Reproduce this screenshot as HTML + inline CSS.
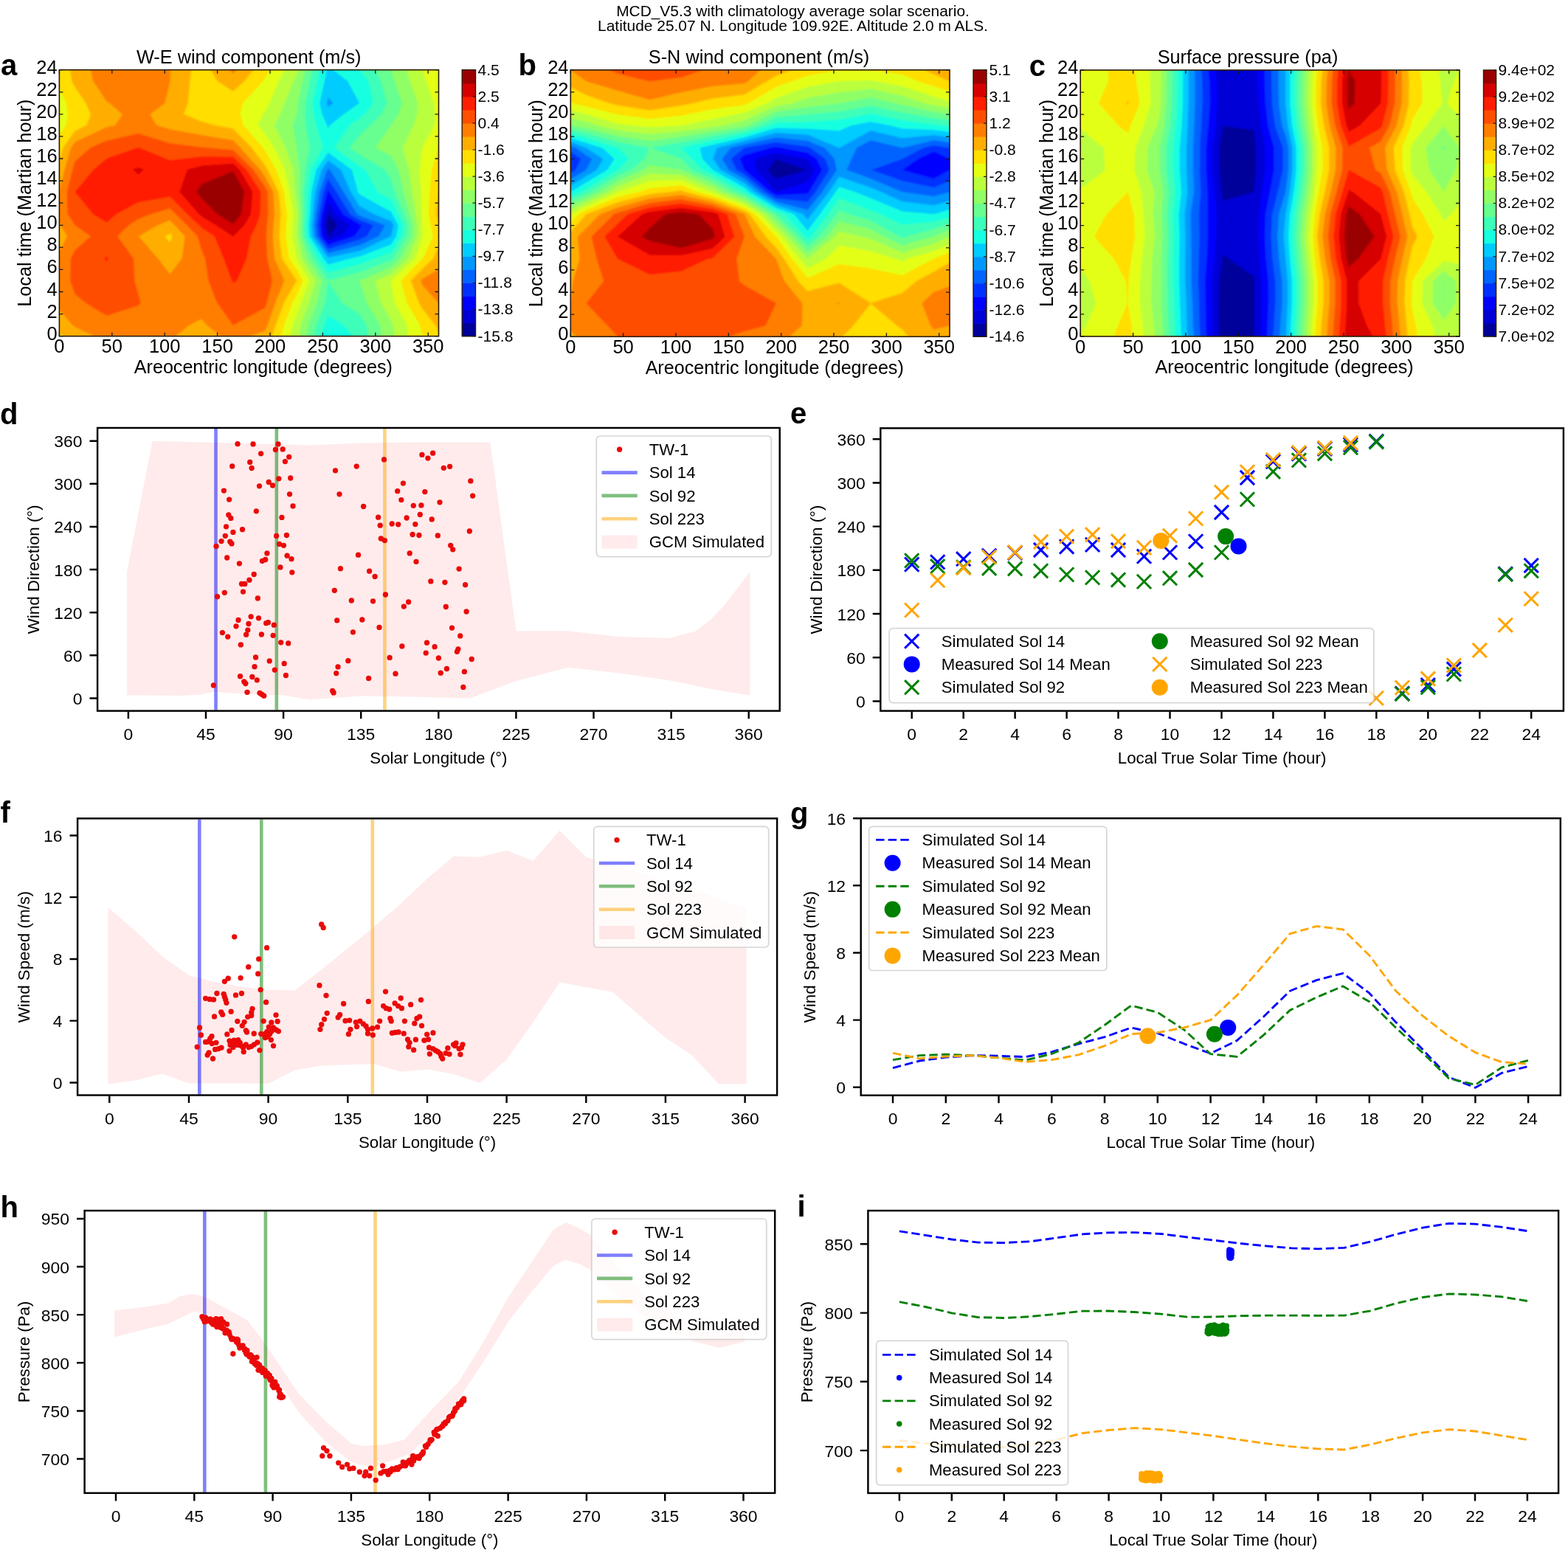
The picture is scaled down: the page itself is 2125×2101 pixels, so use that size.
<!DOCTYPE html>
<html lang="en"><head><meta charset="utf-8"><title>Figure</title>
<style>
html,body{margin:0;padding:0;background:#fff;}
body{width:2125px;height:2101px;overflow:hidden;}
svg{display:block;font-family:'Liberation Sans', sans-serif;}
</style></head><body>
<svg width="2125" height="2101" viewBox="0 0 2125 2101">
<rect x="0" y="0" width="2125" height="2101" fill="#fff"/>
<defs><filter id="hb" x="-5%" y="-5%" width="110%" height="110%"><feGaussianBlur stdDeviation="1.1"/></filter></defs>
<text x="1074.5" y="21.5" font-size="20.92" text-anchor="middle" fill="#000">MCD_V5.3 with climatology average solar scenario.</text>
<text x="1074.5" y="42.4" font-size="20.92" text-anchor="middle" fill="#000">Latitude 25.07 N. Longitude 109.92E. Altitude 2.0 m ALS.</text>
<clipPath id="clip_a"><rect x="80.4" y="94.7" width="514.1" height="361"/></clipPath>
<g clip-path="url(#clip_a)"><g filter="url(#hb)">
<rect x="72.4" y="86.7" width="530.1" height="377" fill="#00009b"/>
<path fill="#0000d6" stroke="#0000d6" stroke-width="0.6" fill-rule="evenodd" d="M72.4 463.7L80.4 463.7L101.8 463.7L144.7 463.7L187.5 463.7L230.3 463.7L273.2 463.7L316 463.7L358.9 463.7L401.7 463.7L444.6 463.7L487.4 463.7L530.2 463.7L573.1 463.7L594.5 463.7L602.5 463.7L602.5 455.7L602.5 440.7L602.5 410.6L602.5 380.5L602.5 350.4L602.5 320.3L602.5 305.3L602.5 290.2L602.5 260.2L602.5 230.1L602.5 200L602.5 169.9L602.5 154.9L602.5 139.8L602.5 109.7L602.5 94.7L602.5 86.7L594.5 86.7L573.1 86.7L530.2 86.7L487.4 86.7L444.6 86.7L401.7 86.7L358.9 86.7L316 86.7L273.2 86.7L230.3 86.7L187.5 86.7L144.7 86.7L101.8 86.7L80.4 86.7L72.4 86.7L72.4 94.7L72.4 109.7L72.4 139.8L72.4 154.9L72.4 169.9L72.4 200L72.4 230.1L72.4 260.2L72.4 290.2L72.4 305.3L72.4 320.3L72.4 350.4L72.4 380.5L72.4 410.6L72.4 440.7L72.4 455.7ZM444.6 320.9L444.1 320.3L441.5 305.3L444.1 290.2L444.6 288.7L445.5 290.2L457.7 305.3L446.3 320.3Z"/>
<path fill="#0000ff" stroke="#0000ff" stroke-width="0.6" fill-rule="evenodd" d="M72.4 463.7L80.4 463.7L101.8 463.7L144.7 463.7L187.5 463.7L230.3 463.7L273.2 463.7L316 463.7L358.9 463.7L401.7 463.7L444.6 463.7L487.4 463.7L530.2 463.7L573.1 463.7L594.5 463.7L602.5 463.7L602.5 455.7L602.5 440.7L602.5 410.6L602.5 380.5L602.5 350.4L602.5 320.3L602.5 305.3L602.5 290.2L602.5 260.2L602.5 230.1L602.5 200L602.5 169.9L602.5 154.9L602.5 139.8L602.5 109.7L602.5 94.7L602.5 86.7L594.5 86.7L573.1 86.7L530.2 86.7L487.4 86.7L444.6 86.7L401.7 86.7L358.9 86.7L316 86.7L273.2 86.7L230.3 86.7L187.5 86.7L144.7 86.7L101.8 86.7L80.4 86.7L72.4 86.7L72.4 94.7L72.4 109.7L72.4 139.8L72.4 154.9L72.4 169.9L72.4 200L72.4 230.1L72.4 260.2L72.4 290.2L72.4 305.3L72.4 320.3L72.4 350.4L72.4 380.5L72.4 410.6L72.4 440.7L72.4 455.7ZM444.6 326.6L440 320.3L437.7 305.3L440.1 290.2L444.6 272.8L455.3 290.2L474.2 305.3L463.4 320.3Z"/>
<path fill="#0030ff" stroke="#0030ff" stroke-width="0.6" fill-rule="evenodd" d="M72.4 463.7L80.4 463.7L101.8 463.7L144.7 463.7L187.5 463.7L230.3 463.7L273.2 463.7L316 463.7L358.9 463.7L401.7 463.7L444.6 463.7L487.4 463.7L530.2 463.7L573.1 463.7L594.5 463.7L602.5 463.7L602.5 455.7L602.5 440.7L602.5 410.6L602.5 380.5L602.5 350.4L602.5 320.3L602.5 305.3L602.5 290.2L602.5 260.2L602.5 230.1L602.5 200L602.5 169.9L602.5 154.9L602.5 139.8L602.5 109.7L602.5 94.7L602.5 86.7L594.5 86.7L573.1 86.7L530.2 86.7L487.4 86.7L444.6 86.7L401.7 86.7L358.9 86.7L316 86.7L273.2 86.7L230.3 86.7L187.5 86.7L144.7 86.7L101.8 86.7L80.4 86.7L72.4 86.7L72.4 94.7L72.4 109.7L72.4 139.8L72.4 154.9L72.4 169.9L72.4 200L72.4 230.1L72.4 260.2L72.4 290.2L72.4 305.3L72.4 320.3L72.4 350.4L72.4 380.5L72.4 410.6L72.4 440.7L72.4 455.7ZM444.6 332.2L435.9 320.3L433.8 305.3L436.1 290.2L443.5 260.2L444.6 257.1L446.5 260.2L465 290.2L487.4 304.1L490.6 305.3L487.4 310.3L480.5 320.3Z"/>
<path fill="#0064ff" stroke="#0064ff" stroke-width="0.6" fill-rule="evenodd" d="M72.4 463.7L80.4 463.7L101.8 463.7L144.7 463.7L187.5 463.7L230.3 463.7L273.2 463.7L316 463.7L358.9 463.7L401.7 463.7L444.6 463.7L487.4 463.7L530.2 463.7L573.1 463.7L594.5 463.7L602.5 463.7L602.5 455.7L602.5 440.7L602.5 410.6L602.5 380.5L602.5 350.4L602.5 320.3L602.5 305.3L602.5 290.2L602.5 260.2L602.5 230.1L602.5 200L602.5 169.9L602.5 154.9L602.5 139.8L602.5 109.7L602.5 94.7L602.5 86.7L594.5 86.7L573.1 86.7L530.2 86.7L487.4 86.7L444.6 86.7L401.7 86.7L358.9 86.7L316 86.7L273.2 86.7L230.3 86.7L187.5 86.7L144.7 86.7L101.8 86.7L80.4 86.7L72.4 86.7L72.4 94.7L72.4 109.7L72.4 139.8L72.4 154.9L72.4 169.9L72.4 200L72.4 230.1L72.4 260.2L72.4 290.2L72.4 305.3L72.4 320.3L72.4 350.4L72.4 380.5L72.4 410.6L72.4 440.7L72.4 455.7ZM444.6 337.9L431.8 320.3L430 305.3L432 290.2L438 260.2L444.6 242.1L456.2 260.2L474.7 290.2L487.4 298.1L506.4 305.3L497.3 320.3L487.4 325Z"/>
<path fill="#0098ff" stroke="#0098ff" stroke-width="0.6" fill-rule="evenodd" d="M72.4 463.7L80.4 463.7L101.8 463.7L144.7 463.7L187.5 463.7L230.3 463.7L273.2 463.7L316 463.7L358.9 463.7L401.7 463.7L444.6 463.7L487.4 463.7L530.2 463.7L573.1 463.7L594.5 463.7L602.5 463.7L602.5 455.7L602.5 440.7L602.5 410.6L602.5 380.5L602.5 350.4L602.5 320.3L602.5 305.3L602.5 290.2L602.5 260.2L602.5 230.1L602.5 200L602.5 169.9L602.5 154.9L602.5 139.8L602.5 109.7L602.5 94.7L602.5 86.7L594.5 86.7L573.1 86.7L530.2 86.7L487.4 86.7L444.6 86.7L401.7 86.7L358.9 86.7L316 86.7L273.2 86.7L230.3 86.7L187.5 86.7L144.7 86.7L101.8 86.7L80.4 86.7L72.4 86.7L72.4 94.7L72.4 109.7L72.4 139.8L72.4 154.9L72.4 169.9L72.4 200L72.4 230.1L72.4 260.2L72.4 290.2L72.4 305.3L72.4 320.3L72.4 350.4L72.4 380.5L72.4 410.6L72.4 440.7L72.4 455.7ZM444.6 343.6L427.7 320.3L426.2 305.3L428 290.2L432.6 260.2L443.1 230.1L444.6 227.9L447.5 230.1L466 260.2L484.5 290.2L487.4 292L522.3 305.3L513.8 320.3L487.4 332.7Z"/>
<path fill="#00ccff" stroke="#00ccff" stroke-width="0.6" fill-rule="evenodd" d="M72.4 463.7L80.4 463.7L101.8 463.7L144.7 463.7L187.5 463.7L230.3 463.7L273.2 463.7L316 463.7L358.9 463.7L401.7 463.7L444.6 463.7L487.4 463.7L530.2 463.7L573.1 463.7L594.5 463.7L602.5 463.7L602.5 455.7L602.5 440.7L602.5 410.6L602.5 380.5L602.5 350.4L602.5 320.3L602.5 305.3L602.5 290.2L602.5 260.2L602.5 230.1L602.5 200L602.5 169.9L602.5 154.9L602.5 139.8L602.5 109.7L602.5 94.7L602.5 86.7L594.5 86.7L573.1 86.7L530.2 86.7L487.4 86.7L444.6 86.7L401.7 86.7L358.9 86.7L316 86.7L273.2 86.7L230.3 86.7L187.5 86.7L144.7 86.7L101.8 86.7L80.4 86.7L72.4 86.7L72.4 94.7L72.4 109.7L72.4 139.8L72.4 154.9L72.4 169.9L72.4 200L72.4 230.1L72.4 260.2L72.4 290.2L72.4 305.3L72.4 320.3L72.4 350.4L72.4 380.5L72.4 410.6L72.4 440.7L72.4 455.7ZM444.6 349.3L423.5 320.3L422.4 305.3L423.9 290.2L427.2 260.2L435.7 230.1L444.6 217.2L462.3 230.1L475.7 260.2L487.4 279.2L507.4 290.2L530.2 299.5L533.5 305.3L530.2 320.3L530.2 320.3L487.4 340.4ZM444.6 145.8L442.6 139.8L444.6 131.2L451.7 139.8Z"/>
<path fill="#16ffe1" stroke="#16ffe1" stroke-width="0.6" fill-rule="evenodd" d="M72.4 463.7L80.4 463.7L101.8 463.7L144.7 463.7L187.5 463.7L230.3 463.7L273.2 463.7L316 463.7L358.9 463.7L401.7 463.7L444.6 463.7L444.6 455.7L444.6 455.7L444.6 455.7L444.6 463.7L487.4 463.7L530.2 463.7L573.1 463.7L594.5 463.7L602.5 463.7L602.5 455.7L602.5 440.7L602.5 410.6L602.5 380.5L602.5 350.4L602.5 320.3L602.5 305.3L602.5 290.2L602.5 260.2L602.5 230.1L602.5 200L602.5 169.9L602.5 154.9L602.5 139.8L602.5 109.7L602.5 94.7L602.5 86.7L594.5 86.7L573.1 86.7L530.2 86.7L487.4 86.7L451.7 86.7L451.7 94.7L471.3 109.7L487.4 139.8L487.4 139.8L487.4 139.8L466 154.9L447.2 169.9L444.6 174.2L443.1 169.9L436.4 154.9L432.9 139.8L439.6 109.7L442.6 94.7L442.6 86.7L401.7 86.7L358.9 86.7L316 86.7L273.2 86.7L230.3 86.7L187.5 86.7L144.7 86.7L101.8 86.7L80.4 86.7L72.4 86.7L72.4 94.7L72.4 109.7L72.4 139.8L72.4 154.9L72.4 169.9L72.4 200L72.4 230.1L72.4 260.2L72.4 290.2L72.4 305.3L72.4 320.3L72.4 350.4L72.4 380.5L72.4 410.6L72.4 440.7L72.4 455.7ZM444.6 359L438.6 350.4L419.4 320.3L418.5 305.3L419.9 290.2L421.8 260.2L428.3 230.1L444.6 206.4L477.1 230.1L485.4 260.2L487.4 263.3L530.2 286.9L531.8 290.2L540 305.3L537.4 320.3L530.2 331.5L487.4 348.1L475.7 350.4Z"/>
<path fill="#3cffba" stroke="#3cffba" stroke-width="0.6" fill-rule="evenodd" d="M72.4 463.7L80.4 463.7L101.8 463.7L144.7 463.7L187.5 463.7L230.3 463.7L273.2 463.7L316 463.7L358.9 463.7L401.7 463.7L434.6 463.7L434.6 455.7L439.2 440.7L444.6 427L466 440.7L477.5 455.7L477.5 463.7L487.4 463.7L530.2 463.7L573.1 463.7L594.5 463.7L602.5 463.7L602.5 455.7L602.5 440.7L602.5 410.6L602.5 380.5L602.5 350.4L602.5 320.3L602.5 305.3L602.5 290.2L602.5 260.2L602.5 230.1L602.5 200L602.5 169.9L602.5 154.9L602.5 139.8L602.5 109.7L602.5 94.7L602.5 86.7L594.5 86.7L573.1 86.7L530.2 86.7L487.4 86.7L487.4 94.7L499.4 109.7L506 139.8L494.2 154.9L487.4 160.5L474 169.9L453.1 200L487.4 225.3L495.4 230.1L511.9 260.2L530.2 270.2L539.8 290.2L546.5 305.3L544.5 320.3L530.2 342.6L508.8 350.4L487.4 358.2L444.6 369.7L431.3 350.4L415.3 320.3L414.7 305.3L415.9 290.2L416.4 260.2L420.9 230.1L437.4 200L428.3 169.9L424.9 154.9L423.1 139.8L429.6 109.7L432.9 94.7L432.9 86.7L401.7 86.7L358.9 86.7L316 86.7L273.2 86.7L230.3 86.7L187.5 86.7L144.7 86.7L101.8 86.7L80.4 86.7L72.4 86.7L72.4 94.7L72.4 109.7L72.4 139.8L72.4 154.9L72.4 169.9L72.4 200L72.4 230.1L72.4 260.2L72.4 290.2L72.4 305.3L72.4 320.3L72.4 350.4L72.4 380.5L72.4 410.6L72.4 440.7L72.4 455.7Z"/>
<path fill="#66ff90" stroke="#66ff90" stroke-width="0.6" fill-rule="evenodd" d="M72.4 463.7L80.4 463.7L101.8 463.7L144.7 463.7L187.5 463.7L230.3 463.7L273.2 463.7L316 463.7L358.9 463.7L401.7 463.7L424.6 463.7L424.6 455.7L428.5 440.7L440.2 410.6L444.6 380.5L423.9 350.4L411.2 320.3L410.9 305.3L411.8 290.2L410.9 260.2L413.5 230.1L419.6 200L413.5 169.9L413.3 154.9L413.4 139.8L419.6 109.7L423.1 94.7L423.1 86.7L401.7 86.7L358.9 86.7L316 86.7L273.2 86.7L230.3 86.7L187.5 86.7L144.7 86.7L101.8 86.7L80.4 86.7L72.4 86.7L72.4 94.7L72.4 109.7L72.4 139.8L72.4 154.9L72.4 169.9L72.4 200L72.4 230.1L72.4 260.2L72.4 290.2L72.4 305.3L72.4 320.3L72.4 350.4L72.4 380.5L72.4 410.6L72.4 440.7L72.4 455.7ZM499.4 463.7L530.2 463.7L573.1 463.7L594.5 463.7L602.5 463.7L602.5 455.7L602.5 440.7L602.5 410.6L602.5 380.5L602.5 350.4L602.5 320.3L602.5 305.3L602.5 290.2L602.5 260.2L602.5 230.1L602.5 200L602.5 169.9L602.5 154.9L602.5 139.8L602.5 109.7L602.5 94.7L602.5 86.7L594.5 86.7L573.1 86.7L530.2 86.7L508.8 86.7L508.8 94.7L516.5 109.7L524.6 139.8L516.7 154.9L501.7 169.9L487.4 183.6L474.5 200L487.4 209.5L522.2 230.1L530.2 243L535 260.2L547.7 290.2L553 305.3L551.7 320.3L533.2 350.4L530.2 353.1L487.4 369.3L444.6 380.5L463.6 410.6L487.4 425.6L496.7 440.7L499.4 455.7Z"/>
<path fill="#90ff66" stroke="#90ff66" stroke-width="0.6" fill-rule="evenodd" d="M72.4 463.7L80.4 463.7L101.8 463.7L144.7 463.7L187.5 463.7L230.3 463.7L273.2 463.7L316 463.7L358.9 463.7L401.7 463.7L414.7 463.7L414.7 455.7L417.8 440.7L429.2 410.6L436 380.5L416.5 350.4L407.1 320.3L407.1 305.3L407.8 290.2L405.5 260.2L406.1 230.1L401.7 200L401.7 200L396.7 169.9L401.7 154.9L401.7 154.9L403.7 139.8L409.7 109.7L413.4 94.7L413.4 86.7L401.7 86.7L358.9 86.7L316 86.7L273.2 86.7L230.3 86.7L187.5 86.7L144.7 86.7L101.8 86.7L80.4 86.7L72.4 86.7L72.4 94.7L72.4 109.7L72.4 139.8L72.4 154.9L72.4 169.9L72.4 200L72.4 230.1L72.4 260.2L72.4 290.2L72.4 305.3L72.4 320.3L72.4 350.4L72.4 380.5L72.4 410.6L72.4 440.7L72.4 455.7ZM516.5 463.7L530.2 463.7L573.1 463.7L594.5 463.7L602.5 463.7L602.5 455.7L602.5 440.7L602.5 410.6L602.5 380.5L602.5 350.4L602.5 320.3L602.5 305.3L602.5 290.2L602.5 260.2L602.5 230.1L602.5 200L602.5 169.9L602.5 154.9L602.5 139.8L602.5 109.7L602.5 94.7L602.5 86.7L594.5 86.7L573.1 86.7L530.2 86.7L530.2 94.7L534.5 109.7L545.2 139.8L540.3 154.9L530.2 169.9L530.2 169.9L508.8 200L530.2 210.9L540.2 230.1L546.9 260.2L555.6 290.2L559.4 305.3L558.8 320.3L543.2 350.4L530.2 362.3L487.4 380.5L497.1 410.6L515.3 440.7L516.5 455.7Z"/>
<path fill="#baff3c" stroke="#baff3c" stroke-width="0.6" fill-rule="evenodd" d="M72.4 463.7L80.4 463.7L101.8 463.7L144.7 463.7L187.5 463.7L230.3 463.7L273.2 463.7L316 463.7L358.9 463.7L401.7 463.7L404.7 463.7L404.7 455.7L407.1 440.7L418.2 410.6L427.4 380.5L409.1 350.4L402.9 320.3L403.2 305.3L403.7 290.2L401.7 271.4L399.5 260.2L397.1 230.1L386.4 200L371.5 169.9L379.2 154.9L385.4 139.8L397.6 109.7L401.7 102.2L403.7 94.7L403.7 86.7L401.7 86.7L358.9 86.7L316 86.7L273.2 86.7L230.3 86.7L187.5 86.7L144.7 86.7L101.8 86.7L80.4 86.7L72.4 86.7L72.4 94.7L72.4 109.7L72.4 139.8L72.4 154.9L72.4 169.9L72.4 200L72.4 230.1L72.4 260.2L72.4 290.2L72.4 305.3L72.4 320.3L72.4 350.4L72.4 380.5L72.4 410.6L72.4 440.7L72.4 455.7ZM534.1 463.7L573.1 463.7L594.5 463.7L602.5 463.7L602.5 455.7L602.5 440.7L602.5 410.6L602.5 380.5L602.5 350.4L602.5 320.3L602.5 305.3L602.5 290.2L602.5 260.2L602.5 230.1L602.5 200L602.5 169.9L602.5 154.9L602.5 139.8L602.5 109.7L602.5 94.7L602.5 86.7L594.5 86.7L573.1 86.7L551.7 86.7L551.7 94.7L555.9 109.7L566.7 139.8L565.5 154.9L560.8 169.9L546.3 200L554.5 230.1L558.8 260.2L563.6 290.2L565.9 305.3L565.9 320.3L553.2 350.4L530.2 371.4L508.8 380.5L516.6 410.6L530.2 434L533.8 440.7L534.1 455.7Z"/>
<path fill="#e4ff13" stroke="#e4ff13" stroke-width="0.6" fill-rule="evenodd" d="M72.4 463.7L80.4 463.7L101.8 463.7L144.7 463.7L187.5 463.7L230.3 463.7L273.2 463.7L316 463.7L358.9 463.7L392.9 463.7L392.9 455.7L396.1 440.7L401.7 425.6L407.2 410.6L418.8 380.5L401.7 350.4L401.7 350.4L395.6 320.3L396.5 305.3L397.4 290.2L392.1 260.2L385.5 230.1L371.1 200L358.9 181.5L349.1 169.9L355.8 154.9L358.9 151.1L365 139.8L377.2 109.7L385.4 94.7L385.4 86.7L358.9 86.7L316 86.7L273.2 86.7L230.3 86.7L187.5 86.7L144.7 86.7L101.8 86.7L80.4 86.7L72.4 86.7L72.4 94.7L72.4 109.7L72.4 139.8L72.4 154.9L72.4 169.9L72.4 200L72.4 230.1L72.4 260.2L72.4 290.2L72.4 305.3L72.4 320.3L72.4 350.4L72.4 380.5L72.4 410.6L72.4 440.7L72.4 455.7ZM553.6 463.7L573.1 463.7L594.5 463.7L602.5 463.7L602.5 455.7L602.5 440.7L602.5 410.6L602.5 380.5L602.5 350.4L602.5 320.3L602.5 305.3L602.5 290.2L602.5 260.2L602.5 230.1L602.5 200L602.5 169.9L602.5 154.9L602.5 139.8L602.5 109.7L602.5 94.7L602.5 86.7L594.5 86.7L573.1 86.7L573.1 94.7L577.8 109.7L588.1 139.8L589.7 154.9L589.1 169.9L573.1 200L573.1 200L568.8 230.1L570.7 260.2L571.5 290.2L572.4 305.3L573.1 320.3L573.1 320.3L573.1 320.3L563.1 350.4L530.2 380.5L535.2 410.6L551.7 440.7L553.6 455.7Z"/>
<path fill="#ffde00" stroke="#ffde00" stroke-width="0.6" fill-rule="evenodd" d="M72.4 463.7L80.4 463.7L101.8 463.7L144.7 463.7L187.5 463.7L230.3 463.7L273.2 463.7L316 463.7L358.9 463.7L380.3 463.7L380.3 455.7L384.8 440.7L395.9 410.6L401.7 400.5L410.3 380.5L401.7 365.4L391.7 350.4L386.8 320.3L387.7 305.3L388.9 290.2L384.7 260.2L373.9 230.1L358.9 204L355.8 200L329.7 169.9L325.2 154.9L328.9 139.8L356.4 109.7L358.9 106L365 94.7L365 86.7L358.9 86.7L316 86.7L273.2 86.7L230.3 86.7L187.5 86.7L144.7 86.7L101.8 86.7L80.4 86.7L72.4 86.7L72.4 94.7L72.4 109.7L72.4 119.8L80.4 119.8L89.9 139.8L92.3 154.9L89.9 169.9L80.4 183.3L72.4 183.3L72.4 200L72.4 230.1L72.4 260.2L72.4 290.2L72.4 305.3L72.4 320.3L72.4 350.4L72.4 380.5L72.4 410.6L72.4 440.7L72.4 455.7ZM573.1 463.7L594.5 463.7L602.5 463.7L602.5 455.7L602.5 440.7L602.5 410.6L602.5 380.5L602.5 350.4L602.5 320.3L602.5 305.3L602.5 290.2L602.5 260.2L602.5 230.1L602.5 200L594.5 200L585.6 230.1L582.6 260.2L581.2 290.2L583.8 305.3L587.4 320.3L573.1 350.4L573.1 350.4L543.6 380.5L551.7 410.6L569.5 440.7L573.1 455.7L573.1 455.7Z"/>
<path fill="#ffae00" stroke="#ffae00" stroke-width="0.6" fill-rule="evenodd" d="M86.5 463.7L101.8 463.7L144.7 463.7L187.5 463.7L230.3 463.7L273.2 463.7L316 463.7L358.9 463.7L367.7 463.7L367.7 455.7L373.5 440.7L384.3 410.6L401.7 380.5L381.8 350.4L378.1 320.3L379 305.3L380.3 290.2L377.3 260.2L362.3 230.1L358.9 224.1L340.5 200L316 174.7L290.3 169.9L273.2 164.9L248.7 154.9L254.4 139.8L257.1 109.7L258.9 94.7L258.9 86.7L230.3 86.7L187.5 86.7L144.7 86.7L101.8 86.7L95.4 86.7L95.4 94.7L97.5 109.7L101.8 118.3L116.6 139.8L123.2 154.9L117.7 169.9L101.8 177.4L85.8 200L80.4 218.8L72.4 218.8L72.4 230.1L72.4 260.2L72.4 290.2L72.4 305.3L72.4 320.3L72.4 350.4L72.4 380.5L72.4 410.6L72.4 440.7L72.4 451.4L80.4 451.4L86.5 455.7ZM230.3 328.9L223.2 320.3L230.3 316.6L233.8 320.3ZM590.2 440.7L594.5 448.2L602.5 448.2L602.5 440.7L602.5 410.6L602.5 380.5L602.5 350.4L602.5 335.4L594.5 335.4L587.4 350.4L573.1 364.1L557 380.5L568.1 410.6L573.1 418.8ZM591.4 290.2L594.5 301.5L602.5 301.5L602.5 290.2L602.5 260.2L594.5 260.2ZM294.6 109.7L316 123.6L331.1 109.7L343.1 94.7L343.1 86.7L316 86.7L285.8 86.7L285.8 94.7Z"/>
<path fill="#ff7e00" stroke="#ff7e00" stroke-width="0.6" fill-rule="evenodd" d="M128.6 463.7L144.7 463.7L187.5 463.7L230.3 463.7L237.5 463.7L237.5 455.7L256.1 440.7L273.2 432.1L280.3 440.7L300 455.7L300 463.7L316 463.7L337.4 463.7L337.4 455.7L358.9 448.2L362.3 440.7L372.8 410.6L385.2 380.5L371.8 350.4L369.4 320.3L370.2 305.3L371.7 290.2L370 260.2L358.9 239.6L352.4 230.1L325.2 200L316 190.5L273.2 183.3L230.3 175.5L212 169.9L203.1 154.9L223.2 139.8L230.3 109.7L230.3 94.7L230.3 86.7L187.5 86.7L144.7 86.7L123.2 86.7L123.2 94.7L126.3 109.7L144.7 137.5L148.6 139.8L166.1 154.9L156.3 169.9L144.7 172.6L101.8 192.5L96.5 200L87.9 230.1L80.4 260.2L80.4 260.2L72.4 260.2L72.4 290.2L72.4 301.5L80.4 301.5L82.3 305.3L91.1 320.3L80.4 341.8L72.4 341.8L72.4 350.4L72.4 380.5L72.4 410.6L72.4 419.2L80.4 419.2L98.3 440.7L101.8 443.2L128.6 455.7ZM230.3 371.9L213.9 350.4L187.5 320.3L187.5 320.3L187.5 320.3L213.2 305.3L230.3 298.6L236.9 305.3L250.9 320.3L246.8 350.4ZM570.4 380.5L573.1 387.2L594.5 410.6L602.5 410.6L602.5 380.5L602.5 365.4L594.5 365.4L573.1 377.8ZM311 94.7L316 99.7L320.5 94.7L320.5 86.7L316 86.7L311 86.7Z"/>
<path fill="#ff4e00" stroke="#ff4e00" stroke-width="0.6" fill-rule="evenodd" d="M116.1 410.6L144.7 427.8L187.5 413.9L190.4 410.6L187.5 400.5L182.1 380.5L180.6 350.4L158.9 320.3L174.3 305.3L187.5 296.7L203.6 290.2L230.3 282.3L238.3 290.2L253.4 305.3L268 320.3L273.2 338.4L278.2 350.4L282.7 380.5L294.6 410.6L316 440.7L358.9 417.3L361.2 410.6L368.8 380.5L361.9 350.4L360.6 320.3L361.5 305.3L363.2 290.2L362.6 260.2L358.9 253.3L343 230.1L316 203.6L273.2 200L273.2 200L230.3 194.4L187.5 181.2L144.7 190.9L123.2 200L101.8 218.8L98.6 230.1L91.1 260.2L91.9 290.2L101.8 305.3L101.8 305.3L123.2 320.3L101.8 339.1L96 350.4L95.4 380.5L101.8 398.5Z"/>
<path fill="#ff1e00" stroke="#ff1e00" stroke-width="0.6" fill-rule="evenodd" d="M314.4 380.5L316 383.2L320.8 380.5L333.9 350.4L339.8 320.3L347.3 305.3L352.4 290.2L353.2 260.2L333.7 230.1L316 212.8L273.2 212.5L230.3 217.5L187.5 200L144.7 215L126.8 230.1L101.8 260.2L126.3 290.2L144.7 301.5L157.5 290.2L187.5 274L230.3 266.5L254.1 290.2L269.9 305.3L273.2 308.6L290.8 320.3L303.4 350.4ZM141.8 350.4L144.7 354.7L146.4 350.4L144.7 347.7Z"/>
<path fill="#d60000" stroke="#d60000" stroke-width="0.6" fill-rule="evenodd" d="M293.3 305.3L316 320.3L330.9 305.3L339.4 290.2L342 260.2L324.4 230.1L316 221.9L273.2 225.1L254.1 230.1L243.9 260.2L270 290.2L273.2 293.2ZM180.4 230.1L187.5 236.1L194.6 230.1L187.5 227.3Z"/>
<path fill="#9b0000" stroke="#9b0000" stroke-width="0.6" fill-rule="evenodd" d="M294.6 290.2L316 303.6L326.4 290.2L330.7 260.2L316 232.2L273.2 250.1L266.4 260.2L273.2 268.4Z"/>
</g></g>
<rect x="80.4" y="94.7" width="514.1" height="361" fill="none" stroke="#2a1a00" stroke-width="1.6"/>
<path d="M80.4 455.7v-5M80.4 94.7v5M151.8 455.7v-5M151.8 94.7v5M223.2 455.7v-5M223.2 94.7v5M294.6 455.7v-5M294.6 94.7v5M366 455.7v-5M366 94.7v5M437.4 455.7v-5M437.4 94.7v5M508.8 455.7v-5M508.8 94.7v5M580.2 455.7v-5M580.2 94.7v5M80.4 455.7h5M594.5 455.7h-5M80.4 425.6h5M594.5 425.6h-5M80.4 395.5h5M594.5 395.5h-5M80.4 365.4h5M594.5 365.4h-5M80.4 335.4h5M594.5 335.4h-5M80.4 305.3h5M594.5 305.3h-5M80.4 275.2h5M594.5 275.2h-5M80.4 245.1h5M594.5 245.1h-5M80.4 215h5M594.5 215h-5M80.4 184.9h5M594.5 184.9h-5M80.4 154.9h5M594.5 154.9h-5M80.4 124.8h5M594.5 124.8h-5M80.4 94.7h5M594.5 94.7h-5" stroke="#1a1a1a" stroke-width="1.3" fill="none"/>
<text x="80.4" y="478.2" font-size="25.5" text-anchor="middle" fill="#000">0</text>
<text x="151.8" y="478.2" font-size="25.5" text-anchor="middle" fill="#000">50</text>
<text x="223.2" y="478.2" font-size="25.5" text-anchor="middle" fill="#000">100</text>
<text x="294.6" y="478.2" font-size="25.5" text-anchor="middle" fill="#000">150</text>
<text x="366" y="478.2" font-size="25.5" text-anchor="middle" fill="#000">200</text>
<text x="437.4" y="478.2" font-size="25.5" text-anchor="middle" fill="#000">250</text>
<text x="508.8" y="478.2" font-size="25.5" text-anchor="middle" fill="#000">300</text>
<text x="580.2" y="478.2" font-size="25.5" text-anchor="middle" fill="#000">350</text>
<text x="77.6" y="460.7" font-size="25.5" text-anchor="end" fill="#000">0</text>
<text x="77.6" y="430.6" font-size="25.5" text-anchor="end" fill="#000">2</text>
<text x="77.6" y="400.5" font-size="25.5" text-anchor="end" fill="#000">4</text>
<text x="77.6" y="370.4" font-size="25.5" text-anchor="end" fill="#000">6</text>
<text x="77.6" y="340.4" font-size="25.5" text-anchor="end" fill="#000">8</text>
<text x="77.6" y="310.3" font-size="25.5" text-anchor="end" fill="#000">10</text>
<text x="77.6" y="280.2" font-size="25.5" text-anchor="end" fill="#000">12</text>
<text x="77.6" y="250.1" font-size="25.5" text-anchor="end" fill="#000">14</text>
<text x="77.6" y="220" font-size="25.5" text-anchor="end" fill="#000">16</text>
<text x="77.6" y="189.9" font-size="25.5" text-anchor="end" fill="#000">18</text>
<text x="77.6" y="159.9" font-size="25.5" text-anchor="end" fill="#000">20</text>
<text x="77.6" y="129.8" font-size="25.5" text-anchor="end" fill="#000">22</text>
<text x="77.6" y="99.7" font-size="25.5" text-anchor="end" fill="#000">24</text>
<text x="356.9" y="505.9" font-size="25.1" text-anchor="middle" fill="#000">Areocentric longitude (degrees)</text>
<text x="42" y="275.2" font-size="25.3" text-anchor="middle" transform="rotate(-90 42 275.2)" fill="#000">Local time (Martian hour)</text>
<text x="337.2" y="85.7" font-size="25.3" text-anchor="middle" fill="#000">W-E wind component (m/s)</text>
<text x="1" y="102.2" font-size="40" text-anchor="start" font-weight="bold" fill="#000">a</text>
<rect x="626.2" y="437.6" width="18.3" height="18.6" fill="#00009b"/>
<rect x="626.2" y="419.6" width="18.3" height="18.6" fill="#0000d6"/>
<rect x="626.2" y="401.6" width="18.3" height="18.6" fill="#0000ff"/>
<rect x="626.2" y="383.5" width="18.3" height="18.6" fill="#0030ff"/>
<rect x="626.2" y="365.4" width="18.3" height="18.6" fill="#0064ff"/>
<rect x="626.2" y="347.4" width="18.3" height="18.6" fill="#0098ff"/>
<rect x="626.2" y="329.4" width="18.3" height="18.6" fill="#00ccff"/>
<rect x="626.2" y="311.3" width="18.3" height="18.6" fill="#16ffe1"/>
<rect x="626.2" y="293.2" width="18.3" height="18.6" fill="#3cffba"/>
<rect x="626.2" y="275.2" width="18.3" height="18.6" fill="#66ff90"/>
<rect x="626.2" y="257.1" width="18.3" height="18.6" fill="#90ff66"/>
<rect x="626.2" y="239.1" width="18.3" height="18.6" fill="#baff3c"/>
<rect x="626.2" y="221" width="18.3" height="18.6" fill="#e4ff13"/>
<rect x="626.2" y="203" width="18.3" height="18.6" fill="#ffde00"/>
<rect x="626.2" y="184.9" width="18.3" height="18.6" fill="#ffae00"/>
<rect x="626.2" y="166.9" width="18.3" height="18.6" fill="#ff7e00"/>
<rect x="626.2" y="148.9" width="18.3" height="18.6" fill="#ff4e00"/>
<rect x="626.2" y="130.8" width="18.3" height="18.6" fill="#ff1e00"/>
<rect x="626.2" y="112.8" width="18.3" height="18.6" fill="#d60000"/>
<rect x="626.2" y="94.7" width="18.3" height="18.6" fill="#9b0000"/>
<rect x="626.2" y="94.7" width="18.3" height="361" fill="none" stroke="#2a1a00" stroke-width="1.4"/>
<text x="647.5" y="101.5" font-size="21.0" text-anchor="start" fill="#000">4.5</text>
<text x="647.5" y="137.6" font-size="21.0" text-anchor="start" fill="#000">2.5</text>
<text x="647.5" y="173.7" font-size="21.0" text-anchor="start" fill="#000">0.4</text>
<text x="647.5" y="209.8" font-size="21.0" text-anchor="start" fill="#000">-1.6</text>
<text x="647.5" y="245.9" font-size="21.0" text-anchor="start" fill="#000">-3.6</text>
<text x="647.5" y="282" font-size="21.0" text-anchor="start" fill="#000">-5.7</text>
<text x="647.5" y="318.1" font-size="21.0" text-anchor="start" fill="#000">-7.7</text>
<text x="647.5" y="354.2" font-size="21.0" text-anchor="start" fill="#000">-9.7</text>
<text x="647.5" y="390.3" font-size="21.0" text-anchor="start" fill="#000">-11.8</text>
<text x="647.5" y="426.4" font-size="21.0" text-anchor="start" fill="#000">-13.8</text>
<text x="647.5" y="462.5" font-size="21.0" text-anchor="start" fill="#000">-15.8</text>
<path d="M644.5 94.7h-4M644.5 130.8h-4M644.5 166.9h-4M644.5 203h-4M644.5 239.1h-4M644.5 275.2h-4M644.5 311.3h-4M644.5 347.4h-4M644.5 383.5h-4M644.5 419.6h-4M644.5 455.7h-4" stroke="#1a1a1a" stroke-width="1.2" fill="none"/>
<clipPath id="clip_b"><rect x="773.3" y="94.8" width="513.7" height="361.5"/></clipPath>
<g clip-path="url(#clip_b)"><g filter="url(#hb)">
<rect x="765.3" y="86.8" width="529.7" height="377.5" fill="#00009b"/>
<path fill="#0000d6" stroke="#0000d6" stroke-width="0.6" fill-rule="evenodd" d="M765.3 464.3L773.3 464.3L794.7 464.3L837.5 464.3L880.3 464.3L923.1 464.3L965.9 464.3L1008.7 464.3L1051.6 464.3L1094.4 464.3L1137.2 464.3L1180 464.3L1222.8 464.3L1265.6 464.3L1287 464.3L1295 464.3L1295 456.3L1295 441.2L1295 411.1L1295 381L1295 350.9L1295 320.7L1295 290.6L1295 260.5L1295 230.4L1295 215.3L1295 200.2L1295 170.1L1295 140L1295 109.9L1295 94.8L1295 86.8L1287 86.8L1265.6 86.8L1222.8 86.8L1180 86.8L1137.2 86.8L1094.4 86.8L1051.6 86.8L1008.7 86.8L965.9 86.8L923.1 86.8L880.3 86.8L837.5 86.8L794.7 86.8L773.3 86.8L765.3 86.8L765.3 94.8L765.3 109.9L765.3 140L765.3 170.1L765.3 200.2L765.3 215.3L765.3 230.4L765.3 260.5L765.3 290.6L765.3 320.7L765.3 350.9L765.3 381L765.3 411.1L765.3 441.2L765.3 456.3ZM1051.6 242.8L1040.5 230.4L1051.6 215.3L1051.6 215.3L1051.6 215.3L1094.4 230.4L1094.4 230.4L1094.4 230.4Z"/>
<path fill="#0000ff" stroke="#0000ff" stroke-width="0.6" fill-rule="evenodd" d="M765.3 464.3L773.3 464.3L794.7 464.3L837.5 464.3L880.3 464.3L923.1 464.3L965.9 464.3L1008.7 464.3L1051.6 464.3L1094.4 464.3L1137.2 464.3L1180 464.3L1222.8 464.3L1265.6 464.3L1287 464.3L1295 464.3L1295 456.3L1295 441.2L1295 411.1L1295 381L1295 350.9L1295 320.7L1295 290.6L1295 260.5L1295 230.4L1295 215.3L1295 200.2L1295 170.1L1295 140L1295 109.9L1295 94.8L1295 86.8L1287 86.8L1265.6 86.8L1222.8 86.8L1180 86.8L1137.2 86.8L1094.4 86.8L1051.6 86.8L1008.7 86.8L965.9 86.8L923.1 86.8L880.3 86.8L837.5 86.8L794.7 86.8L773.3 86.8L765.3 86.8L765.3 94.8L765.3 109.9L765.3 140L765.3 170.1L765.3 200.2L765.3 215.3L765.3 230.4L765.3 260.5L765.3 290.6L765.3 320.7L765.3 350.9L765.3 381L765.3 411.1L765.3 441.2L765.3 456.3ZM1051.6 260.5L1051.6 260.5L1024.6 230.4L1023 215.3L1051.6 206.9L1094.4 215.3L1094.4 215.3L1104.3 230.4L1094.4 247.1L1051.6 260.5ZM1265.6 230.4L1265.6 230.4L1265.6 215.3L1265.6 215.3L1265.6 215.3L1265.6 230.4Z"/>
<path fill="#0030ff" stroke="#0030ff" stroke-width="0.6" fill-rule="evenodd" d="M765.3 464.3L773.3 464.3L794.7 464.3L837.5 464.3L880.3 464.3L923.1 464.3L965.9 464.3L1008.7 464.3L1051.6 464.3L1094.4 464.3L1137.2 464.3L1180 464.3L1222.8 464.3L1265.6 464.3L1287 464.3L1295 464.3L1295 456.3L1295 441.2L1295 411.1L1295 381L1295 350.9L1295 320.7L1295 290.6L1295 260.5L1295 230.4L1287 230.4L1265.6 242.4L1222.8 230.4L1222.8 230.4L1222.8 230.4L1244.2 215.3L1265.6 205.3L1287 215.3L1295 215.3L1295 200.2L1295 170.1L1295 140L1295 109.9L1295 94.8L1295 86.8L1287 86.8L1265.6 86.8L1222.8 86.8L1180 86.8L1137.2 86.8L1094.4 86.8L1051.6 86.8L1008.7 86.8L965.9 86.8L923.1 86.8L880.3 86.8L837.5 86.8L794.7 86.8L773.3 86.8L765.3 86.8L765.3 94.8L765.3 109.9L765.3 140L765.3 170.1L765.3 200.2L765.3 215.3L773.3 215.3L773.3 215.3L773.3 215.3L765.3 215.3L765.3 230.4L765.3 260.5L765.3 290.6L765.3 320.7L765.3 350.9L765.3 381L765.3 411.1L765.3 441.2L765.3 456.3ZM1051.6 264.8L1044.4 260.5L1008.7 230.4L1008.7 230.4L1002.6 215.3L1008.7 210.3L1044.4 200.2L1051.6 199L1060.1 200.2L1094.4 206.9L1106.6 215.3L1114.3 230.4L1096.2 260.5L1094.4 262.7Z"/>
<path fill="#0064ff" stroke="#0064ff" stroke-width="0.6" fill-rule="evenodd" d="M765.3 464.3L773.3 464.3L794.7 464.3L837.5 464.3L880.3 464.3L923.1 464.3L965.9 464.3L1008.7 464.3L1051.6 464.3L1094.4 464.3L1137.2 464.3L1180 464.3L1222.8 464.3L1265.6 464.3L1287 464.3L1295 464.3L1295 456.3L1295 441.2L1295 411.1L1295 381L1295 350.9L1295 320.7L1295 290.6L1295 260.5L1295 245.4L1287 245.4L1265.6 254.5L1222.8 245.4L1180 230.4L1180 230.4L1180 230.4L1222.8 215.3L1222.8 215.3L1251.3 200.2L1265.6 196.7L1287 200.2L1295 200.2L1295 170.1L1295 140L1295 109.9L1295 94.8L1295 86.8L1287 86.8L1265.6 86.8L1222.8 86.8L1180 86.8L1137.2 86.8L1094.4 86.8L1051.6 86.8L1008.7 86.8L965.9 86.8L923.1 86.8L880.3 86.8L837.5 86.8L794.7 86.8L773.3 86.8L765.3 86.8L765.3 94.8L765.3 109.9L765.3 140L765.3 170.1L765.3 200.2L765.3 205.3L773.3 205.3L787.6 215.3L780.4 230.4L773.3 234.7L765.3 234.7L765.3 260.5L765.3 290.6L765.3 320.7L765.3 350.9L765.3 381L765.3 411.1L765.3 441.2L765.3 456.3ZM1051.6 269.1L1037.3 260.5L1008.7 236.4L998 230.4L990.4 215.3L1008.7 200.2L1008.7 200.2L1051.6 192.5L1094.4 198.6L1098.3 200.2L1118.8 215.3L1124.2 230.4L1105.3 260.5L1094.4 273.9Z"/>
<path fill="#0098ff" stroke="#0098ff" stroke-width="0.6" fill-rule="evenodd" d="M765.3 464.3L773.3 464.3L794.7 464.3L837.5 464.3L880.3 464.3L923.1 464.3L965.9 464.3L1008.7 464.3L1051.6 464.3L1094.4 464.3L1137.2 464.3L1180 464.3L1222.8 464.3L1265.6 464.3L1287 464.3L1295 464.3L1295 456.3L1295 441.2L1295 411.1L1295 381L1295 350.9L1295 320.7L1295 290.6L1295 260.5L1287 260.5L1265.6 266.5L1222.8 260.5L1222.8 260.5L1180 242.4L1147 230.4L1153.6 215.3L1161 200.2L1180 189.8L1222.8 200.2L1265.6 189.7L1287 193.1L1295 193.1L1295 170.1L1295 140L1295 109.9L1295 94.8L1295 86.8L1287 86.8L1265.6 86.8L1222.8 86.8L1180 86.8L1137.2 86.8L1094.4 86.8L1051.6 86.8L1008.7 86.8L965.9 86.8L923.1 86.8L880.3 86.8L837.5 86.8L794.7 86.8L773.3 86.8L765.3 86.8L765.3 94.8L765.3 109.9L765.3 140L765.3 170.1L765.3 197.5L773.3 197.5L780.4 200.2L794.7 210.3L802.3 215.3L794.7 230.4L794.7 230.4L773.3 243.3L765.3 243.3L765.3 260.5L765.3 290.6L765.3 320.7L765.3 350.9L765.3 381L765.3 411.1L765.3 441.2L765.3 456.3ZM1051.6 273.4L1030.1 260.5L1008.7 242.4L987.3 230.4L978.2 215.3L990.1 200.2L1008.7 195.5L1051.6 186.1L1094.4 190.5L1117.7 200.2L1131.1 215.3L1134.2 230.4L1114.4 260.5L1094.4 285Z"/>
<path fill="#00ccff" stroke="#00ccff" stroke-width="0.6" fill-rule="evenodd" d="M765.3 464.3L773.3 464.3L794.7 464.3L837.5 464.3L880.3 464.3L923.1 464.3L965.9 464.3L1008.7 464.3L1051.6 464.3L1094.4 464.3L1137.2 464.3L1180 464.3L1222.8 464.3L1265.6 464.3L1287 464.3L1295 464.3L1295 456.3L1295 441.2L1295 411.1L1295 381L1295 350.9L1295 320.7L1295 290.6L1295 272.5L1287 272.5L1265.6 278.6L1222.8 273.6L1194.2 260.5L1180 254.5L1137.2 239.9L1123.5 260.5L1100 290.6L1094.4 298.1L1088.2 290.6L1051.6 277.7L1023 260.5L1008.7 248.4L976.6 230.4L965.9 215.3L965.9 215.3L965.9 215.3L971.5 200.2L1008.7 190.7L1051.6 179.7L1094.4 182.3L1137.2 200.2L1180 176.7L1222.8 187.1L1265.6 182.7L1287 185.9L1295 185.9L1295 170.1L1295 140L1295 109.9L1295 94.8L1295 86.8L1287 86.8L1265.6 86.8L1222.8 86.8L1180 86.8L1137.2 86.8L1094.4 86.8L1051.6 86.8L1008.7 86.8L965.9 86.8L923.1 86.8L880.3 86.8L837.5 86.8L794.7 86.8L773.3 86.8L765.3 86.8L765.3 94.8L765.3 109.9L765.3 140L765.3 170.1L765.3 192L773.3 192L794.7 200.2L794.7 200.2L817.6 215.3L809 230.4L794.7 239L773.3 251.9L765.3 251.9L765.3 260.5L765.3 290.6L765.3 320.7L765.3 350.9L765.3 381L765.3 411.1L765.3 441.2L765.3 456.3Z"/>
<path fill="#16ffe1" stroke="#16ffe1" stroke-width="0.6" fill-rule="evenodd" d="M765.3 464.3L773.3 464.3L794.7 464.3L837.5 464.3L880.3 464.3L923.1 464.3L965.9 464.3L1008.7 464.3L1051.6 464.3L1094.4 464.3L1137.2 464.3L1180 464.3L1222.8 464.3L1265.6 464.3L1287 464.3L1295 464.3L1295 456.3L1295 441.2L1295 411.1L1295 381L1295 350.9L1295 320.7L1295 290.6L1295 284.6L1287 284.6L1265.6 290.6L1265.6 290.6L1265.6 290.6L1222.8 286.7L1180 268.9L1158.6 260.5L1137.2 253.6L1132.6 260.5L1111.3 290.6L1094.4 313.2L1076 290.6L1051.6 282L1015.9 260.5L1008.7 254.5L965.9 230.4L965.9 230.4L951.7 215.3L948.3 200.2L965.9 196L1008.7 185.9L1051.6 173.3L1094.4 174.2L1137.2 177.1L1153.2 170.1L1180 164.7L1206.7 170.1L1222.8 174L1265.6 175.7L1287 178.7L1295 178.7L1295 170.1L1295 140L1295 109.9L1295 94.8L1295 86.8L1287 86.8L1265.6 86.8L1222.8 86.8L1180 86.8L1137.2 86.8L1094.4 86.8L1051.6 86.8L1008.7 86.8L965.9 86.8L923.1 86.8L880.3 86.8L837.5 86.8L794.7 86.8L773.3 86.8L765.3 86.8L765.3 94.8L765.3 109.9L765.3 140L765.3 170.1L765.3 186.5L773.3 186.5L794.7 193.5L816.1 200.2L832.9 215.3L823.2 230.4L794.7 247.6L773.3 260.5L773.3 260.5L765.3 260.5L765.3 290.6L765.3 320.7L765.3 350.9L765.3 381L765.3 411.1L765.3 441.2L765.3 456.3Z"/>
<path fill="#3cffba" stroke="#3cffba" stroke-width="0.6" fill-rule="evenodd" d="M765.3 464.3L773.3 464.3L794.7 464.3L837.5 464.3L880.3 464.3L923.1 464.3L965.9 464.3L1008.7 464.3L1051.6 464.3L1094.4 464.3L1137.2 464.3L1180 464.3L1222.8 464.3L1265.6 464.3L1287 464.3L1295 464.3L1295 456.3L1295 441.2L1295 411.1L1295 381L1295 350.9L1295 320.7L1295 294.9L1287 294.9L1265.6 300.7L1222.8 304.7L1192.8 290.6L1180 285.6L1137.2 268.9L1122.5 290.6L1099.7 320.7L1094.4 325L1090.5 320.7L1063.8 290.6L1051.6 286.3L1008.7 260.5L1008.7 260.5L965.9 236.6L951.7 230.4L937.4 215.3L923.1 200.2L923.1 200.2L923.1 200.2L965.9 190L1008.7 181.1L1043.9 170.1L1051.6 166.3L1094.4 165.1L1137.2 162.3L1180 154L1222.8 162.8L1265.6 168.4L1276.3 170.1L1287 171.5L1295 171.5L1295 170.1L1295 140L1295 109.9L1295 94.8L1295 86.8L1287 86.8L1265.6 86.8L1222.8 86.8L1180 86.8L1137.2 86.8L1094.4 86.8L1051.6 86.8L1008.7 86.8L965.9 86.8L923.1 86.8L880.3 86.8L837.5 86.8L794.7 86.8L773.3 86.8L765.3 86.8L765.3 94.8L765.3 109.9L765.3 140L765.3 170.1L765.3 181.1L773.3 181.1L794.7 186.8L837.5 200.2L837.5 200.2L852.5 215.3L837.5 230.4L837.5 230.4L794.7 256.2L787.6 260.5L773.3 266.5L765.3 266.5L765.3 290.6L765.3 320.7L765.3 350.9L765.3 381L765.3 411.1L765.3 441.2L765.3 456.3Z"/>
<path fill="#66ff90" stroke="#66ff90" stroke-width="0.6" fill-rule="evenodd" d="M765.3 464.3L773.3 464.3L794.7 464.3L837.5 464.3L880.3 464.3L923.1 464.3L965.9 464.3L1008.7 464.3L1051.6 464.3L1094.4 464.3L1137.2 464.3L1180 464.3L1222.8 464.3L1265.6 464.3L1287 464.3L1295 464.3L1295 456.3L1295 441.2L1295 411.1L1295 381L1295 350.9L1295 320.7L1295 303.5L1287 303.5L1265.6 310.7L1229.9 320.7L1222.8 322.7L1218.5 320.7L1180 299L1150 290.6L1137.2 285.6L1133.8 290.6L1110.4 320.7L1094.4 333.6L1082.7 320.7L1051.6 290.6L1051.6 290.6L1008.7 264.8L997.5 260.5L965.9 242.9L937.4 230.4L923.1 215.3L923.1 215.3L880.3 200.2L873.9 215.3L854.6 230.4L837.5 237.9L800.8 260.5L794.7 263.2L773.3 272.5L765.3 272.5L765.3 290.6L765.3 320.7L765.3 350.9L765.3 381L765.3 411.1L765.3 441.2L765.3 456.3ZM765.3 170.1L765.3 175.6L773.3 175.6L794.7 180.2L837.5 192.3L880.3 200.2L923.1 192.7L965.9 184L1008.7 176.3L1028.6 170.1L1051.6 158.8L1094.4 155.1L1137.2 151.1L1180 143.2L1222.8 152.5L1265.6 159.8L1287 163.4L1295 163.4L1295 140L1295 109.9L1295 94.8L1295 86.8L1287 86.8L1265.6 86.8L1222.8 86.8L1180 86.8L1137.2 86.8L1094.4 86.8L1051.6 86.8L1008.7 86.8L965.9 86.8L923.1 86.8L880.3 86.8L837.5 86.8L794.7 86.8L773.3 86.8L765.3 86.8L765.3 94.8L765.3 109.9L765.3 140Z"/>
<path fill="#90ff66" stroke="#90ff66" stroke-width="0.6" fill-rule="evenodd" d="M765.3 464.3L773.3 464.3L794.7 464.3L837.5 464.3L880.3 464.3L923.1 464.3L965.9 464.3L1008.7 464.3L1051.6 464.3L1094.4 464.3L1137.2 464.3L1180 464.3L1222.8 464.3L1265.6 464.3L1287 464.3L1295 464.3L1295 456.3L1295 441.2L1295 411.1L1295 381L1295 350.9L1295 320.7L1295 312.1L1287 312.1L1265.6 320.7L1265.6 320.7L1222.8 332.8L1197.1 320.7L1180 311.1L1137.2 300.2L1121.1 320.7L1094.4 342.3L1074.9 320.7L1051.6 298.1L1044.4 290.6L1008.7 269.1L986.2 260.5L965.9 249.2L923.1 230.4L923.1 230.4L880.3 224.1L871.8 230.4L837.5 245.4L813.1 260.5L794.7 268.7L773.3 278.6L765.3 278.6L765.3 290.6L765.3 320.7L765.3 350.9L765.3 381L765.3 411.1L765.3 441.2L765.3 456.3ZM773.3 170.1L794.7 173.5L837.5 184.4L880.3 190.8L923.1 185.2L965.9 177.9L1008.7 171.5L1013.3 170.1L1051.6 151.3L1094.4 145L1137.2 140L1137.2 140L1180 131.9L1213.3 140L1222.8 142.1L1265.6 151.2L1287 155.1L1295 155.1L1295 140L1295 109.9L1295 94.8L1295 86.8L1287 86.8L1265.6 86.8L1222.8 86.8L1180 86.8L1137.2 86.8L1094.4 86.8L1051.6 86.8L1008.7 86.8L965.9 86.8L923.1 86.8L880.3 86.8L837.5 86.8L794.7 86.8L773.3 86.8L765.3 86.8L765.3 94.8L765.3 109.9L765.3 140L765.3 170.1L773.3 170.1Z"/>
<path fill="#baff3c" stroke="#baff3c" stroke-width="0.6" fill-rule="evenodd" d="M765.3 464.3L773.3 464.3L794.7 464.3L837.5 464.3L880.3 464.3L923.1 464.3L965.9 464.3L1008.7 464.3L1051.6 464.3L1094.4 464.3L1137.2 464.3L1180 464.3L1222.8 464.3L1265.6 464.3L1287 464.3L1295 464.3L1295 456.3L1295 441.2L1295 411.1L1295 381L1295 350.9L1295 320.7L1287 320.7L1265.6 330.8L1222.8 342.8L1180 324.1L1167.7 320.7L1137.2 313.9L1131.8 320.7L1094.4 350.9L1094.4 350.9L1094.4 350.9L1067.1 320.7L1051.6 305.7L1037.3 290.6L1008.7 273.4L974.9 260.5L965.9 255.5L923.1 237.4L880.3 235.4L837.5 253L825.3 260.5L794.7 274.2L773.3 284.6L765.3 284.6L765.3 290.6L765.3 320.7L765.3 350.9L765.3 381L765.3 411.1L765.3 441.2L765.3 456.3ZM811.2 170.1L837.5 176.5L880.3 181.4L923.1 177.6L965.9 171.9L978.8 170.1L1008.7 162.8L1051.6 143.8L1073 140L1094.4 132.5L1137.2 124.9L1180 120.3L1222.8 129.5L1253.9 140L1265.6 142.6L1287 146.7L1295 146.7L1295 140L1295 109.9L1295 94.8L1295 86.8L1287 86.8L1265.6 86.8L1222.8 86.8L1180 86.8L1137.2 86.8L1094.4 86.8L1051.6 86.8L1008.7 86.8L965.9 86.8L923.1 86.8L880.3 86.8L837.5 86.8L794.7 86.8L773.3 86.8L765.3 86.8L765.3 94.8L765.3 109.9L765.3 140L765.3 159.7L773.3 159.7L794.7 164.9Z"/>
<path fill="#e4ff13" stroke="#e4ff13" stroke-width="0.6" fill-rule="evenodd" d="M765.3 464.3L773.3 464.3L794.7 464.3L837.5 464.3L880.3 464.3L923.1 464.3L965.9 464.3L1008.7 464.3L1051.6 464.3L1094.4 464.3L1137.2 464.3L1180 464.3L1222.8 464.3L1265.6 464.3L1287 464.3L1295 464.3L1295 456.3L1295 441.2L1295 411.1L1295 381L1295 350.9L1295 331.5L1287 331.5L1265.6 340.8L1229.9 350.9L1222.8 354.6L1212.1 350.9L1180 340.8L1137.2 333.3L1119.5 350.9L1094.4 364L1083.7 350.9L1059.3 320.7L1051.6 313.2L1030.1 290.6L1008.7 277.7L965.9 261.4L962.5 260.5L923.1 244.4L880.3 245.4L837.5 260.5L837.5 260.5L794.7 279.7L773.3 290.6L773.3 290.6L765.3 290.6L765.3 320.7L765.3 350.9L765.3 381L765.3 411.1L765.3 441.2L765.3 456.3ZM858.9 170.1L880.3 172L923.1 170.1L923.1 170.1L965.9 160.9L1008.7 152.5L1039 140L1051.6 132.5L1094.4 117.4L1137.2 109.9L1137.2 109.9L1180 108.5L1187.1 109.9L1222.8 116.4L1265.6 130.4L1287 137.2L1295 137.2L1295 109.9L1295 94.8L1295 86.8L1287 86.8L1265.6 86.8L1222.8 86.8L1180 86.8L1137.2 86.8L1094.4 86.8L1051.6 86.8L1008.7 86.8L965.9 86.8L923.1 86.8L880.3 86.8L837.5 86.8L794.7 86.8L773.3 86.8L765.3 86.8L765.3 94.8L765.3 109.9L765.3 140L765.3 149.3L773.3 149.3L794.7 154.5L837.5 167.6Z"/>
<path fill="#ffde00" stroke="#ffde00" stroke-width="0.6" fill-rule="evenodd" d="M765.3 464.3L773.3 464.3L794.7 464.3L837.5 464.3L880.3 464.3L923.1 464.3L965.9 464.3L1008.7 464.3L1051.6 464.3L1094.4 464.3L1137.2 464.3L1180 464.3L1222.8 464.3L1265.6 464.3L1287 464.3L1295 464.3L1295 456.3L1295 441.2L1295 411.1L1295 381L1295 350.9L1295 342.3L1287 342.3L1265.6 350.9L1265.6 350.9L1222.8 373.5L1180 364.3L1137.2 358.4L1094.4 377.1L1073 350.9L1051.6 320.7L1051.6 320.7L1023 290.6L1008.7 282L965.9 265.8L945.4 260.5L923.1 251.4L880.3 255.5L866.1 260.5L837.5 267.5L794.7 285.1L784 290.6L773.3 302.7L765.3 302.7L765.3 320.7L765.3 350.9L765.3 381L765.3 411.1L765.3 441.2L765.3 456.3ZM777.6 140L794.7 144.1L837.5 155.1L880.3 160.8L923.1 156.4L965.9 147.8L1008.7 142.1L1013.8 140L1051.6 117.4L1073 109.9L1094.4 102.3L1137.2 94.8L1137.2 86.8L1094.4 86.8L1051.6 86.8L1008.7 86.8L965.9 86.8L923.1 86.8L880.3 86.8L837.5 86.8L794.7 86.8L773.3 86.8L765.3 86.8L765.3 94.8L765.3 109.9L765.3 138L773.3 138ZM1244.2 109.9L1265.6 116.7L1287 123.6L1295 123.6L1295 109.9L1295 94.8L1295 86.8L1287 86.8L1265.6 86.8L1222.8 86.8L1180 86.8L1180 94.8L1222.8 100.4Z"/>
<path fill="#ffae00" stroke="#ffae00" stroke-width="0.6" fill-rule="evenodd" d="M765.3 464.3L773.3 464.3L794.7 464.3L837.5 464.3L880.3 464.3L923.1 464.3L965.9 464.3L1008.7 464.3L1051.6 464.3L1094.4 464.3L1137.2 464.3L1141.5 464.3L1141.5 456.3L1156.2 441.2L1180 411.1L1137.2 383.7L1094.4 395L1081.3 381L1062.3 350.9L1051.6 335.8L1037.3 320.7L1015.9 290.6L1008.7 286.3L965.9 270.2L928.3 260.5L923.1 258.4L907.1 260.5L880.3 263.5L837.5 274.5L794.7 290.6L794.7 290.6L773.3 314.7L765.3 314.7L765.3 320.7L765.3 350.9L765.3 381L765.3 411.1L765.3 441.2L765.3 456.3ZM1231.3 464.3L1265.6 464.3L1287 464.3L1295 464.3L1295 456.3L1295 441.2L1295 411.1L1295 381L1295 356.3L1287 356.3L1265.6 368.6L1242.5 381L1222.8 397.4L1180 411.1L1215.7 441.2L1222.8 446.3L1231.3 456.3ZM826.8 140L837.5 142.5L880.3 149.3L923.1 142.7L937.4 140L965.9 133.3L1008.7 127.9L1039 109.9L1051.6 102.3L1073 94.8L1073 86.8L1051.6 86.8L1008.7 86.8L965.9 86.8L923.1 86.8L880.3 86.8L837.5 86.8L794.7 86.8L773.3 86.8L765.3 86.8L765.3 94.8L765.3 109.9L765.3 117.9L773.3 117.9L794.7 128.7ZM1252.8 94.8L1265.6 100.4L1287 109.9L1295 109.9L1295 94.8L1295 86.8L1287 86.8L1265.6 86.8L1252.8 86.8Z"/>
<path fill="#ff7e00" stroke="#ff7e00" stroke-width="0.6" fill-rule="evenodd" d="M781.9 464.3L794.7 464.3L837.5 464.3L880.3 464.3L923.1 464.3L965.9 464.3L1008.7 464.3L1051.6 464.3L1069.9 464.3L1069.9 456.3L1086.6 441.2L1087.2 411.1L1062.7 381L1051.6 350.9L1051.6 350.9L1023 320.7L1008.7 290.6L1008.7 290.6L965.9 274.7L923.1 264.5L880.3 269.5L837.5 281.5L813.3 290.6L794.7 309.4L783 320.7L785.8 350.9L776.9 381L773.3 411.1L773.3 411.1L765.3 411.1L765.3 441.2L765.3 448.8L773.3 448.8L781.9 456.3ZM1261.3 441.2L1265.6 446.3L1287 441.2L1287 441.2L1295 441.2L1295 411.1L1295 388.5L1287 388.5L1265.6 396.1L1249.5 411.1ZM1133.3 411.1L1137.2 412.1L1138 411.1L1137.2 410.6ZM794.7 109.9L837.5 122.8L880.3 135L923.1 124.9L965.9 116.6L1008.7 112.9L1013.8 109.9L1030.1 94.8L1030.1 86.8L1008.7 86.8L965.9 86.8L923.1 86.8L880.3 86.8L837.5 86.8L794.7 86.8L773.3 86.8L773.3 94.8L794.7 109.9Z"/>
<path fill="#ff4e00" stroke="#ff4e00" stroke-width="0.6" fill-rule="evenodd" d="M837.5 464.3L880.3 464.3L923.1 464.3L965.9 464.3L987.3 464.3L987.3 456.3L1008.7 448.8L1037.3 441.2L1051.6 411.1L1008.7 387L1001.6 381L998 350.9L1008.7 320.7L996.9 290.6L965.9 279.1L923.1 270.3L880.3 275.6L837.5 288.5L831.9 290.6L801.8 320.7L809 350.9L818.5 381L794.7 411.1L823.2 441.2L837.5 456.3L837.5 456.3ZM826.8 94.8L837.5 99.8L880.3 109.9L923.1 104.8L951.7 94.8L951.7 86.8L923.1 86.8L880.3 86.8L837.5 86.8L826.8 86.8Z"/>
<path fill="#ff1e00" stroke="#ff1e00" stroke-width="0.6" fill-rule="evenodd" d="M837.5 350.9L880.3 371.9L923.1 367.6L958.8 350.9L965.9 349.6L995.4 320.7L985 290.6L965.9 283.5L923.1 276.1L880.3 281.6L851.1 290.6L837.5 303L819.7 320.7L837.5 350.9Z"/>
<path fill="#d60000" stroke="#d60000" stroke-width="0.6" fill-rule="evenodd" d="M837.5 320.7L880.3 345.2L923.1 345.8L965.9 336.5L982 320.7L973.1 290.6L965.9 288L923.1 281.9L880.3 287.6L870.6 290.6Z"/>
<path fill="#9b0000" stroke="#9b0000" stroke-width="0.6" fill-rule="evenodd" d="M870.4 320.7L880.3 326.4L923.1 335.8L965.9 323.4L968.6 320.7L965.9 310.7L946.9 290.6L923.1 287.7L901.7 290.6L880.3 309.4Z"/>
</g></g>
<rect x="773.3" y="94.8" width="513.7" height="361.5" fill="none" stroke="#2a1a00" stroke-width="1.6"/>
<path d="M773.3 456.3v-5M773.3 94.8v5M844.6 456.3v-5M844.6 94.8v5M916 456.3v-5M916 94.8v5M987.3 456.3v-5M987.3 94.8v5M1058.7 456.3v-5M1058.7 94.8v5M1130 456.3v-5M1130 94.8v5M1201.4 456.3v-5M1201.4 94.8v5M1272.7 456.3v-5M1272.7 94.8v5M773.3 456.3h5M1287 456.3h-5M773.3 426.2h5M1287 426.2h-5M773.3 396.1h5M1287 396.1h-5M773.3 365.9h5M1287 365.9h-5M773.3 335.8h5M1287 335.8h-5M773.3 305.7h5M1287 305.7h-5M773.3 275.6h5M1287 275.6h-5M773.3 245.4h5M1287 245.4h-5M773.3 215.3h5M1287 215.3h-5M773.3 185.2h5M1287 185.2h-5M773.3 155.1h5M1287 155.1h-5M773.3 124.9h5M1287 124.9h-5M773.3 94.8h5M1287 94.8h-5" stroke="#1a1a1a" stroke-width="1.3" fill="none"/>
<text x="773.3" y="478.8" font-size="25.5" text-anchor="middle" fill="#000">0</text>
<text x="844.6" y="478.8" font-size="25.5" text-anchor="middle" fill="#000">50</text>
<text x="916" y="478.8" font-size="25.5" text-anchor="middle" fill="#000">100</text>
<text x="987.3" y="478.8" font-size="25.5" text-anchor="middle" fill="#000">150</text>
<text x="1058.7" y="478.8" font-size="25.5" text-anchor="middle" fill="#000">200</text>
<text x="1130" y="478.8" font-size="25.5" text-anchor="middle" fill="#000">250</text>
<text x="1201.4" y="478.8" font-size="25.5" text-anchor="middle" fill="#000">300</text>
<text x="1272.7" y="478.8" font-size="25.5" text-anchor="middle" fill="#000">350</text>
<text x="770.5" y="461.3" font-size="25.5" text-anchor="end" fill="#000">0</text>
<text x="770.5" y="431.2" font-size="25.5" text-anchor="end" fill="#000">2</text>
<text x="770.5" y="401.1" font-size="25.5" text-anchor="end" fill="#000">4</text>
<text x="770.5" y="370.9" font-size="25.5" text-anchor="end" fill="#000">6</text>
<text x="770.5" y="340.8" font-size="25.5" text-anchor="end" fill="#000">8</text>
<text x="770.5" y="310.7" font-size="25.5" text-anchor="end" fill="#000">10</text>
<text x="770.5" y="280.6" font-size="25.5" text-anchor="end" fill="#000">12</text>
<text x="770.5" y="250.4" font-size="25.5" text-anchor="end" fill="#000">14</text>
<text x="770.5" y="220.3" font-size="25.5" text-anchor="end" fill="#000">16</text>
<text x="770.5" y="190.2" font-size="25.5" text-anchor="end" fill="#000">18</text>
<text x="770.5" y="160.1" font-size="25.5" text-anchor="end" fill="#000">20</text>
<text x="770.5" y="129.9" font-size="25.5" text-anchor="end" fill="#000">22</text>
<text x="770.5" y="99.8" font-size="25.5" text-anchor="end" fill="#000">24</text>
<text x="1049.7" y="506.5" font-size="25.1" text-anchor="middle" fill="#000">Areocentric longitude (degrees)</text>
<text x="735.5" y="275.6" font-size="25.3" text-anchor="middle" transform="rotate(-90 735.5 275.6)" fill="#000">Local time (Martian hour)</text>
<text x="1028.5" y="85.8" font-size="25.3" text-anchor="middle" fill="#000">S-N wind component (m/s)</text>
<text x="702.5" y="102.3" font-size="40" text-anchor="start" font-weight="bold" fill="#000">b</text>
<rect x="1319" y="438.2" width="18" height="18.6" fill="#00009b"/>
<rect x="1319" y="420.2" width="18" height="18.6" fill="#0000d6"/>
<rect x="1319" y="402.1" width="18" height="18.6" fill="#0000ff"/>
<rect x="1319" y="384" width="18" height="18.6" fill="#0030ff"/>
<rect x="1319" y="365.9" width="18" height="18.6" fill="#0064ff"/>
<rect x="1319" y="347.9" width="18" height="18.6" fill="#0098ff"/>
<rect x="1319" y="329.8" width="18" height="18.6" fill="#00ccff"/>
<rect x="1319" y="311.7" width="18" height="18.6" fill="#16ffe1"/>
<rect x="1319" y="293.6" width="18" height="18.6" fill="#3cffba"/>
<rect x="1319" y="275.6" width="18" height="18.6" fill="#66ff90"/>
<rect x="1319" y="257.5" width="18" height="18.6" fill="#90ff66"/>
<rect x="1319" y="239.4" width="18" height="18.6" fill="#baff3c"/>
<rect x="1319" y="221.3" width="18" height="18.6" fill="#e4ff13"/>
<rect x="1319" y="203.3" width="18" height="18.6" fill="#ffde00"/>
<rect x="1319" y="185.2" width="18" height="18.6" fill="#ffae00"/>
<rect x="1319" y="167.1" width="18" height="18.6" fill="#ff7e00"/>
<rect x="1319" y="149" width="18" height="18.6" fill="#ff4e00"/>
<rect x="1319" y="130.9" width="18" height="18.6" fill="#ff1e00"/>
<rect x="1319" y="112.9" width="18" height="18.6" fill="#d60000"/>
<rect x="1319" y="94.8" width="18" height="18.6" fill="#9b0000"/>
<rect x="1319" y="94.8" width="18" height="361.5" fill="none" stroke="#2a1a00" stroke-width="1.4"/>
<text x="1340.5" y="101.6" font-size="21.0" text-anchor="start" fill="#000">5.1</text>
<text x="1340.5" y="137.8" font-size="21.0" text-anchor="start" fill="#000">3.1</text>
<text x="1340.5" y="173.9" font-size="21.0" text-anchor="start" fill="#000">1.2</text>
<text x="1340.5" y="210.1" font-size="21.0" text-anchor="start" fill="#000">-0.8</text>
<text x="1340.5" y="246.2" font-size="21.0" text-anchor="start" fill="#000">-2.8</text>
<text x="1340.5" y="282.4" font-size="21.0" text-anchor="start" fill="#000">-4.7</text>
<text x="1340.5" y="318.5" font-size="21.0" text-anchor="start" fill="#000">-6.7</text>
<text x="1340.5" y="354.6" font-size="21.0" text-anchor="start" fill="#000">-8.7</text>
<text x="1340.5" y="390.8" font-size="21.0" text-anchor="start" fill="#000">-10.6</text>
<text x="1340.5" y="427" font-size="21.0" text-anchor="start" fill="#000">-12.6</text>
<text x="1340.5" y="463.1" font-size="21.0" text-anchor="start" fill="#000">-14.6</text>
<path d="M1337 94.8h-4M1337 130.9h-4M1337 167.1h-4M1337 203.2h-4M1337 239.4h-4M1337 275.6h-4M1337 311.7h-4M1337 347.8h-4M1337 384h-4M1337 420.2h-4M1337 456.3h-4" stroke="#1a1a1a" stroke-width="1.2" fill="none"/>
<clipPath id="clip_c"><rect x="1464.2" y="95" width="513.8" height="361"/></clipPath>
<g clip-path="url(#clip_c)"><g filter="url(#hb)">
<rect x="1456.2" y="87" width="529.8" height="377" fill="#00009b"/>
<path fill="#0000d6" stroke="#0000d6" stroke-width="0.6" fill-rule="evenodd" d="M1456.2 464L1464.2 464L1485.6 464L1528.4 464L1571.2 464L1614.1 464L1652.5 464L1652.5 456L1651.6 441L1651.5 410.9L1652.1 380.8L1656.3 350.7L1656.9 344.7L1665.4 350.7L1699.7 374.8L1700.2 380.8L1700.6 410.9L1700.1 441L1699.7 456L1699.7 464L1742.5 464L1785.3 464L1828.1 464L1871 464L1913.8 464L1956.6 464L1978 464L1986 464L1986 456L1986 441L1986 410.9L1986 380.8L1986 350.7L1986 320.6L1986 290.5L1986 260.5L1986 230.4L1986 200.3L1986 170.2L1986 140.1L1986 110L1986 95L1986 87L1978 87L1956.6 87L1913.8 87L1871 87L1828.1 87L1785.3 87L1742.5 87L1699.7 87L1664 87L1664 95L1656.9 100L1655.9 95L1655.9 87L1614.1 87L1571.2 87L1528.4 87L1485.6 87L1464.2 87L1456.2 87L1456.2 95L1456.2 110L1456.2 140.1L1456.2 170.2L1456.2 200.3L1456.2 230.4L1456.2 260.5L1456.2 290.5L1456.2 320.6L1456.2 350.7L1456.2 380.8L1456.2 410.9L1456.2 441L1456.2 456ZM1656.9 272.5L1655 260.5L1652.4 230.4L1652.4 200.3L1656.9 170.2L1656.9 170.2L1656.9 170.2L1699.7 176.2L1702.1 200.3L1702.1 230.4L1699.7 260.5L1699.7 260.5Z"/>
<path fill="#0000ff" stroke="#0000ff" stroke-width="0.6" fill-rule="evenodd" d="M1456.2 464L1464.2 464L1485.6 464L1528.4 464L1571.2 464L1614.1 464L1643.8 464L1643.8 456L1642.9 441L1642.6 410.9L1642.6 380.8L1645.8 350.7L1647.9 320.6L1648.5 290.5L1645.7 260.5L1643.5 230.4L1643.5 200.3L1647.1 170.2L1649.7 140.1L1648.9 110L1646.6 95L1646.6 87L1614.1 87L1571.2 87L1528.4 87L1485.6 87L1464.2 87L1456.2 87L1456.2 95L1456.2 110L1456.2 140.1L1456.2 170.2L1456.2 200.3L1456.2 230.4L1456.2 260.5L1456.2 290.5L1456.2 320.6L1456.2 350.7L1456.2 380.8L1456.2 410.9L1456.2 441L1456.2 456ZM1708.4 464L1742.5 464L1785.3 464L1828.1 464L1871 464L1913.8 464L1956.6 464L1978 464L1986 464L1986 456L1986 441L1986 410.9L1986 380.8L1986 350.7L1986 320.6L1986 290.5L1986 260.5L1986 230.4L1986 200.3L1986 170.2L1986 140.1L1986 110L1986 95L1986 87L1978 87L1956.6 87L1913.8 87L1871 87L1828.1 87L1785.3 87L1742.5 87L1704.4 87L1704.4 95L1704.4 110L1706.1 140.1L1708.8 170.2L1714.4 200.3L1714.4 230.4L1710.4 260.5L1706.1 290.5L1705.7 320.6L1706.8 350.7L1709.6 380.8L1709.9 410.9L1709 441L1708.4 456Z"/>
<path fill="#0030ff" stroke="#0030ff" stroke-width="0.6" fill-rule="evenodd" d="M1456.2 464L1464.2 464L1485.6 464L1528.4 464L1571.2 464L1614.1 464L1635 464L1635 456L1634.2 441L1633.7 410.9L1633.1 380.8L1635.2 350.7L1636.6 320.6L1636.7 290.5L1636.4 260.5L1634.6 230.4L1634.6 200.3L1637.4 170.2L1639.5 140.1L1639 110L1637.3 95L1637.3 87L1614.1 87L1571.2 87L1528.4 87L1485.6 87L1464.2 87L1456.2 87L1456.2 95L1456.2 110L1456.2 140.1L1456.2 170.2L1456.2 200.3L1456.2 230.4L1456.2 260.5L1456.2 290.5L1456.2 320.6L1456.2 350.7L1456.2 380.8L1456.2 410.9L1456.2 441L1456.2 456ZM1717.2 464L1742.5 464L1785.3 464L1828.1 464L1871 464L1913.8 464L1956.6 464L1978 464L1986 464L1986 456L1986 441L1986 410.9L1986 380.8L1986 350.7L1986 320.6L1986 290.5L1986 260.5L1986 230.4L1986 200.3L1986 170.2L1986 140.1L1986 110L1986 95L1986 87L1978 87L1956.6 87L1913.8 87L1871 87L1828.1 87L1785.3 87L1742.5 87L1714 87L1714 95L1714 110L1715.2 140.1L1718.5 170.2L1726.6 200.3L1726.6 230.4L1721.1 260.5L1715.2 290.5L1714.2 320.6L1715.7 350.7L1719 380.8L1719.2 410.9L1717.8 441L1717.2 456Z"/>
<path fill="#0064ff" stroke="#0064ff" stroke-width="0.6" fill-rule="evenodd" d="M1456.2 464L1464.2 464L1485.6 464L1528.4 464L1571.2 464L1614.1 464L1626.3 464L1626.3 456L1625.4 441L1624.8 410.9L1623.6 380.8L1624.6 350.7L1625.3 320.6L1624.8 290.5L1627.1 260.5L1625.7 230.4L1625.7 200.3L1627.7 170.2L1629.3 140.1L1629 110L1628 95L1628 87L1614.1 87L1571.2 87L1528.4 87L1485.6 87L1464.2 87L1456.2 87L1456.2 95L1456.2 110L1456.2 140.1L1456.2 170.2L1456.2 200.3L1456.2 230.4L1456.2 260.5L1456.2 290.5L1456.2 320.6L1456.2 350.7L1456.2 380.8L1456.2 410.9L1456.2 441L1456.2 456ZM1725.9 464L1742.5 464L1785.3 464L1828.1 464L1871 464L1913.8 464L1956.6 464L1978 464L1986 464L1986 456L1986 441L1986 410.9L1986 380.8L1986 350.7L1986 320.6L1986 290.5L1986 260.5L1986 230.4L1986 200.3L1986 170.2L1986 140.1L1986 110L1986 95L1986 87L1978 87L1956.6 87L1913.8 87L1871 87L1828.1 87L1785.3 87L1742.5 87L1723.5 87L1723.5 95L1723.5 110L1724.3 140.1L1728.1 170.2L1738.8 200.3L1738.8 230.4L1731.8 260.5L1724.3 290.5L1722.8 320.6L1724.7 350.7L1728.4 380.8L1728.5 410.9L1726.6 441L1725.9 456Z"/>
<path fill="#0098ff" stroke="#0098ff" stroke-width="0.6" fill-rule="evenodd" d="M1456.2 464L1464.2 464L1485.6 464L1528.4 464L1571.2 464L1614.1 464L1617.6 464L1617.6 456L1616.7 441L1615.8 410.9L1614.1 380.8L1614.1 380.8L1614.1 350.7L1614.1 320.6L1613.3 290.5L1614.1 284.5L1617.8 260.5L1616.7 230.4L1616.7 200.3L1618 170.2L1619.2 140.1L1619 110L1618.7 95L1618.7 87L1614.1 87L1571.2 87L1528.4 87L1485.6 87L1464.2 87L1456.2 87L1456.2 95L1456.2 110L1456.2 140.1L1456.2 170.2L1456.2 200.3L1456.2 230.4L1456.2 260.5L1456.2 290.5L1456.2 320.6L1456.2 350.7L1456.2 380.8L1456.2 410.9L1456.2 441L1456.2 456ZM1734.6 464L1742.5 464L1785.3 464L1828.1 464L1871 464L1913.8 464L1956.6 464L1978 464L1986 464L1986 456L1986 441L1986 410.9L1986 380.8L1986 350.7L1986 320.6L1986 290.5L1986 260.5L1986 230.4L1986 200.3L1986 170.2L1986 140.1L1986 110L1986 95L1986 87L1978 87L1956.6 87L1913.8 87L1871 87L1828.1 87L1785.3 87L1742.5 87L1733 87L1733 95L1733 110L1733.4 140.1L1737.7 170.2L1742.5 182.7L1746.3 200.3L1746.3 230.4L1742.5 260.5L1742.5 260.5L1733.4 290.5L1731.4 320.6L1733.6 350.7L1737.8 380.8L1737.9 410.9L1735.4 441L1734.6 456Z"/>
<path fill="#00ccff" stroke="#00ccff" stroke-width="0.6" fill-rule="evenodd" d="M1456.2 464L1464.2 464L1485.6 464L1528.4 464L1571.2 464L1609.1 464L1609.1 456L1608.3 441L1607.3 410.9L1606 380.8L1606 350.7L1606.3 320.6L1605.3 290.5L1609.1 260.5L1607.7 230.4L1607.7 200.3L1609.3 170.2L1610.3 140.1L1610.4 110L1610.4 95L1610.4 87L1571.2 87L1528.4 87L1485.6 87L1464.2 87L1456.2 87L1456.2 95L1456.2 110L1456.2 140.1L1456.2 170.2L1456.2 200.3L1456.2 230.4L1456.2 260.5L1456.2 290.5L1456.2 320.6L1456.2 350.7L1456.2 380.8L1456.2 410.9L1456.2 441L1456.2 456ZM1743.1 464L1785.3 464L1828.1 464L1871 464L1913.8 464L1956.6 464L1978 464L1986 464L1986 456L1986 441L1986 410.9L1986 380.8L1986 350.7L1986 320.6L1986 290.5L1986 260.5L1986 230.4L1986 200.3L1986 170.2L1986 140.1L1986 110L1986 95L1986 87L1978 87L1956.6 87L1913.8 87L1871 87L1828.1 87L1785.3 87L1742.5 87L1742.5 95L1742.5 110L1742.5 140.1L1745.4 170.2L1751.7 200.3L1751.7 230.4L1748.1 260.5L1742.5 290.5L1742.5 290.5L1739.9 320.6L1742.5 350.7L1742.5 350.7L1745.4 380.8L1745.4 410.9L1743.7 441L1743.1 456Z"/>
<path fill="#16ffe1" stroke="#16ffe1" stroke-width="0.6" fill-rule="evenodd" d="M1456.2 464L1464.2 464L1485.6 464L1528.4 464L1571.2 464L1600.9 464L1600.9 456L1600.1 441L1598.9 410.9L1597.9 380.8L1597.9 350.7L1598.5 320.6L1597.4 290.5L1600.9 260.5L1598.6 230.4L1598.6 200.3L1601.4 170.2L1602.8 140.1L1603 110L1603 95L1603 87L1571.2 87L1528.4 87L1485.6 87L1464.2 87L1456.2 87L1456.2 95L1456.2 110L1456.2 140.1L1456.2 170.2L1456.2 200.3L1456.2 230.4L1456.2 260.5L1456.2 290.5L1456.2 320.6L1456.2 350.7L1456.2 380.8L1456.2 410.9L1456.2 441L1456.2 456ZM1748.8 464L1785.3 464L1828.1 464L1871 464L1913.8 464L1956.6 464L1978 464L1986 464L1986 456L1986 441L1986 410.9L1986 380.8L1986 350.7L1986 320.6L1986 290.5L1986 260.5L1986 230.4L1986 200.3L1986 170.2L1986 140.1L1986 110L1986 95L1986 87L1978 87L1956.6 87L1913.8 87L1871 87L1828.1 87L1785.3 87L1748.6 87L1748.6 95L1748.5 110L1748.4 140.1L1751.3 170.2L1757.1 200.3L1757.1 230.4L1753.6 260.5L1748.2 290.5L1746.4 320.6L1748.2 350.7L1751.2 380.8L1751.2 410.9L1749.4 441L1748.8 456Z"/>
<path fill="#3cffba" stroke="#3cffba" stroke-width="0.6" fill-rule="evenodd" d="M1456.2 464L1464.2 464L1485.6 464L1528.4 464L1571.2 464L1592.7 464L1592.7 456L1591.8 441L1590.6 410.9L1589.8 380.8L1589.8 350.7L1590.7 320.6L1589.5 290.5L1592.7 260.5L1589.5 230.4L1589.5 200.3L1593.4 170.2L1595.3 140.1L1595.6 110L1595.6 95L1595.6 87L1571.2 87L1528.4 87L1485.6 87L1464.2 87L1456.2 87L1456.2 95L1456.2 110L1456.2 140.1L1456.2 170.2L1456.2 200.3L1456.2 230.4L1456.2 260.5L1456.2 290.5L1456.2 320.6L1456.2 350.7L1456.2 380.8L1456.2 410.9L1456.2 441L1456.2 456ZM1754.5 464L1785.3 464L1828.1 464L1871 464L1913.8 464L1956.6 464L1978 464L1986 464L1986 456L1986 441L1986 410.9L1986 380.8L1986 350.7L1986 320.6L1986 290.5L1986 260.5L1986 230.4L1986 200.3L1986 170.2L1986 140.1L1986 110L1986 95L1986 87L1978 87L1956.6 87L1913.8 87L1871 87L1828.1 87L1785.3 87L1754.7 87L1754.7 95L1754.4 110L1754.2 140.1L1757.2 170.2L1762.6 200.3L1762.6 230.4L1759.2 260.5L1753.9 290.5L1752 320.6L1753.9 350.7L1757 380.8L1757 410.9L1755.1 441L1754.5 456Z"/>
<path fill="#66ff90" stroke="#66ff90" stroke-width="0.6" fill-rule="evenodd" d="M1456.2 464L1464.2 464L1485.6 464L1528.4 464L1571.2 464L1584.4 464L1584.4 456L1583.6 441L1582.2 410.9L1581.7 380.8L1581.7 350.7L1582.9 320.6L1581.5 290.5L1584.4 260.5L1580.4 230.4L1580.4 200.3L1585.5 170.2L1587.8 140.1L1588.2 110L1588.2 95L1588.2 87L1571.2 87L1528.4 87L1485.6 87L1464.2 87L1456.2 87L1456.2 95L1456.2 110L1456.2 140.1L1456.2 170.2L1456.2 200.3L1456.2 230.4L1456.2 260.5L1456.2 290.5L1456.2 320.6L1456.2 350.7L1456.2 380.8L1456.2 410.9L1456.2 441L1456.2 456ZM1760.2 464L1785.3 464L1828.1 464L1871 464L1913.8 464L1956.6 464L1978 464L1986 464L1986 456L1986 441L1986 410.9L1986 380.8L1986 350.7L1986 320.6L1986 290.5L1986 260.5L1986 230.4L1986 200.3L1986 170.2L1986 140.1L1986 110L1986 95L1986 87L1978 87L1956.6 87L1913.8 87L1871 87L1828.1 87L1785.3 87L1760.9 87L1760.9 95L1760.3 110L1760.1 140.1L1763 170.2L1768 200.3L1768 230.4L1764.8 260.5L1759.6 290.5L1757.5 320.6L1759.6 350.7L1762.8 380.8L1762.8 410.9L1760.8 441L1760.2 456Z"/>
<path fill="#90ff66" stroke="#90ff66" stroke-width="0.6" fill-rule="evenodd" d="M1456.2 464L1464.2 464L1485.6 464L1528.4 464L1571.2 464L1576.2 464L1576.2 456L1575.4 441L1573.8 410.9L1573.7 380.8L1573.7 350.7L1575.1 320.6L1573.6 290.5L1576.2 260.5L1571.2 230.4L1571.2 230.4L1571.2 200.3L1571.2 200.3L1577.6 170.2L1580.3 140.1L1580.8 110L1580.8 95L1580.8 87L1571.2 87L1528.4 87L1485.6 87L1464.2 87L1456.2 87L1456.2 95L1456.2 110L1456.2 140.1L1456.2 170.2L1456.2 200.3L1456.2 230.4L1456.2 260.5L1456.2 290.5L1456.2 320.6L1456.2 350.7L1456.2 380.8L1456.2 410.9L1456.2 441L1456.2 456ZM1765.9 464L1785.3 464L1828.1 464L1871 464L1913.8 464L1956.6 464L1978 464L1986 464L1986 456L1986 441L1986 410.9L1986 380.8L1986 350.7L1986 320.6L1986 290.5L1986 260.5L1986 230.4L1986 200.3L1986 170.2L1986 140.1L1986 110L1986 95L1986 87L1978 87L1956.6 87L1913.8 87L1871 87L1828.1 87L1785.3 87L1767 87L1767 95L1766.3 110L1766 140.1L1768.9 170.2L1773.4 200.3L1773.4 230.4L1770.3 260.5L1765.3 290.5L1763.1 320.6L1765.3 350.7L1768.5 380.8L1768.5 410.9L1766.5 441L1765.9 456ZM1956.6 412L1955.9 410.9L1955.9 380.8L1956.6 380.1L1957.4 380.8L1957.4 410.9ZM1956.6 207.8L1954.3 200.3L1956.6 197.6L1958.5 200.3Z"/>
<path fill="#baff3c" stroke="#baff3c" stroke-width="0.6" fill-rule="evenodd" d="M1456.2 464L1464.2 464L1485.6 464L1528.4 464L1565.1 464L1565.1 456L1563.6 441L1560.1 410.9L1560.3 380.8L1561.3 350.7L1564.6 320.6L1562.2 290.5L1564.1 260.5L1554.1 230.4L1554.8 200.3L1567.7 170.2L1571.2 155.2L1572.7 140.1L1573.5 110L1573.5 95L1573.5 87L1571.2 87L1528.4 87L1485.6 87L1464.2 87L1456.2 87L1456.2 95L1456.2 110L1456.2 140.1L1456.2 170.2L1456.2 200.3L1456.2 230.4L1456.2 260.5L1456.2 290.5L1456.2 320.6L1456.2 350.7L1456.2 380.8L1456.2 410.9L1456.2 441L1456.2 456ZM1771.6 464L1785.3 464L1828.1 464L1871 464L1913.8 464L1956.6 464L1978 464L1986 464L1986 456L1986 441L1986 410.9L1986 380.8L1986 350.7L1986 320.6L1986 290.5L1986 260.5L1986 230.4L1986 200.3L1978 200.3L1973.2 230.4L1956.6 260.5L1956.6 260.5L1956.6 260.5L1936.6 230.4L1931.8 200.3L1956.6 170.2L1956.6 170.2L1956.6 170.2L1978 200.3L1986 200.3L1986 170.2L1986 140.1L1986 110L1986 95L1986 87L1978 87L1956.6 87L1913.8 87L1871 87L1828.1 87L1785.3 87L1773.1 87L1773.1 95L1772.2 110L1771.8 140.1L1774.8 170.2L1778.8 200.3L1778.8 230.4L1775.9 260.5L1771.1 290.5L1768.6 320.6L1771.1 350.7L1774.3 380.8L1774.3 410.9L1772.2 441L1771.6 456ZM1956.6 434.3L1941.4 410.9L1941.9 380.8L1956.6 366.8L1973.2 380.8L1973.2 410.9Z"/>
<path fill="#e4ff13" stroke="#e4ff13" stroke-width="0.6" fill-rule="evenodd" d="M1464.2 464L1485.6 464L1528.4 464L1549.8 464L1549.8 456L1548.3 441L1544.3 410.9L1544.8 380.8L1547 350.7L1551.2 320.6L1549.2 290.5L1546.3 260.5L1537 230.4L1538.3 200.3L1549.8 170.2L1559.2 140.1L1558.2 110L1557.6 95L1557.6 87L1528.4 87L1485.6 87L1464.2 87L1456.2 87L1456.2 95L1456.2 110L1456.2 140.1L1456.2 170.2L1456.2 174L1464.2 174L1485.6 191.7L1496.3 200.3L1497.8 230.4L1485.6 240.4L1464.2 256.7L1456.2 256.7L1456.2 260.5L1456.2 290.5L1456.2 320.6L1456.2 350.7L1456.2 362.7L1464.2 362.7L1477 380.8L1485.6 410.9L1485.6 410.9L1485.6 410.9L1472.8 441L1464.2 456ZM1777.3 464L1785.3 464L1828.1 464L1871 464L1913.8 464L1944.7 464L1944.7 456L1940.8 441L1926.8 410.9L1927.8 380.8L1956.6 353.4L1978 357.4L1986 357.4L1986 350.7L1986 320.6L1986 290.5L1986 275.5L1978 275.5L1967.3 290.5L1956.6 300.6L1951.8 290.5L1932.8 260.5L1913.8 236.4L1911.6 230.4L1911.5 200.3L1913.8 194.3L1932.8 170.2L1953.9 140.1L1951.6 110L1949 95L1949 87L1913.8 87L1871 87L1828.1 87L1785.3 87L1779.2 87L1779.2 95L1778.2 110L1777.7 140.1L1780.6 170.2L1784.2 200.3L1784.2 230.4L1781.4 260.5L1776.8 290.5L1774.2 320.6L1776.8 350.7L1780.1 380.8L1780.1 410.9L1777.9 441L1777.3 456ZM1961.9 140.1L1978 158.2L1986 158.2L1986 140.1L1986 110L1986 95L1978 95L1970.9 110Z"/>
<path fill="#ffde00" stroke="#ffde00" stroke-width="0.6" fill-rule="evenodd" d="M1509.4 464L1528.4 464L1534.5 464L1534.5 456L1533 441L1528.4 410.9L1515.6 441L1509.4 456ZM1783 464L1785.3 464L1828.1 464L1871 464L1913.8 464L1920.9 464L1920.9 456L1918.3 441L1913.8 420.9L1912.8 410.9L1913.8 380.8L1913.8 380.8L1932.1 350.7L1943.1 320.6L1928 290.5L1913.8 268L1911.9 260.5L1900.9 230.4L1899.9 200.3L1911.8 170.2L1913.8 161.6L1927.2 140.1L1926.4 110L1923.8 95L1923.8 87L1913.8 87L1871 87L1828.1 87L1785.3 87L1785.3 95L1785.3 95L1784.1 110L1783.6 140.1L1785.3 158.2L1786.9 170.2L1792.6 200.3L1792.5 230.4L1787.7 260.5L1785.3 271.7L1782.5 290.5L1779.8 320.6L1782.5 350.7L1785.3 375.8L1786.1 380.8L1786.1 410.9L1785.3 418.4L1783.6 441L1783 456ZM1525.9 380.8L1528.4 410.9L1529.2 380.8L1532.7 350.7L1537.8 320.6L1536.2 290.5L1528.4 260.5L1499.9 290.5L1485.6 316.3L1484 320.6L1485.6 324L1510.1 350.7ZM1516.2 170.2L1528.4 180.2L1532 170.2L1544.2 140.1L1539.6 110L1538.2 95L1538.2 87L1528.4 87L1501.7 87L1501.7 95L1502.7 110L1489.3 140.1Z"/>
<path fill="#ffae00" stroke="#ffae00" stroke-width="0.6" fill-rule="evenodd" d="M1790.3 464L1828.1 464L1871 464L1907.1 464L1907.1 456L1906 441L1903.1 410.9L1903.8 380.8L1909.9 350.7L1913.8 333.5L1920.5 320.6L1913.8 307.7L1909.9 290.5L1902.4 260.5L1890.2 230.4L1888.3 200.3L1902.1 170.2L1909 140.1L1909.1 110L1908.3 95L1908.3 87L1871 87L1828.1 87L1792.5 87L1792.5 95L1791 110L1790.4 140.1L1794.5 170.2L1801.7 200.3L1801.4 230.4L1795.6 260.5L1788.9 290.5L1785.3 320.6L1789 350.7L1794 380.8L1794 410.9L1791.1 441L1790.3 456ZM1526.6 140.1L1528.4 141.9L1529.2 140.1L1528.4 136.8Z"/>
<path fill="#ff7e00" stroke="#ff7e00" stroke-width="0.6" fill-rule="evenodd" d="M1798.5 464L1828.1 464L1871 464L1897.6 464L1897.6 456L1896.3 441L1893.3 410.9L1893.9 380.8L1900.2 350.7L1907.1 320.6L1900.2 290.5L1892.8 260.5L1879.5 230.4L1876.7 200.3L1892.4 170.2L1899.5 140.1L1899.8 110L1899.2 95L1899.2 87L1871 87L1828.1 87L1799.6 87L1799.6 95L1798.2 110L1797.7 140.1L1802.1 170.2L1810.8 200.3L1810.3 230.4L1803.6 260.5L1796 290.5L1792.7 320.6L1796.2 350.7L1802 380.8L1802 410.9L1799.3 441L1798.5 456Z"/>
<path fill="#ff4e00" stroke="#ff4e00" stroke-width="0.6" fill-rule="evenodd" d="M1806.7 464L1828.1 464L1871 464L1888.1 464L1888.1 456L1886.5 441L1883.6 410.9L1883.9 380.8L1890.4 350.7L1897.6 320.6L1890.4 290.5L1883.3 260.5L1871 234.4L1863.8 230.4L1855.7 200.3L1871 191.4L1882.6 170.2L1890 140.1L1890.5 110L1890.1 95L1890.1 87L1871 87L1828.1 87L1806.7 87L1806.7 95L1805.3 110L1804.9 140.1L1809.8 170.2L1819.9 200.3L1819.2 230.4L1811.5 260.5L1803.2 290.5L1800.1 320.6L1803.5 350.7L1809.9 380.8L1809.9 410.9L1807.6 441L1806.7 456Z"/>
<path fill="#ff1e00" stroke="#ff1e00" stroke-width="0.6" fill-rule="evenodd" d="M1815 464L1828.1 464L1871 464L1878.6 464L1878.6 456L1876.8 441L1873.9 410.9L1873.9 380.8L1880.7 350.7L1888.1 320.6L1880.7 290.5L1873.8 260.5L1871 254.4L1828.1 230.4L1819.4 260.5L1810.3 290.5L1807.5 320.6L1810.7 350.7L1817.8 380.8L1817.8 410.9L1815.8 441L1815 456ZM1817.4 170.2L1828.1 198.3L1871 173.7L1872.9 170.2L1880.5 140.1L1881.2 110L1881 95L1881 87L1871 87L1828.1 87L1813.9 87L1813.9 95L1812.4 110L1812.2 140.1Z"/>
<path fill="#d60000" stroke="#d60000" stroke-width="0.6" fill-rule="evenodd" d="M1823.2 464L1828.1 464L1860.3 464L1860.3 456L1851.9 441L1841 410.9L1841 380.8L1871 350.7L1871 350.7L1878.6 320.6L1871 290.5L1871 290.5L1833.5 260.5L1828.1 257.7L1827.3 260.5L1817.4 290.5L1814.9 320.6L1818 350.7L1825.8 380.8L1825.8 410.9L1824 441L1823.2 456ZM1825.1 170.2L1828.1 178.2L1842.4 170.2L1871 140.1L1871 140.1L1871.9 110L1871.9 95L1871.9 87L1871 87L1828.1 87L1821 87L1821 95L1819.6 110L1819.4 140.1Z"/>
<path fill="#9b0000" stroke="#9b0000" stroke-width="0.6" fill-rule="evenodd" d="M1825.2 350.7L1828.1 361.6L1840.4 350.7L1862.4 320.6L1842.4 290.5L1828.1 279.8L1824.6 290.5L1822.2 320.6ZM1826.7 140.1L1828.1 147.6L1835.3 140.1L1835.9 110L1828.1 95L1826.7 110Z"/>
</g></g>
<rect x="1464.2" y="95" width="513.8" height="361" fill="none" stroke="#2a1a00" stroke-width="1.6"/>
<path d="M1464.2 456v-5M1464.2 95v5M1535.6 456v-5M1535.6 95v5M1606.9 456v-5M1606.9 95v5M1678.3 456v-5M1678.3 95v5M1749.6 456v-5M1749.6 95v5M1821 456v-5M1821 95v5M1892.4 456v-5M1892.4 95v5M1963.7 456v-5M1963.7 95v5M1464.2 456h5M1978 456h-5M1464.2 425.9h5M1978 425.9h-5M1464.2 395.8h5M1978 395.8h-5M1464.2 365.8h5M1978 365.8h-5M1464.2 335.7h5M1978 335.7h-5M1464.2 305.6h5M1978 305.6h-5M1464.2 275.5h5M1978 275.5h-5M1464.2 245.4h5M1978 245.4h-5M1464.2 215.3h5M1978 215.3h-5M1464.2 185.2h5M1978 185.2h-5M1464.2 155.2h5M1978 155.2h-5M1464.2 125.1h5M1978 125.1h-5M1464.2 95h5M1978 95h-5" stroke="#1a1a1a" stroke-width="1.3" fill="none"/>
<text x="1464.2" y="478.5" font-size="25.5" text-anchor="middle" fill="#000">0</text>
<text x="1535.6" y="478.5" font-size="25.5" text-anchor="middle" fill="#000">50</text>
<text x="1606.9" y="478.5" font-size="25.5" text-anchor="middle" fill="#000">100</text>
<text x="1678.3" y="478.5" font-size="25.5" text-anchor="middle" fill="#000">150</text>
<text x="1749.6" y="478.5" font-size="25.5" text-anchor="middle" fill="#000">200</text>
<text x="1821" y="478.5" font-size="25.5" text-anchor="middle" fill="#000">250</text>
<text x="1892.4" y="478.5" font-size="25.5" text-anchor="middle" fill="#000">300</text>
<text x="1963.7" y="478.5" font-size="25.5" text-anchor="middle" fill="#000">350</text>
<text x="1461.4" y="461" font-size="25.5" text-anchor="end" fill="#000">0</text>
<text x="1461.4" y="430.9" font-size="25.5" text-anchor="end" fill="#000">2</text>
<text x="1461.4" y="400.8" font-size="25.5" text-anchor="end" fill="#000">4</text>
<text x="1461.4" y="370.8" font-size="25.5" text-anchor="end" fill="#000">6</text>
<text x="1461.4" y="340.7" font-size="25.5" text-anchor="end" fill="#000">8</text>
<text x="1461.4" y="310.6" font-size="25.5" text-anchor="end" fill="#000">10</text>
<text x="1461.4" y="280.5" font-size="25.5" text-anchor="end" fill="#000">12</text>
<text x="1461.4" y="250.4" font-size="25.5" text-anchor="end" fill="#000">14</text>
<text x="1461.4" y="220.3" font-size="25.5" text-anchor="end" fill="#000">16</text>
<text x="1461.4" y="190.2" font-size="25.5" text-anchor="end" fill="#000">18</text>
<text x="1461.4" y="160.2" font-size="25.5" text-anchor="end" fill="#000">20</text>
<text x="1461.4" y="130.1" font-size="25.5" text-anchor="end" fill="#000">22</text>
<text x="1461.4" y="100" font-size="25.5" text-anchor="end" fill="#000">24</text>
<text x="1740.6" y="506.2" font-size="25.1" text-anchor="middle" fill="#000">Areocentric longitude (degrees)</text>
<text x="1426.5" y="275.5" font-size="25.3" text-anchor="middle" transform="rotate(-90 1426.5 275.5)" fill="#000">Local time (Martian hour)</text>
<text x="1691" y="86" font-size="25.3" text-anchor="middle" fill="#000">Surface pressure (pa)</text>
<text x="1394.8" y="102.5" font-size="40" text-anchor="start" font-weight="bold" fill="#000">c</text>
<rect x="2010.5" y="437.9" width="17.1" height="18.6" fill="#00009b"/>
<rect x="2010.5" y="419.9" width="17.1" height="18.6" fill="#0000d6"/>
<rect x="2010.5" y="401.9" width="17.1" height="18.6" fill="#0000ff"/>
<rect x="2010.5" y="383.8" width="17.1" height="18.6" fill="#0030ff"/>
<rect x="2010.5" y="365.8" width="17.1" height="18.6" fill="#0064ff"/>
<rect x="2010.5" y="347.7" width="17.1" height="18.6" fill="#0098ff"/>
<rect x="2010.5" y="329.6" width="17.1" height="18.6" fill="#00ccff"/>
<rect x="2010.5" y="311.6" width="17.1" height="18.6" fill="#16ffe1"/>
<rect x="2010.5" y="293.5" width="17.1" height="18.6" fill="#3cffba"/>
<rect x="2010.5" y="275.5" width="17.1" height="18.6" fill="#66ff90"/>
<rect x="2010.5" y="257.4" width="17.1" height="18.6" fill="#90ff66"/>
<rect x="2010.5" y="239.4" width="17.1" height="18.6" fill="#baff3c"/>
<rect x="2010.5" y="221.3" width="17.1" height="18.6" fill="#e4ff13"/>
<rect x="2010.5" y="203.3" width="17.1" height="18.6" fill="#ffde00"/>
<rect x="2010.5" y="185.2" width="17.1" height="18.6" fill="#ffae00"/>
<rect x="2010.5" y="167.2" width="17.1" height="18.6" fill="#ff7e00"/>
<rect x="2010.5" y="149.2" width="17.1" height="18.6" fill="#ff4e00"/>
<rect x="2010.5" y="131.1" width="17.1" height="18.6" fill="#ff1e00"/>
<rect x="2010.5" y="113.1" width="17.1" height="18.6" fill="#d60000"/>
<rect x="2010.5" y="95" width="17.1" height="18.6" fill="#9b0000"/>
<rect x="2010.5" y="95" width="17.1" height="361" fill="none" stroke="#2a1a00" stroke-width="1.4"/>
<text x="2030.5" y="101.8" font-size="21.0" text-anchor="start" fill="#000">9.4e+02</text>
<text x="2030.5" y="137.9" font-size="21.0" text-anchor="start" fill="#000">9.2e+02</text>
<text x="2030.5" y="174" font-size="21.0" text-anchor="start" fill="#000">8.9e+02</text>
<text x="2030.5" y="210.1" font-size="21.0" text-anchor="start" fill="#000">8.7e+02</text>
<text x="2030.5" y="246.2" font-size="21.0" text-anchor="start" fill="#000">8.5e+02</text>
<text x="2030.5" y="282.3" font-size="21.0" text-anchor="start" fill="#000">8.2e+02</text>
<text x="2030.5" y="318.4" font-size="21.0" text-anchor="start" fill="#000">8.0e+02</text>
<text x="2030.5" y="354.5" font-size="21.0" text-anchor="start" fill="#000">7.7e+02</text>
<text x="2030.5" y="390.6" font-size="21.0" text-anchor="start" fill="#000">7.5e+02</text>
<text x="2030.5" y="426.7" font-size="21.0" text-anchor="start" fill="#000">7.2e+02</text>
<text x="2030.5" y="462.8" font-size="21.0" text-anchor="start" fill="#000">7.0e+02</text>
<path d="M2027.6 95h-4M2027.6 131.1h-4M2027.6 167.2h-4M2027.6 203.3h-4M2027.6 239.4h-4M2027.6 275.5h-4M2027.6 311.6h-4M2027.6 347.7h-4M2027.6 383.8h-4M2027.6 419.9h-4M2027.6 456h-4" stroke="#1a1a1a" stroke-width="1.2" fill="none"/>
<clipPath id="cd"><rect x="132.1" y="580" width="924.6" height="383.6"/></clipPath>
<path d="M172 774.9L206.6 597.7L279 599.6L349.1 601.5L419.1 603.5L489.2 600.6L559.3 599.6L629.3 599.6L664.4 599.6L699.4 855.3L769.5 855.3L839.5 863.1L907.2 865L942.3 855.7L963.3 839.8L982 820L1016.5 774.9L1016.5 942.5L968 934.8L907.2 922.2L839.5 912.5L769.5 904.7L699.4 923.2L636.3 946.4L559.3 944.5L489.2 943.5L419.1 948.3L384.1 942.5L349.1 941.6L314 939.6L290.7 937.7L272 941.6L244 943L172 942.5Z" fill="#ff0000" fill-opacity="0.08" clip-path="url(#cd)"/>
<path d="M292.5 581V962.6" stroke="#0000ff" stroke-opacity="0.5" stroke-width="4.6" fill="none"/>
<path d="M374.8 581V962.6" stroke="#008000" stroke-opacity="0.5" stroke-width="4.6" fill="none"/>
<path d="M521.4 581V962.6" stroke="#ffa500" stroke-opacity="0.5" stroke-width="4.6" fill="none"/>
<g fill="#ea0a0a"><circle cx="322" cy="601.7" r="3.65"/><circle cx="343" cy="601.9" r="3.65"/><circle cx="377" cy="601.9" r="3.65"/><circle cx="373.4" cy="609.5" r="3.65"/><circle cx="383.2" cy="608.9" r="3.65"/><circle cx="353.6" cy="614.8" r="3.65"/><circle cx="391.7" cy="619.3" r="3.65"/><circle cx="386.4" cy="625.6" r="3.65"/><circle cx="338.7" cy="626.4" r="3.65"/><circle cx="314.7" cy="631.9" r="3.65"/><circle cx="341.1" cy="634.5" r="3.65"/><circle cx="454.5" cy="637.8" r="3.65"/><circle cx="377.8" cy="648.8" r="3.65"/><circle cx="393.7" cy="648" r="3.65"/><circle cx="364.2" cy="653.5" r="3.65"/><circle cx="369.5" cy="658" r="3.65"/><circle cx="351.5" cy="658.8" r="3.65"/><circle cx="303.4" cy="665.1" r="3.65"/><circle cx="392.5" cy="669.8" r="3.65"/><circle cx="460" cy="669.8" r="3.65"/><circle cx="310.6" cy="677.1" r="3.65"/><circle cx="397" cy="685.9" r="3.65"/><circle cx="347.3" cy="692.8" r="3.65"/><circle cx="309.8" cy="697.9" r="3.65"/><circle cx="312.8" cy="702.4" r="3.65"/><circle cx="381.9" cy="701.4" r="3.65"/><circle cx="306.5" cy="713.8" r="3.65"/><circle cx="328.5" cy="717.7" r="3.65"/><circle cx="315.9" cy="721.4" r="3.65"/><circle cx="388.4" cy="725.5" r="3.65"/><circle cx="305.3" cy="726.3" r="3.65"/><circle cx="374.6" cy="726.5" r="3.65"/><circle cx="300" cy="733.6" r="3.65"/><circle cx="311.8" cy="734.2" r="3.65"/><circle cx="314" cy="736.9" r="3.65"/><circle cx="378.5" cy="737.5" r="3.65"/><circle cx="384.4" cy="739.3" r="3.65"/><circle cx="293" cy="740.4" r="3.65"/><circle cx="361.9" cy="749.9" r="3.65"/><circle cx="389.1" cy="753.2" r="3.65"/><circle cx="307.7" cy="756" r="3.65"/><circle cx="395" cy="757.7" r="3.65"/><circle cx="359.7" cy="758.5" r="3.65"/><circle cx="355.4" cy="760.5" r="3.65"/><circle cx="324.4" cy="763.8" r="3.65"/><circle cx="379.9" cy="768.9" r="3.65"/><circle cx="461.4" cy="770.7" r="3.65"/><circle cx="395.8" cy="775.8" r="3.65"/><circle cx="344.2" cy="778.5" r="3.65"/><circle cx="337.9" cy="786.2" r="3.65"/><circle cx="327.5" cy="791.5" r="3.65"/><circle cx="331.8" cy="791.5" r="3.65"/><circle cx="453.3" cy="800.3" r="3.65"/><circle cx="304.3" cy="803.3" r="3.65"/><circle cx="329.5" cy="802.1" r="3.65"/><circle cx="294.5" cy="808.7" r="3.65"/><circle cx="349.3" cy="810.9" r="3.65"/><circle cx="340.1" cy="835.8" r="3.65"/><circle cx="350.5" cy="837.8" r="3.65"/><circle cx="323" cy="840.5" r="3.65"/><circle cx="456.7" cy="840.9" r="3.65"/><circle cx="360.7" cy="844.7" r="3.65"/><circle cx="363.4" cy="843.7" r="3.65"/><circle cx="336.9" cy="845.5" r="3.65"/><circle cx="371.3" cy="847.2" r="3.65"/><circle cx="320" cy="848.8" r="3.65"/><circle cx="335.8" cy="854.1" r="3.65"/><circle cx="301.4" cy="857.6" r="3.65"/><circle cx="333.6" cy="860.2" r="3.65"/><circle cx="354.4" cy="860" r="3.65"/><circle cx="370.1" cy="861.3" r="3.65"/><circle cx="308.7" cy="863.1" r="3.65"/><circle cx="380.7" cy="870.8" r="3.65"/><circle cx="390.7" cy="871.9" r="3.65"/><circle cx="326.3" cy="873.9" r="3.65"/><circle cx="346.5" cy="891" r="3.65"/><circle cx="365.2" cy="895.9" r="3.65"/><circle cx="385.2" cy="899.4" r="3.65"/><circle cx="345" cy="903.7" r="3.65"/><circle cx="458" cy="903.9" r="3.65"/><circle cx="372.3" cy="908.1" r="3.65"/><circle cx="455.7" cy="912.6" r="3.65"/><circle cx="387.4" cy="915.5" r="3.65"/><circle cx="325.5" cy="916.7" r="3.65"/><circle cx="341.8" cy="917.5" r="3.65"/><circle cx="348.3" cy="921.8" r="3.65"/><circle cx="330.8" cy="924" r="3.65"/><circle cx="332.8" cy="926.5" r="3.65"/><circle cx="289.4" cy="928.9" r="3.65"/><circle cx="450.6" cy="936.3" r="3.65"/><circle cx="452.1" cy="938.9" r="3.65"/><circle cx="335" cy="938.3" r="3.65"/><circle cx="352" cy="939.3" r="3.65"/><circle cx="354.8" cy="941.2" r="3.65"/><circle cx="357.7" cy="943.2" r="3.65"/><circle cx="483.2" cy="632.1" r="3.65"/><circle cx="520.5" cy="622.9" r="3.65"/><circle cx="571.9" cy="616.4" r="3.65"/><circle cx="586.6" cy="614.2" r="3.65"/><circle cx="579.9" cy="621.1" r="3.65"/><circle cx="601.3" cy="634.3" r="3.65"/><circle cx="609.6" cy="632.3" r="3.65"/><circle cx="637.8" cy="651.9" r="3.65"/><circle cx="546.4" cy="655.1" r="3.65"/><circle cx="538.7" cy="665.7" r="3.65"/><circle cx="575.8" cy="666.6" r="3.65"/><circle cx="640.6" cy="672.1" r="3.65"/><circle cx="543.8" cy="677.6" r="3.65"/><circle cx="596" cy="680.8" r="3.65"/><circle cx="560.3" cy="685.3" r="3.65"/><circle cx="570.9" cy="684.9" r="3.65"/><circle cx="492.6" cy="686.5" r="3.65"/><circle cx="569.3" cy="697.5" r="3.65"/><circle cx="512.6" cy="701.2" r="3.65"/><circle cx="551.1" cy="702" r="3.65"/><circle cx="585.2" cy="703.9" r="3.65"/><circle cx="531.2" cy="710" r="3.65"/><circle cx="539.7" cy="710.8" r="3.65"/><circle cx="562.8" cy="710.6" r="3.65"/><circle cx="515.2" cy="712.2" r="3.65"/><circle cx="636.3" cy="720" r="3.65"/><circle cx="559.1" cy="724.5" r="3.65"/><circle cx="567.9" cy="725.5" r="3.65"/><circle cx="593.3" cy="725.9" r="3.65"/><circle cx="516.3" cy="730" r="3.65"/><circle cx="521.4" cy="732.6" r="3.65"/><circle cx="610.7" cy="739.3" r="3.65"/><circle cx="613.7" cy="744.8" r="3.65"/><circle cx="555.2" cy="749.9" r="3.65"/><circle cx="485.5" cy="752.2" r="3.65"/><circle cx="564" cy="761.4" r="3.65"/><circle cx="622.1" cy="771.1" r="3.65"/><circle cx="500.6" cy="774.2" r="3.65"/><circle cx="508.1" cy="781.5" r="3.65"/><circle cx="583.8" cy="787.9" r="3.65"/><circle cx="602.9" cy="789.3" r="3.65"/><circle cx="630.6" cy="792.7" r="3.65"/><circle cx="522.4" cy="806" r="3.65"/><circle cx="476.3" cy="814" r="3.65"/><circle cx="505.5" cy="814.8" r="3.65"/><circle cx="553.6" cy="816" r="3.65"/><circle cx="547.3" cy="822.1" r="3.65"/><circle cx="604.3" cy="822.5" r="3.65"/><circle cx="632.1" cy="829" r="3.65"/><circle cx="490.8" cy="840" r="3.65"/><circle cx="514" cy="850.4" r="3.65"/><circle cx="612.5" cy="851.1" r="3.65"/><circle cx="478.4" cy="856.8" r="3.65"/><circle cx="623.7" cy="861.9" r="3.65"/><circle cx="578.5" cy="871.2" r="3.65"/><circle cx="544.8" cy="875.9" r="3.65"/><circle cx="589.1" cy="876.7" r="3.65"/><circle cx="620.9" cy="879.8" r="3.65"/><circle cx="619.4" cy="883.3" r="3.65"/><circle cx="577.2" cy="885.1" r="3.65"/><circle cx="528.1" cy="891.4" r="3.65"/><circle cx="594.4" cy="892" r="3.65"/><circle cx="639.2" cy="893.5" r="3.65"/><circle cx="471.8" cy="895.7" r="3.65"/><circle cx="605.4" cy="906.5" r="3.65"/><circle cx="629.4" cy="910.4" r="3.65"/><circle cx="597.2" cy="912.2" r="3.65"/><circle cx="536" cy="913.2" r="3.65"/><circle cx="499.6" cy="919.4" r="3.65"/><circle cx="627.8" cy="931.4" r="3.65"/></g>
<rect x="132.1" y="580" width="924.6" height="383.6" fill="none" stroke="#000" stroke-width="2.45"/>
<text x="173.9" y="1002.6" font-size="22.9" text-anchor="middle" fill="#000">0</text>
<text x="279" y="1002.6" font-size="22.9" text-anchor="middle" fill="#000">45</text>
<text x="384.1" y="1002.6" font-size="22.9" text-anchor="middle" fill="#000">90</text>
<text x="489.2" y="1002.6" font-size="22.9" text-anchor="middle" fill="#000">135</text>
<text x="594.3" y="1002.6" font-size="22.9" text-anchor="middle" fill="#000">180</text>
<text x="699.4" y="1002.6" font-size="22.9" text-anchor="middle" fill="#000">225</text>
<text x="804.5" y="1002.6" font-size="22.9" text-anchor="middle" fill="#000">270</text>
<text x="909.6" y="1002.6" font-size="22.9" text-anchor="middle" fill="#000">315</text>
<text x="1014.7" y="1002.6" font-size="22.9" text-anchor="middle" fill="#000">360</text>
<text x="111.5" y="954.9" font-size="22.9" text-anchor="end" fill="#000">0</text>
<text x="111.5" y="896.8" font-size="22.9" text-anchor="end" fill="#000">60</text>
<text x="111.5" y="838.7" font-size="22.9" text-anchor="end" fill="#000">120</text>
<text x="111.5" y="780.5" font-size="22.9" text-anchor="end" fill="#000">180</text>
<text x="111.5" y="722.4" font-size="22.9" text-anchor="end" fill="#000">240</text>
<text x="111.5" y="664.3" font-size="22.9" text-anchor="end" fill="#000">300</text>
<text x="111.5" y="606.2" font-size="22.9" text-anchor="end" fill="#000">360</text>
<path d="M173.9 964.6v9.6M279 964.6v9.6M384.1 964.6v9.6M489.2 964.6v9.6M594.3 964.6v9.6M699.4 964.6v9.6M804.5 964.6v9.6M909.6 964.6v9.6M1014.7 964.6v9.6M131.1 946.4h-9.6M131.1 888.3h-9.6M131.1 830.2h-9.6M131.1 772h-9.6M131.1 713.9h-9.6M131.1 655.8h-9.6M131.1 597.7h-9.6" stroke="#000" stroke-width="2.45" fill="none"/>
<text x="594.4" y="1034.9" font-size="22.3" text-anchor="middle" fill="#000">Solar Longitude (°)</text>
<text x="53.5" y="771.8" font-size="22.3" text-anchor="middle" transform="rotate(-90 53.5 771.8)" fill="#000">Wind Direction (°)</text>
<text x="0" y="574.6" font-size="40" text-anchor="start" font-weight="bold" fill="#000">d</text>
<rect x="808.3" y="591" width="237" height="163.6" rx="5" ry="5" fill="#fff" fill-opacity="0.8" stroke="#ccc" stroke-opacity="0.8" stroke-width="1.7"/>
<circle cx="839.6" cy="609.2" r="3.65" fill="#ea0a0a"/>
<path d="M815.5 640.6H863.7" stroke="#0000ff" stroke-opacity="0.5" stroke-width="4.6"/>
<path d="M815.5 671.9H863.7" stroke="#008000" stroke-opacity="0.5" stroke-width="4.6"/>
<path d="M815.5 703.2H863.7" stroke="#ffa500" stroke-opacity="0.5" stroke-width="4.6"/>
<rect x="815.5" y="725.6" width="48.2" height="18" fill="#ff0000" fill-opacity="0.08"/>
<text x="879.7" y="616.8" font-size="22.15" text-anchor="start" fill="#000">TW-1</text>
<text x="879.7" y="648.2" font-size="22.15" text-anchor="start" fill="#000">Sol 14</text>
<text x="879.7" y="679.5" font-size="22.15" text-anchor="start" fill="#000">Sol 92</text>
<text x="879.7" y="710.9" font-size="22.15" text-anchor="start" fill="#000">Sol 223</text>
<text x="879.7" y="742.2" font-size="22.15" text-anchor="start" fill="#000">GCM Simulated</text>
<path d="M1226.1 755.5l19.2 19.2M1226.1 774.7l19.2 -19.2" stroke="#0000ff" stroke-width="3.0" fill="none"/><path d="M1261.1 752.3l19.2 19.2M1261.1 771.5l19.2 -19.2" stroke="#0000ff" stroke-width="3.0" fill="none"/><path d="M1296.1 748.1l19.2 19.2M1296.1 767.3l19.2 -19.2" stroke="#0000ff" stroke-width="3.0" fill="none"/><path d="M1331 743.7l19.2 19.2M1331 762.9l19.2 -19.2" stroke="#0000ff" stroke-width="3.0" fill="none"/><path d="M1366 739.8l19.2 19.2M1366 759l19.2 -19.2" stroke="#0000ff" stroke-width="3.0" fill="none"/><path d="M1401 735.9l19.2 19.2M1401 755.1l19.2 -19.2" stroke="#0000ff" stroke-width="3.0" fill="none"/><path d="M1436 731.4l19.2 19.2M1436 750.6l19.2 -19.2" stroke="#0000ff" stroke-width="3.0" fill="none"/><path d="M1471 728.8l19.2 19.2M1471 748l19.2 -19.2" stroke="#0000ff" stroke-width="3.0" fill="none"/><path d="M1505.9 735.9l19.2 19.2M1505.9 755.1l19.2 -19.2" stroke="#0000ff" stroke-width="3.0" fill="none"/><path d="M1540.9 744.6l19.2 19.2M1540.9 763.8l19.2 -19.2" stroke="#0000ff" stroke-width="3.0" fill="none"/><path d="M1575.9 739.3l19.2 19.2M1575.9 758.5l19.2 -19.2" stroke="#0000ff" stroke-width="3.0" fill="none"/><path d="M1610.9 724.2l19.2 19.2M1610.9 743.4l19.2 -19.2" stroke="#0000ff" stroke-width="3.0" fill="none"/><path d="M1645.9 684.9l19.2 19.2M1645.9 704.1l19.2 -19.2" stroke="#0000ff" stroke-width="3.0" fill="none"/><path d="M1680.8 637.9l19.2 19.2M1680.8 657.1l19.2 -19.2" stroke="#0000ff" stroke-width="3.0" fill="none"/><path d="M1715.8 616.1l19.2 19.2M1715.8 635.3l19.2 -19.2" stroke="#0000ff" stroke-width="3.0" fill="none"/><path d="M1750.8 605.5l19.2 19.2M1750.8 624.7l19.2 -19.2" stroke="#0000ff" stroke-width="3.0" fill="none"/><path d="M1785.8 598.8l19.2 19.2M1785.8 618l19.2 -19.2" stroke="#0000ff" stroke-width="3.0" fill="none"/><path d="M1820.8 593.1l19.2 19.2M1820.8 612.3l19.2 -19.2" stroke="#0000ff" stroke-width="3.0" fill="none"/><path d="M1855.7 588.5l19.2 19.2M1855.7 607.7l19.2 -19.2" stroke="#0000ff" stroke-width="3.0" fill="none"/><path d="M1890.7 930.4l19.2 19.2M1890.7 949.6l19.2 -19.2" stroke="#0000ff" stroke-width="3.0" fill="none"/><path d="M1925.7 919.1l19.2 19.2M1925.7 938.3l19.2 -19.2" stroke="#0000ff" stroke-width="3.0" fill="none"/><path d="M1960.7 897.4l19.2 19.2M1960.7 916.6l19.2 -19.2" stroke="#0000ff" stroke-width="3.0" fill="none"/><path d="M2030.6 768.3l19.2 19.2M2030.6 787.5l19.2 -19.2" stroke="#0000ff" stroke-width="3.0" fill="none"/><path d="M2065.6 756.9l19.2 19.2M2065.6 776.1l19.2 -19.2" stroke="#0000ff" stroke-width="3.0" fill="none"/><path d="M1226.1 750.3l19.2 19.2M1226.1 769.5l19.2 -19.2" stroke="#008000" stroke-width="3.0" fill="none"/><path d="M1261.1 758.1l19.2 19.2M1261.1 777.3l19.2 -19.2" stroke="#008000" stroke-width="3.0" fill="none"/><path d="M1296.1 759.2l19.2 19.2M1296.1 778.4l19.2 -19.2" stroke="#008000" stroke-width="3.0" fill="none"/><path d="M1331 760.7l19.2 19.2M1331 779.9l19.2 -19.2" stroke="#008000" stroke-width="3.0" fill="none"/><path d="M1366 761.2l19.2 19.2M1366 780.4l19.2 -19.2" stroke="#008000" stroke-width="3.0" fill="none"/><path d="M1401 764.2l19.2 19.2M1401 783.4l19.2 -19.2" stroke="#008000" stroke-width="3.0" fill="none"/><path d="M1436 769.3l19.2 19.2M1436 788.5l19.2 -19.2" stroke="#008000" stroke-width="3.0" fill="none"/><path d="M1471 773.3l19.2 19.2M1471 792.5l19.2 -19.2" stroke="#008000" stroke-width="3.0" fill="none"/><path d="M1505.9 776.4l19.2 19.2M1505.9 795.6l19.2 -19.2" stroke="#008000" stroke-width="3.0" fill="none"/><path d="M1540.9 778.8l19.2 19.2M1540.9 798l19.2 -19.2" stroke="#008000" stroke-width="3.0" fill="none"/><path d="M1575.9 774.1l19.2 19.2M1575.9 793.3l19.2 -19.2" stroke="#008000" stroke-width="3.0" fill="none"/><path d="M1610.9 762.9l19.2 19.2M1610.9 782.1l19.2 -19.2" stroke="#008000" stroke-width="3.0" fill="none"/><path d="M1645.9 739.3l19.2 19.2M1645.9 758.5l19.2 -19.2" stroke="#008000" stroke-width="3.0" fill="none"/><path d="M1680.8 667.3l19.2 19.2M1680.8 686.5l19.2 -19.2" stroke="#008000" stroke-width="3.0" fill="none"/><path d="M1715.8 629.7l19.2 19.2M1715.8 648.9l19.2 -19.2" stroke="#008000" stroke-width="3.0" fill="none"/><path d="M1750.8 614.3l19.2 19.2M1750.8 633.5l19.2 -19.2" stroke="#008000" stroke-width="3.0" fill="none"/><path d="M1785.8 605.2l19.2 19.2M1785.8 624.4l19.2 -19.2" stroke="#008000" stroke-width="3.0" fill="none"/><path d="M1820.8 597l19.2 19.2M1820.8 616.2l19.2 -19.2" stroke="#008000" stroke-width="3.0" fill="none"/><path d="M1855.7 589.4l19.2 19.2M1855.7 608.6l19.2 -19.2" stroke="#008000" stroke-width="3.0" fill="none"/><path d="M1890.7 931l19.2 19.2M1890.7 950.2l19.2 -19.2" stroke="#008000" stroke-width="3.0" fill="none"/><path d="M1925.7 922l19.2 19.2M1925.7 941.2l19.2 -19.2" stroke="#008000" stroke-width="3.0" fill="none"/><path d="M1960.7 904.3l19.2 19.2M1960.7 923.5l19.2 -19.2" stroke="#008000" stroke-width="3.0" fill="none"/><path d="M2030.6 769.1l19.2 19.2M2030.6 788.3l19.2 -19.2" stroke="#008000" stroke-width="3.0" fill="none"/><path d="M2065.6 764.2l19.2 19.2M2065.6 783.4l19.2 -19.2" stroke="#008000" stroke-width="3.0" fill="none"/><path d="M1226.1 817.5l19.2 19.2M1226.1 836.7l19.2 -19.2" stroke="#ffa500" stroke-width="3.0" fill="none"/><path d="M1261.1 777l19.2 19.2M1261.1 796.2l19.2 -19.2" stroke="#ffa500" stroke-width="3.0" fill="none"/><path d="M1296.1 760.2l19.2 19.2M1296.1 779.4l19.2 -19.2" stroke="#ffa500" stroke-width="3.0" fill="none"/><path d="M1331 745.5l19.2 19.2M1331 764.7l19.2 -19.2" stroke="#ffa500" stroke-width="3.0" fill="none"/><path d="M1366 739l19.2 19.2M1366 758.2l19.2 -19.2" stroke="#ffa500" stroke-width="3.0" fill="none"/><path d="M1401 724.9l19.2 19.2M1401 744.1l19.2 -19.2" stroke="#ffa500" stroke-width="3.0" fill="none"/><path d="M1436 717.5l19.2 19.2M1436 736.7l19.2 -19.2" stroke="#ffa500" stroke-width="3.0" fill="none"/><path d="M1471 715.1l19.2 19.2M1471 734.3l19.2 -19.2" stroke="#ffa500" stroke-width="3.0" fill="none"/><path d="M1505.9 724.1l19.2 19.2M1505.9 743.3l19.2 -19.2" stroke="#ffa500" stroke-width="3.0" fill="none"/><path d="M1540.9 732.8l19.2 19.2M1540.9 752l19.2 -19.2" stroke="#ffa500" stroke-width="3.0" fill="none"/><path d="M1575.9 716.6l19.2 19.2M1575.9 735.8l19.2 -19.2" stroke="#ffa500" stroke-width="3.0" fill="none"/><path d="M1610.9 693.3l19.2 19.2M1610.9 712.5l19.2 -19.2" stroke="#ffa500" stroke-width="3.0" fill="none"/><path d="M1645.9 657.6l19.2 19.2M1645.9 676.8l19.2 -19.2" stroke="#ffa500" stroke-width="3.0" fill="none"/><path d="M1680.8 630.3l19.2 19.2M1680.8 649.5l19.2 -19.2" stroke="#ffa500" stroke-width="3.0" fill="none"/><path d="M1715.8 613.7l19.2 19.2M1715.8 632.9l19.2 -19.2" stroke="#ffa500" stroke-width="3.0" fill="none"/><path d="M1750.8 603.9l19.2 19.2M1750.8 623.1l19.2 -19.2" stroke="#ffa500" stroke-width="3.0" fill="none"/><path d="M1785.8 597.6l19.2 19.2M1785.8 616.8l19.2 -19.2" stroke="#ffa500" stroke-width="3.0" fill="none"/><path d="M1820.8 590.9l19.2 19.2M1820.8 610.1l19.2 -19.2" stroke="#ffa500" stroke-width="3.0" fill="none"/><path d="M1855.7 936.8l19.2 19.2M1855.7 956l19.2 -19.2" stroke="#ffa500" stroke-width="3.0" fill="none"/><path d="M1890.7 922.5l19.2 19.2M1890.7 941.7l19.2 -19.2" stroke="#ffa500" stroke-width="3.0" fill="none"/><path d="M1925.7 910.4l19.2 19.2M1925.7 929.6l19.2 -19.2" stroke="#ffa500" stroke-width="3.0" fill="none"/><path d="M1960.7 892.3l19.2 19.2M1960.7 911.5l19.2 -19.2" stroke="#ffa500" stroke-width="3.0" fill="none"/><path d="M1995.7 871.9l19.2 19.2M1995.7 891.1l19.2 -19.2" stroke="#ffa500" stroke-width="3.0" fill="none"/><path d="M2030.6 837.7l19.2 19.2M2030.6 856.9l19.2 -19.2" stroke="#ffa500" stroke-width="3.0" fill="none"/><path d="M2065.6 802l19.2 19.2M2065.6 821.2l19.2 -19.2" stroke="#ffa500" stroke-width="3.0" fill="none"/>
<circle cx="1678.5" cy="740.4" r="11" fill="#0000ff"/>
<circle cx="1661.1" cy="727.1" r="11" fill="#008000"/>
<circle cx="1573.3" cy="732.9" r="11" fill="#ffa500"/>
<rect x="1193.3" y="580.4" width="925.6" height="383.2" fill="none" stroke="#000" stroke-width="2.45"/>
<text x="1235.7" y="1002.6" font-size="22.9" text-anchor="middle" fill="#000">0</text>
<text x="1305.7" y="1002.6" font-size="22.9" text-anchor="middle" fill="#000">2</text>
<text x="1375.6" y="1002.6" font-size="22.9" text-anchor="middle" fill="#000">4</text>
<text x="1445.6" y="1002.6" font-size="22.9" text-anchor="middle" fill="#000">6</text>
<text x="1515.5" y="1002.6" font-size="22.9" text-anchor="middle" fill="#000">8</text>
<text x="1585.5" y="1002.6" font-size="22.9" text-anchor="middle" fill="#000">10</text>
<text x="1655.5" y="1002.6" font-size="22.9" text-anchor="middle" fill="#000">12</text>
<text x="1725.4" y="1002.6" font-size="22.9" text-anchor="middle" fill="#000">14</text>
<text x="1795.4" y="1002.6" font-size="22.9" text-anchor="middle" fill="#000">16</text>
<text x="1865.3" y="1002.6" font-size="22.9" text-anchor="middle" fill="#000">18</text>
<text x="1935.3" y="1002.6" font-size="22.9" text-anchor="middle" fill="#000">20</text>
<text x="2005.3" y="1002.6" font-size="22.9" text-anchor="middle" fill="#000">22</text>
<text x="2075.2" y="1002.6" font-size="22.9" text-anchor="middle" fill="#000">24</text>
<text x="1172.7" y="958.9" font-size="22.9" text-anchor="end" fill="#000">0</text>
<text x="1172.7" y="899.7" font-size="22.9" text-anchor="end" fill="#000">60</text>
<text x="1172.7" y="840.5" font-size="22.9" text-anchor="end" fill="#000">120</text>
<text x="1172.7" y="781.3" font-size="22.9" text-anchor="end" fill="#000">180</text>
<text x="1172.7" y="722.1" font-size="22.9" text-anchor="end" fill="#000">240</text>
<text x="1172.7" y="662.9" font-size="22.9" text-anchor="end" fill="#000">300</text>
<text x="1172.7" y="603.7" font-size="22.9" text-anchor="end" fill="#000">360</text>
<path d="M1235.7 964.6v9.6M1305.7 964.6v9.6M1375.6 964.6v9.6M1445.6 964.6v9.6M1515.5 964.6v9.6M1585.5 964.6v9.6M1655.5 964.6v9.6M1725.4 964.6v9.6M1795.4 964.6v9.6M1865.3 964.6v9.6M1935.3 964.6v9.6M2005.3 964.6v9.6M2075.2 964.6v9.6M1192.3 950.4h-9.6M1192.3 891.2h-9.6M1192.3 832h-9.6M1192.3 772.8h-9.6M1192.3 713.6h-9.6M1192.3 654.4h-9.6M1192.3 595.2h-9.6" stroke="#000" stroke-width="2.45" fill="none"/>
<text x="1656.1" y="1034.9" font-size="22.3" text-anchor="middle" fill="#000">Local True Solar Time (hour)</text>
<text x="1113.5" y="772" font-size="22.3" text-anchor="middle" transform="rotate(-90 1113.5 772)" fill="#000">Wind Direction (°)</text>
<text x="1071" y="573.6" font-size="40" text-anchor="start" font-weight="bold" fill="#000">e</text>
<rect x="1205.1" y="851.6" width="656.8" height="101" rx="5" ry="5" fill="#fff" fill-opacity="0.8" stroke="#ccc" stroke-opacity="0.8" stroke-width="1.7"/>
<path d="M1226.1 859.6l19.2 19.2M1226.1 878.8l19.2 -19.2" stroke="#0000ff" stroke-width="3.0" fill="none"/>
<circle cx="1235.7" cy="900.4" r="11" fill="#0000ff"/>
<path d="M1226.1 922.1l19.2 19.2M1226.1 941.3l19.2 -19.2" stroke="#008000" stroke-width="3.0" fill="none"/>
<circle cx="1571.8" cy="869.2" r="11" fill="#008000"/>
<path d="M1562.2 890.8l19.2 19.2M1562.2 910l19.2 -19.2" stroke="#ffa500" stroke-width="3.0" fill="none"/>
<circle cx="1571.8" cy="931.7" r="11" fill="#ffa500"/>
<text x="1275.8" y="876.8" font-size="22.15" text-anchor="start" fill="#000">Simulated Sol 14</text>
<text x="1275.8" y="908" font-size="22.15" text-anchor="start" fill="#000">Measured Sol 14 Mean</text>
<text x="1275.8" y="939.3" font-size="22.15" text-anchor="start" fill="#000">Simulated Sol 92</text>
<text x="1612.7" y="876.8" font-size="22.15" text-anchor="start" fill="#000">Measured Sol 92 Mean</text>
<text x="1612.7" y="908" font-size="22.15" text-anchor="start" fill="#000">Simulated Sol 223</text>
<text x="1612.7" y="939.3" font-size="22.15" text-anchor="start" fill="#000">Measured Sol 223 Mean</text>
<clipPath id="cf"><rect x="105.1" y="1109.4" width="948" height="375.1"/></clipPath>
<path d="M146.4 1230.1L184.2 1262.6L220.1 1296.5L256 1321.9L291.9 1331.3L327.7 1337.6L363.6 1341.8L399.5 1342.4L435.4 1314.5L471.3 1285.6L507.2 1255.9L543.1 1225.1L579 1191L614.8 1160.6L650.7 1161.7L686.6 1152.7L722.5 1167.1L758.4 1125.7L794.3 1161.7L830.2 1172.1L866 1182.6L901.9 1195.2L937.8 1203.6L973.7 1218.2L1011.5 1230.8L1011.5 1468.9L973.7 1468.9L937.8 1430.5L901.9 1406.7L830.2 1344.7L758.4 1331.5L722.5 1385.7L686.6 1436L650.7 1468L614.8 1455.9L579 1449.6L543.1 1452.7L507.2 1442.3L471.3 1443.3L435.4 1444.4L399.5 1450.6L363.6 1468.9L327.7 1468.4L291.9 1468.4L256 1468.4L220.1 1455.5L184.2 1464.3L146.4 1469.5Z" fill="#ff0000" fill-opacity="0.08" clip-path="url(#cf)"/>
<path d="M270.3 1110.4V1483.5" stroke="#0000ff" stroke-opacity="0.5" stroke-width="4.6" fill="none"/>
<path d="M354.3 1110.4V1483.5" stroke="#008000" stroke-opacity="0.5" stroke-width="4.6" fill="none"/>
<path d="M504.8 1110.4V1483.5" stroke="#ffa500" stroke-opacity="0.5" stroke-width="4.6" fill="none"/>
<g fill="#ea0a0a"><circle cx="317.7" cy="1269.8" r="3.65"/><circle cx="361.6" cy="1284.7" r="3.65"/><circle cx="350.7" cy="1299.9" r="3.65"/><circle cx="336.7" cy="1310.7" r="3.65"/><circle cx="349.7" cy="1319.9" r="3.65"/><circle cx="326.1" cy="1325.6" r="3.65"/><circle cx="309.2" cy="1326.2" r="3.65"/><circle cx="304.4" cy="1330.3" r="3.65"/><circle cx="353.1" cy="1341.6" r="3.65"/><circle cx="293.9" cy="1346.5" r="3.65"/><circle cx="327.4" cy="1346.5" r="3.65"/><circle cx="303.2" cy="1347.3" r="3.65"/><circle cx="319.5" cy="1348.9" r="3.65"/><circle cx="278.6" cy="1353.3" r="3.65"/><circle cx="284.2" cy="1354.4" r="3.65"/><circle cx="289.5" cy="1354.9" r="3.65"/><circle cx="304.4" cy="1351.2" r="3.65"/><circle cx="305.7" cy="1354.9" r="3.65"/><circle cx="306.9" cy="1359.3" r="3.65"/><circle cx="360.6" cy="1358.4" r="3.65"/><circle cx="342" cy="1367.3" r="3.65"/><circle cx="299.7" cy="1372" r="3.65"/><circle cx="313.1" cy="1371.2" r="3.65"/><circle cx="340.7" cy="1372.3" r="3.65"/><circle cx="301.6" cy="1375.2" r="3.65"/><circle cx="374" cy="1375.8" r="3.65"/><circle cx="290.5" cy="1377.9" r="3.65"/><circle cx="340.7" cy="1376.6" r="3.65"/><circle cx="335.7" cy="1378.3" r="3.65"/><circle cx="321.8" cy="1384.3" r="3.65"/><circle cx="357.1" cy="1384.1" r="3.65"/><circle cx="376.1" cy="1384.5" r="3.65"/><circle cx="331.1" cy="1385.3" r="3.65"/><circle cx="367.8" cy="1386" r="3.65"/><circle cx="328.3" cy="1390.3" r="3.65"/><circle cx="270.5" cy="1393" r="3.65"/><circle cx="364.3" cy="1392.2" r="3.65"/><circle cx="370.5" cy="1392.8" r="3.65"/><circle cx="314" cy="1396.5" r="3.65"/><circle cx="333.3" cy="1396.8" r="3.65"/><circle cx="374.3" cy="1395.9" r="3.65"/><circle cx="377.4" cy="1397.8" r="3.65"/><circle cx="368" cy="1397.8" r="3.65"/><circle cx="361.8" cy="1398.4" r="3.65"/><circle cx="334.5" cy="1399" r="3.65"/><circle cx="344.2" cy="1401" r="3.65"/><circle cx="307.8" cy="1401.9" r="3.65"/><circle cx="353.8" cy="1401.5" r="3.65"/><circle cx="359.3" cy="1401.5" r="3.65"/><circle cx="365.6" cy="1401.5" r="3.65"/><circle cx="272.4" cy="1403" r="3.65"/><circle cx="287" cy="1404.6" r="3.65"/><circle cx="363.1" cy="1405.2" r="3.65"/><circle cx="284.8" cy="1407.7" r="3.65"/><circle cx="359.3" cy="1406.5" r="3.65"/><circle cx="367.4" cy="1409.6" r="3.65"/><circle cx="310.9" cy="1410.8" r="3.65"/><circle cx="317.1" cy="1410.2" r="3.65"/><circle cx="322.7" cy="1409.6" r="3.65"/><circle cx="278.6" cy="1412.4" r="3.65"/><circle cx="281.7" cy="1412" r="3.65"/><circle cx="292.9" cy="1413.3" r="3.65"/><circle cx="287.3" cy="1414.5" r="3.65"/><circle cx="313.4" cy="1413.9" r="3.65"/><circle cx="319.6" cy="1413.9" r="3.65"/><circle cx="325.2" cy="1413.3" r="3.65"/><circle cx="348.8" cy="1413" r="3.65"/><circle cx="312.1" cy="1416.4" r="3.65"/><circle cx="322.1" cy="1416.4" r="3.65"/><circle cx="333.3" cy="1415.8" r="3.65"/><circle cx="344.4" cy="1415.8" r="3.65"/><circle cx="327" cy="1417.6" r="3.65"/><circle cx="340.7" cy="1418.3" r="3.65"/><circle cx="370.5" cy="1417.6" r="3.65"/><circle cx="267.2" cy="1419.1" r="3.65"/><circle cx="315.9" cy="1419.5" r="3.65"/><circle cx="329.5" cy="1420.1" r="3.65"/><circle cx="337" cy="1419.5" r="3.65"/><circle cx="300" cy="1420.1" r="3.65"/><circle cx="296" cy="1421.6" r="3.65"/><circle cx="291.6" cy="1422.4" r="3.65"/><circle cx="351.9" cy="1423.6" r="3.65"/><circle cx="310.9" cy="1424.5" r="3.65"/><circle cx="330.2" cy="1425.7" r="3.65"/><circle cx="283" cy="1427" r="3.65"/><circle cx="281.1" cy="1430.1" r="3.65"/><circle cx="288.5" cy="1435" r="3.65"/><circle cx="435.7" cy="1253" r="3.65"/><circle cx="438.2" cy="1257.4" r="3.65"/><circle cx="432.9" cy="1335.7" r="3.65"/><circle cx="442" cy="1349.3" r="3.65"/><circle cx="443.2" cy="1373.3" r="3.65"/><circle cx="439.5" cy="1381.6" r="3.65"/><circle cx="435.7" cy="1388.7" r="3.65"/><circle cx="433.9" cy="1395.3" r="3.65"/><circle cx="465.6" cy="1360.5" r="3.65"/><circle cx="460.6" cy="1375.4" r="3.65"/><circle cx="458.1" cy="1379.1" r="3.65"/><circle cx="468" cy="1383.7" r="3.65"/><circle cx="473.6" cy="1383.1" r="3.65"/><circle cx="482.3" cy="1385.6" r="3.65"/><circle cx="487.9" cy="1384.1" r="3.65"/><circle cx="483.6" cy="1391.6" r="3.65"/><circle cx="492.3" cy="1387.8" r="3.65"/><circle cx="496" cy="1390.9" r="3.65"/><circle cx="474.9" cy="1395.3" r="3.65"/><circle cx="472.4" cy="1401.7" r="3.65"/><circle cx="498.5" cy="1395.3" r="3.65"/><circle cx="498.5" cy="1400.9" r="3.65"/><circle cx="504.7" cy="1394" r="3.65"/><circle cx="505.3" cy="1403" r="3.65"/><circle cx="499.3" cy="1357.4" r="3.65"/><circle cx="514.6" cy="1384.1" r="3.65"/><circle cx="511.5" cy="1392.2" r="3.65"/><circle cx="522.5" cy="1344.1" r="3.65"/><circle cx="519.6" cy="1363.6" r="3.65"/><circle cx="523.3" cy="1366.7" r="3.65"/><circle cx="527.7" cy="1368" r="3.65"/><circle cx="535.1" cy="1359.9" r="3.65"/><circle cx="539.5" cy="1363.6" r="3.65"/><circle cx="544.4" cy="1366.7" r="3.65"/><circle cx="543.2" cy="1353" r="3.65"/><circle cx="556.6" cy="1361.7" r="3.65"/><circle cx="570.5" cy="1355.3" r="3.65"/><circle cx="528.9" cy="1380.4" r="3.65"/><circle cx="530.2" cy="1384.1" r="3.65"/><circle cx="548.4" cy="1384.1" r="3.65"/><circle cx="564.9" cy="1380.4" r="3.65"/><circle cx="568.7" cy="1378.1" r="3.65"/><circle cx="561.8" cy="1387.2" r="3.65"/><circle cx="571.5" cy="1390.3" r="3.65"/><circle cx="531.4" cy="1400.2" r="3.65"/><circle cx="535.7" cy="1399.4" r="3.65"/><circle cx="540.1" cy="1399" r="3.65"/><circle cx="547.2" cy="1400.9" r="3.65"/><circle cx="552.5" cy="1408.9" r="3.65"/><circle cx="555" cy="1413.3" r="3.65"/><circle cx="553.8" cy="1418.9" r="3.65"/><circle cx="560.6" cy="1423.2" r="3.65"/><circle cx="563.4" cy="1409.2" r="3.65"/><circle cx="578.6" cy="1402.1" r="3.65"/><circle cx="586.9" cy="1400" r="3.65"/><circle cx="574.9" cy="1410.2" r="3.65"/><circle cx="580.5" cy="1408.9" r="3.65"/><circle cx="581.5" cy="1419.9" r="3.65"/><circle cx="582.3" cy="1428.6" r="3.65"/><circle cx="586.7" cy="1421.6" r="3.65"/><circle cx="590.4" cy="1423.9" r="3.65"/><circle cx="593.5" cy="1425.7" r="3.65"/><circle cx="596.6" cy="1428.2" r="3.65"/><circle cx="597.9" cy="1431.9" r="3.65"/><circle cx="599.7" cy="1435" r="3.65"/><circle cx="604.1" cy="1427.6" r="3.65"/><circle cx="606.8" cy="1420.7" r="3.65"/><circle cx="609" cy="1428.8" r="3.65"/><circle cx="614.6" cy="1415.8" r="3.65"/><circle cx="618" cy="1413.9" r="3.65"/><circle cx="616.5" cy="1417.6" r="3.65"/><circle cx="622.1" cy="1421.4" r="3.65"/><circle cx="627" cy="1415.8" r="3.65"/><circle cx="625.4" cy="1420.1" r="3.65"/><circle cx="623.9" cy="1429.2" r="3.65"/></g>
<rect x="105.1" y="1109.4" width="948" height="375.1" fill="none" stroke="#000" stroke-width="2.45"/>
<text x="148.3" y="1523.5" font-size="22.9" text-anchor="middle" fill="#000">0</text>
<text x="256" y="1523.5" font-size="22.9" text-anchor="middle" fill="#000">45</text>
<text x="363.6" y="1523.5" font-size="22.9" text-anchor="middle" fill="#000">90</text>
<text x="471.3" y="1523.5" font-size="22.9" text-anchor="middle" fill="#000">135</text>
<text x="579" y="1523.5" font-size="22.9" text-anchor="middle" fill="#000">180</text>
<text x="686.6" y="1523.5" font-size="22.9" text-anchor="middle" fill="#000">225</text>
<text x="794.3" y="1523.5" font-size="22.9" text-anchor="middle" fill="#000">270</text>
<text x="901.9" y="1523.5" font-size="22.9" text-anchor="middle" fill="#000">315</text>
<text x="1009.6" y="1523.5" font-size="22.9" text-anchor="middle" fill="#000">360</text>
<text x="84.5" y="1475.9" font-size="22.9" text-anchor="end" fill="#000">0</text>
<text x="84.5" y="1392.1" font-size="22.9" text-anchor="end" fill="#000">4</text>
<text x="84.5" y="1308.4" font-size="22.9" text-anchor="end" fill="#000">8</text>
<text x="84.5" y="1224.6" font-size="22.9" text-anchor="end" fill="#000">12</text>
<text x="84.5" y="1140.9" font-size="22.9" text-anchor="end" fill="#000">16</text>
<path d="M148.3 1485.5v9.6M256 1485.5v9.6M363.6 1485.5v9.6M471.3 1485.5v9.6M579 1485.5v9.6M686.6 1485.5v9.6M794.3 1485.5v9.6M901.9 1485.5v9.6M1009.6 1485.5v9.6M104.1 1467.4h-9.6M104.1 1383.6h-9.6M104.1 1299.9h-9.6M104.1 1216.1h-9.6M104.1 1132.4h-9.6" stroke="#000" stroke-width="2.45" fill="none"/>
<text x="579.1" y="1555.8" font-size="22.3" text-anchor="middle" fill="#000">Solar Longitude (°)</text>
<text x="39.8" y="1297" font-size="22.3" text-anchor="middle" transform="rotate(-90 39.8 1297)" fill="#000">Wind Speed (m/s)</text>
<text x="0.5" y="1115.2" font-size="40" text-anchor="start" font-weight="bold" fill="#000">f</text>
<rect x="804.7" y="1120.4" width="237" height="163.6" rx="5" ry="5" fill="#fff" fill-opacity="0.8" stroke="#ccc" stroke-opacity="0.8" stroke-width="1.7"/>
<circle cx="836" cy="1138.6" r="3.65" fill="#ea0a0a"/>
<path d="M811.9 1170H860.1" stroke="#0000ff" stroke-opacity="0.5" stroke-width="4.6"/>
<path d="M811.9 1201.3H860.1" stroke="#008000" stroke-opacity="0.5" stroke-width="4.6"/>
<path d="M811.9 1232.7H860.1" stroke="#ffa500" stroke-opacity="0.5" stroke-width="4.6"/>
<rect x="811.9" y="1255" width="48.2" height="18" fill="#ff0000" fill-opacity="0.08"/>
<text x="876.1" y="1146.2" font-size="22.15" text-anchor="start" fill="#000">TW-1</text>
<text x="876.1" y="1177.5" font-size="22.15" text-anchor="start" fill="#000">Sol 14</text>
<text x="876.1" y="1208.9" font-size="22.15" text-anchor="start" fill="#000">Sol 92</text>
<text x="876.1" y="1240.2" font-size="22.15" text-anchor="start" fill="#000">Sol 223</text>
<text x="876.1" y="1271.6" font-size="22.15" text-anchor="start" fill="#000">GCM Simulated</text>
<path d="M1210 1447.6L1245.9 1438L1281.8 1433.2L1317.6 1430.7L1353.5 1431.2L1389.4 1432.6L1425.3 1425.9L1461.2 1415L1497 1405.7L1532.9 1393.1L1568.8 1400.4L1604.7 1414.8L1640.6 1428L1676.4 1410.4L1712.3 1378.3L1748.2 1343.2L1784.1 1328.6L1820 1319.3L1855.8 1346.2L1891.7 1385.6L1927.6 1422.1L1963.5 1460.1L1999.4 1474.3L2035.2 1454.4L2071.1 1445.5" stroke="#0000ff" stroke-width="2.85" stroke-dasharray="11.4 5.2" fill="none" stroke-linejoin="round"/>
<path d="M1210 1436.7L1245.9 1430.7L1281.8 1429.1L1317.6 1430.7L1353.5 1433.9L1389.4 1437.3L1425.3 1428.4L1461.2 1413.6L1497 1389.5L1532.9 1363L1568.8 1372.2L1604.7 1395.9L1640.6 1428.7L1676.4 1432.3L1712.3 1403.2L1748.2 1369.4L1784.1 1351.9L1820 1336.8L1855.8 1357.8L1891.7 1392.9L1927.6 1426.6L1963.5 1461.7L1999.4 1470.4L2035.2 1446.9L2071.1 1437.3" stroke="#008000" stroke-width="2.85" stroke-dasharray="11.4 5.2" fill="none" stroke-linejoin="round"/>
<path d="M1210 1427.3L1245.9 1434.8L1281.8 1432.1L1317.6 1430.7L1353.5 1433.9L1389.4 1439.4L1425.3 1436.7L1461.2 1429.8L1497 1417.7L1532.9 1401.6L1568.8 1399.7L1604.7 1392.9L1640.6 1382.6L1676.4 1349.1L1712.3 1308.1L1748.2 1265.7L1784.1 1255.5L1820 1259.8L1855.8 1294.9L1891.7 1343.2L1927.6 1376.7L1963.5 1404.5L1999.4 1426.6L2035.2 1439.6L2071.1 1442.1" stroke="#ffa500" stroke-width="2.85" stroke-dasharray="11.4 5.2" fill="none" stroke-linejoin="round"/>
<circle cx="1664.2" cy="1392.9" r="11" fill="#0000ff"/>
<circle cx="1645.9" cy="1401.8" r="11" fill="#008000"/>
<circle cx="1555.5" cy="1404.3" r="11" fill="#ffa500"/>
<rect x="1166.7" y="1109.2" width="948.1" height="375.5" fill="none" stroke="#000" stroke-width="2.45"/>
<text x="1210" y="1523.7" font-size="22.9" text-anchor="middle" fill="#000">0</text>
<text x="1281.8" y="1523.7" font-size="22.9" text-anchor="middle" fill="#000">2</text>
<text x="1353.5" y="1523.7" font-size="22.9" text-anchor="middle" fill="#000">4</text>
<text x="1425.3" y="1523.7" font-size="22.9" text-anchor="middle" fill="#000">6</text>
<text x="1497" y="1523.7" font-size="22.9" text-anchor="middle" fill="#000">8</text>
<text x="1568.8" y="1523.7" font-size="22.9" text-anchor="middle" fill="#000">10</text>
<text x="1640.6" y="1523.7" font-size="22.9" text-anchor="middle" fill="#000">12</text>
<text x="1712.3" y="1523.7" font-size="22.9" text-anchor="middle" fill="#000">14</text>
<text x="1784.1" y="1523.7" font-size="22.9" text-anchor="middle" fill="#000">16</text>
<text x="1855.8" y="1523.7" font-size="22.9" text-anchor="middle" fill="#000">18</text>
<text x="1927.6" y="1523.7" font-size="22.9" text-anchor="middle" fill="#000">20</text>
<text x="1999.4" y="1523.7" font-size="22.9" text-anchor="middle" fill="#000">22</text>
<text x="2071.1" y="1523.7" font-size="22.9" text-anchor="middle" fill="#000">24</text>
<text x="1146.1" y="1482.3" font-size="22.9" text-anchor="end" fill="#000">0</text>
<text x="1146.1" y="1391.1" font-size="22.9" text-anchor="end" fill="#000">4</text>
<text x="1146.1" y="1300" font-size="22.9" text-anchor="end" fill="#000">8</text>
<text x="1146.1" y="1208.8" font-size="22.9" text-anchor="end" fill="#000">12</text>
<text x="1146.1" y="1117.7" font-size="22.9" text-anchor="end" fill="#000">16</text>
<path d="M1210 1485.7v9.6M1281.8 1485.7v9.6M1353.5 1485.7v9.6M1425.3 1485.7v9.6M1497 1485.7v9.6M1568.8 1485.7v9.6M1640.6 1485.7v9.6M1712.3 1485.7v9.6M1784.1 1485.7v9.6M1855.8 1485.7v9.6M1927.6 1485.7v9.6M1999.4 1485.7v9.6M2071.1 1485.7v9.6M1165.7 1473.8h-9.6M1165.7 1382.6h-9.6M1165.7 1291.5h-9.6M1165.7 1200.3h-9.6M1165.7 1109.2h-9.6" stroke="#000" stroke-width="2.45" fill="none"/>
<text x="1640.8" y="1556" font-size="22.3" text-anchor="middle" fill="#000">Local True Solar Time (hour)</text>
<text x="1104.5" y="1297" font-size="22.3" text-anchor="middle" transform="rotate(-90 1104.5 1297)" fill="#000">Wind Speed (m/s)</text>
<text x="1071" y="1116" font-size="40" text-anchor="start" font-weight="bold" fill="#000">g</text>
<rect x="1177.6" y="1120.4" width="322.3" height="195.1" rx="5" ry="5" fill="#fff" fill-opacity="0.8" stroke="#ccc" stroke-opacity="0.8" stroke-width="1.7"/>
<path d="M1187.1 1138.4H1232.1" stroke="#0000ff" stroke-width="2.85" stroke-dasharray="11.4 5.2" fill="none"/>
<text x="1249.6" y="1146" font-size="22.15" text-anchor="start" fill="#000">Simulated Sol 14</text>
<circle cx="1209.6" cy="1169.8" r="11" fill="#0000ff"/>
<text x="1249.6" y="1177.4" font-size="22.15" text-anchor="start" fill="#000">Measured Sol 14 Mean</text>
<path d="M1187.1 1201.2H1232.1" stroke="#008000" stroke-width="2.85" stroke-dasharray="11.4 5.2" fill="none"/>
<text x="1249.6" y="1208.8" font-size="22.15" text-anchor="start" fill="#000">Simulated Sol 92</text>
<circle cx="1209.6" cy="1232.6" r="11" fill="#008000"/>
<text x="1249.6" y="1240.2" font-size="22.15" text-anchor="start" fill="#000">Measured Sol 92 Mean</text>
<path d="M1187.1 1264H1232.1" stroke="#ffa500" stroke-width="2.85" stroke-dasharray="11.4 5.2" fill="none"/>
<text x="1249.6" y="1271.6" font-size="22.15" text-anchor="start" fill="#000">Simulated Sol 223</text>
<circle cx="1209.6" cy="1295.4" r="11" fill="#ffa500"/>
<text x="1249.6" y="1303" font-size="22.15" text-anchor="start" fill="#000">Measured Sol 223 Mean</text>
<clipPath id="ch"><rect x="114.6" y="1641" width="935.6" height="382.8"/></clipPath>
<path d="M155.1 1776.3L192.4 1772.1L227.9 1766.5L244.4 1756.7L263.3 1754L279.9 1758.7L298.8 1769.4L334.2 1788.9L350.7 1809.5L369.6 1836.5L405.1 1889.5L440.5 1925.8L475.9 1956.7L492.5 1959.9L520.6 1958.2L547.8 1951.5L581.5 1914.5L621.9 1872.4L655.5 1818.6L689 1758L722.8 1707.5L749.8 1667.1L766.5 1657.1L783.3 1663.9L800.1 1673.9L840.5 1721.1L874.3 1754.7L907.8 1778.2L941.3 1798.4L975.1 1811.8L1009.4 1798.4L1009.4 1818.6L975.1 1826.9L941.3 1818.6L907.8 1804.3L874.3 1784.7L840.5 1761.3L800.1 1721.1L783.3 1712.6L766.5 1707.5L749.8 1716L722.8 1747.9L689 1791.6L655.5 1845.6L621.9 1896L581.5 1946.4L554.1 1971.6L530.5 1980.1L507.1 1988.4L486.8 1985.2L475.9 1981.7L440.5 1953.7L405.1 1914.6L369.6 1861.6L334.2 1822.5L298.8 1794.4L279.9 1780.8L263.3 1777.6L227.9 1794.4L192.4 1802.8L155.1 1812.6Z" fill="#ff0000" fill-opacity="0.08" clip-path="url(#ch)"/>
<path d="M277.3 1642V2022.8" stroke="#0000ff" stroke-opacity="0.5" stroke-width="4.6" fill="none"/>
<path d="M359.9 1642V2022.8" stroke="#008000" stroke-opacity="0.5" stroke-width="4.6" fill="none"/>
<path d="M508.5 1642V2022.8" stroke="#ffa500" stroke-opacity="0.5" stroke-width="4.6" fill="none"/>
<g fill="#ea0a0a"><circle cx="275.5" cy="1787.8" r="3.65"/><circle cx="276" cy="1786.9" r="3.65"/><circle cx="280.2" cy="1790.8" r="3.65"/><circle cx="278.5" cy="1785.8" r="3.65"/><circle cx="279.8" cy="1788.4" r="3.65"/><circle cx="281.3" cy="1789.3" r="3.65"/><circle cx="285.6" cy="1788.5" r="3.65"/><circle cx="287.3" cy="1791.8" r="3.65"/><circle cx="286" cy="1792.3" r="3.65"/><circle cx="288.1" cy="1791.6" r="3.65"/><circle cx="289.3" cy="1794.5" r="3.65"/><circle cx="291" cy="1790.5" r="3.65"/><circle cx="292.5" cy="1796.3" r="3.65"/><circle cx="292.6" cy="1792.1" r="3.65"/><circle cx="294" cy="1798.6" r="3.65"/><circle cx="297.7" cy="1797" r="3.65"/><circle cx="298.5" cy="1799.2" r="3.65"/><circle cx="297.6" cy="1794.1" r="3.65"/><circle cx="300.3" cy="1799.3" r="3.65"/><circle cx="300.4" cy="1797.7" r="3.65"/><circle cx="302" cy="1801" r="3.65"/><circle cx="302.9" cy="1800.8" r="3.65"/><circle cx="305.1" cy="1806.8" r="3.65"/><circle cx="307.1" cy="1803.2" r="3.65"/><circle cx="307" cy="1805.9" r="3.65"/><circle cx="307.8" cy="1805" r="3.65"/><circle cx="310.2" cy="1805.3" r="3.65"/><circle cx="311.1" cy="1808.9" r="3.65"/><circle cx="313.2" cy="1813.3" r="3.65"/><circle cx="314.2" cy="1814.1" r="3.65"/><circle cx="313.9" cy="1815.2" r="3.65"/><circle cx="314.8" cy="1815.6" r="3.65"/><circle cx="315.8" cy="1815.4" r="3.65"/><circle cx="315.7" cy="1814.5" r="3.65"/><circle cx="320.8" cy="1815.1" r="3.65"/><circle cx="320.6" cy="1819.3" r="3.65"/><circle cx="321.8" cy="1818.6" r="3.65"/><circle cx="322.3" cy="1815.8" r="3.65"/><circle cx="321.1" cy="1817.7" r="3.65"/><circle cx="322.5" cy="1817.5" r="3.65"/><circle cx="323.5" cy="1822.5" r="3.65"/><circle cx="324.8" cy="1827.1" r="3.65"/><circle cx="328.1" cy="1824.9" r="3.65"/><circle cx="329.2" cy="1823.8" r="3.65"/><circle cx="331.3" cy="1829.9" r="3.65"/><circle cx="331.5" cy="1828.1" r="3.65"/><circle cx="333" cy="1831.6" r="3.65"/><circle cx="333.3" cy="1834.3" r="3.65"/><circle cx="334.3" cy="1830.8" r="3.65"/><circle cx="335" cy="1830.4" r="3.65"/><circle cx="334.5" cy="1835.9" r="3.65"/><circle cx="338.1" cy="1839.1" r="3.65"/><circle cx="339.5" cy="1836.5" r="3.65"/><circle cx="337.2" cy="1837.1" r="3.65"/><circle cx="342" cy="1840.7" r="3.65"/><circle cx="341.1" cy="1839.1" r="3.65"/><circle cx="341" cy="1838.1" r="3.65"/><circle cx="341.4" cy="1845.6" r="3.65"/><circle cx="345" cy="1840.7" r="3.65"/><circle cx="345.1" cy="1841.4" r="3.65"/><circle cx="345.2" cy="1848.5" r="3.65"/><circle cx="348.3" cy="1847.8" r="3.65"/><circle cx="347.7" cy="1850.7" r="3.65"/><circle cx="351.7" cy="1850.2" r="3.65"/><circle cx="348.9" cy="1848.3" r="3.65"/><circle cx="350" cy="1857.1" r="3.65"/><circle cx="353.1" cy="1857.4" r="3.65"/><circle cx="352.6" cy="1853.8" r="3.65"/><circle cx="355.9" cy="1860.4" r="3.65"/><circle cx="355.5" cy="1854.6" r="3.65"/><circle cx="358.8" cy="1857.8" r="3.65"/><circle cx="359.4" cy="1857.9" r="3.65"/><circle cx="360.2" cy="1864.9" r="3.65"/><circle cx="361.4" cy="1862.1" r="3.65"/><circle cx="362.5" cy="1861.5" r="3.65"/><circle cx="361.8" cy="1865.1" r="3.65"/><circle cx="365.3" cy="1864.1" r="3.65"/><circle cx="366.4" cy="1870.8" r="3.65"/><circle cx="367.9" cy="1868.4" r="3.65"/><circle cx="365.6" cy="1868.7" r="3.65"/><circle cx="369.4" cy="1876.2" r="3.65"/><circle cx="369.9" cy="1873.6" r="3.65"/><circle cx="369.1" cy="1878" r="3.65"/><circle cx="372.8" cy="1873.2" r="3.65"/><circle cx="371" cy="1880.8" r="3.65"/><circle cx="374.8" cy="1877.9" r="3.65"/><circle cx="373.4" cy="1880.3" r="3.65"/><circle cx="375.5" cy="1879.2" r="3.65"/><circle cx="377.8" cy="1884.7" r="3.65"/><circle cx="378.6" cy="1883.9" r="3.65"/><circle cx="380.4" cy="1890.1" r="3.65"/><circle cx="378.7" cy="1893.5" r="3.65"/><circle cx="381.2" cy="1894.4" r="3.65"/><circle cx="379.4" cy="1889.6" r="3.65"/><circle cx="383.4" cy="1893.5" r="3.65"/><circle cx="293.3" cy="1788.6" r="3.65"/><circle cx="302.6" cy="1792" r="3.65"/><circle cx="299.6" cy="1787.7" r="3.65"/><circle cx="292.6" cy="1787.6" r="3.65"/><circle cx="300.7" cy="1791.5" r="3.65"/><circle cx="284.4" cy="1787.8" r="3.65"/><circle cx="293.8" cy="1787.8" r="3.65"/><circle cx="286.7" cy="1791.4" r="3.65"/><circle cx="293" cy="1792.8" r="3.65"/><circle cx="295.4" cy="1790.7" r="3.65"/><circle cx="295.4" cy="1788.6" r="3.65"/><circle cx="288.5" cy="1795" r="3.65"/><circle cx="286.1" cy="1789.2" r="3.65"/><circle cx="287.9" cy="1791.8" r="3.65"/><circle cx="315.8" cy="1835" r="3.65"/><circle cx="273.9" cy="1784.7" r="3.65"/><circle cx="277.3" cy="1791.7" r="3.65"/><circle cx="307.5" cy="1795" r="3.65"/><circle cx="348" cy="1839.8" r="3.65"/><circle cx="438.5" cy="1962.6" r="3.65"/><circle cx="436.8" cy="1973.4" r="3.65"/><circle cx="442.9" cy="1966.6" r="3.65"/><circle cx="446.9" cy="1973.4" r="3.65"/><circle cx="458.7" cy="1982.8" r="3.65"/><circle cx="463.7" cy="1988.5" r="3.65"/><circle cx="470.5" cy="1985.1" r="3.65"/><circle cx="473.8" cy="1990.8" r="3.65"/><circle cx="478.9" cy="1990.2" r="3.65"/><circle cx="487.3" cy="1995.2" r="3.65"/><circle cx="494" cy="2000.3" r="3.65"/><circle cx="495.7" cy="1995.2" r="3.65"/><circle cx="502.4" cy="1990.2" r="3.65"/><circle cx="500.7" cy="2000.3" r="3.65"/><circle cx="509.2" cy="2006.3" r="3.65"/><circle cx="515.9" cy="1996.9" r="3.65"/><circle cx="518.6" cy="1986.8" r="3.65"/><circle cx="526" cy="1998.6" r="3.65"/><circle cx="527.7" cy="1993.5" r="3.65"/><circle cx="534.4" cy="1991.9" r="3.65"/><circle cx="539.4" cy="1990.2" r="3.65"/><circle cx="546.2" cy="1981.8" r="3.65"/><circle cx="549.5" cy="1986.8" r="3.65"/><circle cx="554.6" cy="1980.1" r="3.65"/><circle cx="557.9" cy="1985.1" r="3.65"/><circle cx="559.6" cy="1973.4" r="3.65"/><circle cx="564.7" cy="1975" r="3.65"/><circle cx="568" cy="1976.7" r="3.65"/><circle cx="573.1" cy="1970" r="3.65"/><circle cx="576.4" cy="1959.9" r="3.65"/><circle cx="583.2" cy="1953.2" r="3.65"/><circle cx="588.2" cy="1941.4" r="3.65"/><circle cx="593.3" cy="1946.4" r="3.65"/><circle cx="591.6" cy="1938" r="3.65"/><circle cx="600" cy="1933" r="3.65"/><circle cx="603.4" cy="1927.9" r="3.65"/><circle cx="608.4" cy="1921.2" r="3.65"/><circle cx="613.5" cy="1917.8" r="3.65"/><circle cx="616.8" cy="1909.4" r="3.65"/><circle cx="621.9" cy="1904.4" r="3.65"/><circle cx="625.2" cy="1901" r="3.65"/><circle cx="628.6" cy="1896" r="3.65"/><circle cx="519.9" cy="1994.6" r="3.65"/><circle cx="523.5" cy="1994.3" r="3.65"/><circle cx="526.6" cy="1996.6" r="3.65"/><circle cx="529.1" cy="1995.1" r="3.65"/><circle cx="531.4" cy="1991" r="3.65"/><circle cx="534.2" cy="1991.7" r="3.65"/><circle cx="537.2" cy="1989.6" r="3.65"/><circle cx="539.1" cy="1991.7" r="3.65"/><circle cx="541.9" cy="1988.2" r="3.65"/><circle cx="545.9" cy="1986" r="3.65"/><circle cx="547" cy="1986.6" r="3.65"/><circle cx="550.5" cy="1984.7" r="3.65"/><circle cx="552.1" cy="1982.2" r="3.65"/><circle cx="554.7" cy="1979.7" r="3.65"/><circle cx="558.8" cy="1977.1" r="3.65"/><circle cx="560.7" cy="1979.9" r="3.65"/><circle cx="564.7" cy="1975.6" r="3.65"/><circle cx="566.9" cy="1974.6" r="3.65"/><circle cx="569" cy="1974" r="3.65"/><circle cx="571.1" cy="1971.7" r="3.65"/><circle cx="573.5" cy="1967.8" r="3.65"/><circle cx="577.5" cy="1961.6" r="3.65"/><circle cx="580.2" cy="1957.5" r="3.65"/><circle cx="583" cy="1951.7" r="3.65"/><circle cx="585.2" cy="1951.3" r="3.65"/><circle cx="588.7" cy="1943.9" r="3.65"/><circle cx="590" cy="1944.3" r="3.65"/><circle cx="592.9" cy="1937.1" r="3.65"/><circle cx="596.3" cy="1935.9" r="3.65"/><circle cx="599" cy="1933.3" r="3.65"/><circle cx="601.2" cy="1930" r="3.65"/><circle cx="603.5" cy="1929.5" r="3.65"/><circle cx="606.9" cy="1925.8" r="3.65"/><circle cx="610" cy="1919.8" r="3.65"/><circle cx="612.8" cy="1919.5" r="3.65"/><circle cx="614.6" cy="1914.7" r="3.65"/><circle cx="616.5" cy="1912.4" r="3.65"/><circle cx="619.3" cy="1907.9" r="3.65"/><circle cx="621.4" cy="1902.9" r="3.65"/><circle cx="623.5" cy="1903.6" r="3.65"/><circle cx="624.7" cy="1903.7" r="3.65"/><circle cx="626.3" cy="1898.7" r="3.65"/><circle cx="626.7" cy="1899.8" r="3.65"/><circle cx="627.8" cy="1898.3" r="3.65"/><circle cx="628.7" cy="1898.5" r="3.65"/></g>
<rect x="114.6" y="1641" width="935.6" height="382.8" fill="none" stroke="#000" stroke-width="2.45"/>
<text x="157" y="2062.8" font-size="22.9" text-anchor="middle" fill="#000">0</text>
<text x="263.3" y="2062.8" font-size="22.9" text-anchor="middle" fill="#000">45</text>
<text x="369.6" y="2062.8" font-size="22.9" text-anchor="middle" fill="#000">90</text>
<text x="475.9" y="2062.8" font-size="22.9" text-anchor="middle" fill="#000">135</text>
<text x="582.2" y="2062.8" font-size="22.9" text-anchor="middle" fill="#000">180</text>
<text x="688.6" y="2062.8" font-size="22.9" text-anchor="middle" fill="#000">225</text>
<text x="794.9" y="2062.8" font-size="22.9" text-anchor="middle" fill="#000">270</text>
<text x="901.2" y="2062.8" font-size="22.9" text-anchor="middle" fill="#000">315</text>
<text x="1007.5" y="2062.8" font-size="22.9" text-anchor="middle" fill="#000">360</text>
<text x="94" y="1986" font-size="22.9" text-anchor="end" fill="#000">700</text>
<text x="94" y="1920.9" font-size="22.9" text-anchor="end" fill="#000">750</text>
<text x="94" y="1855.8" font-size="22.9" text-anchor="end" fill="#000">800</text>
<text x="94" y="1790.6" font-size="22.9" text-anchor="end" fill="#000">850</text>
<text x="94" y="1725.5" font-size="22.9" text-anchor="end" fill="#000">900</text>
<text x="94" y="1660.4" font-size="22.9" text-anchor="end" fill="#000">950</text>
<path d="M157 2024.8v9.6M263.3 2024.8v9.6M369.6 2024.8v9.6M475.9 2024.8v9.6M582.2 2024.8v9.6M688.6 2024.8v9.6M794.9 2024.8v9.6M901.2 2024.8v9.6M1007.5 2024.8v9.6M113.6 1977.5h-9.6M113.6 1912.4h-9.6M113.6 1847.3h-9.6M113.6 1782.1h-9.6M113.6 1717h-9.6M113.6 1651.9h-9.6" stroke="#000" stroke-width="2.45" fill="none"/>
<text x="582.4" y="2095.1" font-size="22.3" text-anchor="middle" fill="#000">Solar Longitude (°)</text>
<text x="40.5" y="1832.4" font-size="22.3" text-anchor="middle" transform="rotate(-90 40.5 1832.4)" fill="#000">Pressure (Pa)</text>
<text x="0.5" y="1649.7" font-size="40" text-anchor="start" font-weight="bold" fill="#000">h</text>
<rect x="801.8" y="1652" width="237" height="163.6" rx="5" ry="5" fill="#fff" fill-opacity="0.8" stroke="#ccc" stroke-opacity="0.8" stroke-width="1.7"/>
<circle cx="833.1" cy="1670.2" r="3.65" fill="#ea0a0a"/>
<path d="M809 1701.5H857.2" stroke="#0000ff" stroke-opacity="0.5" stroke-width="4.6"/>
<path d="M809 1732.9H857.2" stroke="#008000" stroke-opacity="0.5" stroke-width="4.6"/>
<path d="M809 1764.2H857.2" stroke="#ffa500" stroke-opacity="0.5" stroke-width="4.6"/>
<rect x="809" y="1786.6" width="48.2" height="18" fill="#ff0000" fill-opacity="0.08"/>
<text x="873.2" y="1677.8" font-size="22.15" text-anchor="start" fill="#000">TW-1</text>
<text x="873.2" y="1709.1" font-size="22.15" text-anchor="start" fill="#000">Sol 14</text>
<text x="873.2" y="1740.5" font-size="22.15" text-anchor="start" fill="#000">Sol 92</text>
<text x="873.2" y="1771.8" font-size="22.15" text-anchor="start" fill="#000">Sol 223</text>
<text x="873.2" y="1803.2" font-size="22.15" text-anchor="start" fill="#000">GCM Simulated</text>
<path d="M1218.9 1668.8L1254.4 1674.4L1289.8 1680L1325.3 1684.1L1360.7 1684.6L1396.2 1682.8L1431.7 1677.9L1467.1 1672.9L1502.6 1670.8L1538 1670.6L1573.5 1672.5L1609 1677L1644.4 1681.1L1679.9 1685.4L1715.3 1688.9L1750.8 1691.9L1786.3 1692.8L1821.7 1691.3L1857.2 1683.1L1892.6 1672.9L1928.1 1664.1L1963.6 1658.3L1999 1659.1L2034.5 1663.2L2069.9 1668.6" stroke="#0000ff" stroke-width="2.85" stroke-dasharray="11.4 5.2" fill="none" stroke-linejoin="round"/>
<path d="M1218.9 1764.6L1254.4 1771.5L1289.8 1779.8L1325.3 1785.5L1360.7 1786.5L1396.2 1784.6L1431.7 1781.1L1467.1 1777.1L1502.6 1777L1538 1778.5L1573.5 1781.1L1609 1785.2L1644.4 1785L1679.9 1783.7L1715.3 1783.1L1750.8 1783.1L1786.3 1783.3L1821.7 1783.1L1857.2 1776.8L1892.6 1766.5L1928.1 1758.5L1963.6 1753.8L1999 1754.8L2034.5 1757.7L2069.9 1763.5" stroke="#008000" stroke-width="2.85" stroke-dasharray="11.4 5.2" fill="none" stroke-linejoin="round"/>
<path d="M1218.9 1952.5L1254.4 1956.6L1289.8 1959.8L1325.3 1961.6L1360.7 1961.6L1396.2 1958.1L1431.7 1951.6L1467.1 1942.6L1502.6 1938.5L1538 1935.7L1573.5 1937.6L1609 1941.9L1644.4 1946.3L1679.9 1951.6L1715.3 1956.6L1750.8 1960.9L1786.3 1963.9L1821.7 1965L1857.2 1958.1L1892.6 1949.3L1928.1 1941.9L1963.6 1937.6L1999 1940L2034.5 1945.8L2069.9 1951.6" stroke="#ffa500" stroke-width="2.85" stroke-dasharray="11.4 5.2" fill="none" stroke-linejoin="round"/>
<g fill="#0000ff"><circle cx="1666.5" cy="1703.8" r="3.8"/><circle cx="1666.5" cy="1704.5" r="3.8"/><circle cx="1667.4" cy="1700.6" r="3.8"/><circle cx="1668.4" cy="1699.4" r="3.8"/><circle cx="1666.8" cy="1695.2" r="3.8"/><circle cx="1666" cy="1702.2" r="3.8"/><circle cx="1667.3" cy="1694.9" r="3.8"/><circle cx="1668.8" cy="1696.3" r="3.8"/><circle cx="1667.2" cy="1696.6" r="3.8"/><circle cx="1667.9" cy="1700.2" r="3.8"/><circle cx="1667.8" cy="1696.2" r="3.8"/><circle cx="1666.7" cy="1696.1" r="3.8"/><circle cx="1666.9" cy="1694.7" r="3.8"/><circle cx="1666.3" cy="1705" r="3.8"/><circle cx="1669" cy="1695.2" r="3.8"/><circle cx="1665.9" cy="1695.5" r="3.8"/><circle cx="1668.1" cy="1702.7" r="3.8"/><circle cx="1665.8" cy="1700.2" r="3.8"/><circle cx="1665.8" cy="1699.4" r="3.8"/><circle cx="1667.9" cy="1705.3" r="3.8"/><circle cx="1666.6" cy="1703" r="3.8"/><circle cx="1668.7" cy="1704.5" r="3.8"/><circle cx="1665.8" cy="1698.8" r="3.8"/><circle cx="1669.1" cy="1697.9" r="3.8"/><circle cx="1668.5" cy="1699.8" r="3.8"/><circle cx="1668.4" cy="1699" r="3.8"/><circle cx="1665.9" cy="1694" r="3.8"/><circle cx="1666.1" cy="1696" r="3.8"/><circle cx="1669" cy="1700.8" r="3.8"/><circle cx="1668.5" cy="1700" r="3.8"/></g>
<g fill="#008000"><circle cx="1653" cy="1805.9" r="3.8"/><circle cx="1660.6" cy="1807.1" r="3.8"/><circle cx="1658" cy="1797.3" r="3.8"/><circle cx="1645.7" cy="1796.6" r="3.8"/><circle cx="1650.6" cy="1805.7" r="3.8"/><circle cx="1637.5" cy="1798.4" r="3.8"/><circle cx="1645.8" cy="1799.1" r="3.8"/><circle cx="1657.2" cy="1800.4" r="3.8"/><circle cx="1653.1" cy="1802.1" r="3.8"/><circle cx="1651.6" cy="1807.4" r="3.8"/><circle cx="1661.1" cy="1797.5" r="3.8"/><circle cx="1658.5" cy="1800.3" r="3.8"/><circle cx="1638.8" cy="1800.7" r="3.8"/><circle cx="1649.7" cy="1807.7" r="3.8"/><circle cx="1646" cy="1796.3" r="3.8"/><circle cx="1658.9" cy="1797.5" r="3.8"/><circle cx="1648.8" cy="1806.3" r="3.8"/><circle cx="1649.8" cy="1801.5" r="3.8"/><circle cx="1657.3" cy="1796.4" r="3.8"/><circle cx="1651.3" cy="1801.1" r="3.8"/><circle cx="1662.2" cy="1805.8" r="3.8"/><circle cx="1637.6" cy="1798.4" r="3.8"/><circle cx="1648.1" cy="1804.6" r="3.8"/><circle cx="1645" cy="1800.5" r="3.8"/><circle cx="1660.5" cy="1807.6" r="3.8"/><circle cx="1646.9" cy="1806.9" r="3.8"/><circle cx="1644.9" cy="1797.1" r="3.8"/><circle cx="1650.1" cy="1804.1" r="3.8"/><circle cx="1659.8" cy="1807.7" r="3.8"/><circle cx="1656.5" cy="1805.2" r="3.8"/><circle cx="1654.9" cy="1804.6" r="3.8"/><circle cx="1656.4" cy="1807.8" r="3.8"/><circle cx="1646.1" cy="1797.1" r="3.8"/><circle cx="1642.5" cy="1798.8" r="3.8"/><circle cx="1645.8" cy="1805.9" r="3.8"/><circle cx="1637.8" cy="1801.5" r="3.8"/><circle cx="1657.7" cy="1799.3" r="3.8"/><circle cx="1637.9" cy="1799" r="3.8"/><circle cx="1638.4" cy="1805.8" r="3.8"/><circle cx="1640.7" cy="1798.5" r="3.8"/><circle cx="1657.7" cy="1805.9" r="3.8"/><circle cx="1651.7" cy="1807.1" r="3.8"/><circle cx="1637.8" cy="1807.7" r="3.8"/><circle cx="1651.3" cy="1799.8" r="3.8"/><circle cx="1658" cy="1804.1" r="3.8"/><circle cx="1662.2" cy="1797.4" r="3.8"/><circle cx="1651.5" cy="1801.8" r="3.8"/><circle cx="1653.4" cy="1799" r="3.8"/><circle cx="1637" cy="1802.7" r="3.8"/><circle cx="1645.8" cy="1806.8" r="3.8"/><circle cx="1648.3" cy="1801.2" r="3.8"/><circle cx="1652.9" cy="1802.5" r="3.8"/><circle cx="1661.6" cy="1805.6" r="3.8"/><circle cx="1649.3" cy="1798.7" r="3.8"/><circle cx="1652.1" cy="1805.1" r="3.8"/><circle cx="1656.1" cy="1808.1" r="3.8"/><circle cx="1642" cy="1801.2" r="3.8"/><circle cx="1647.4" cy="1800" r="3.8"/><circle cx="1645.8" cy="1801.9" r="3.8"/><circle cx="1650.5" cy="1799.3" r="3.8"/><circle cx="1639.7" cy="1799.8" r="3.8"/><circle cx="1639.8" cy="1800" r="3.8"/><circle cx="1654.1" cy="1803.4" r="3.8"/><circle cx="1662.5" cy="1802.9" r="3.8"/><circle cx="1650.7" cy="1803.8" r="3.8"/><circle cx="1655.4" cy="1803.5" r="3.8"/><circle cx="1651.7" cy="1803.4" r="3.8"/><circle cx="1645.6" cy="1805.5" r="3.8"/><circle cx="1652.1" cy="1799.9" r="3.8"/><circle cx="1642.7" cy="1797" r="3.8"/><circle cx="1645.4" cy="1796.3" r="3.8"/><circle cx="1640.6" cy="1796.9" r="3.8"/><circle cx="1643.5" cy="1800.3" r="3.8"/><circle cx="1651.8" cy="1805.4" r="3.8"/><circle cx="1652.7" cy="1798.1" r="3.8"/><circle cx="1659.8" cy="1804.9" r="3.8"/><circle cx="1649.3" cy="1803.9" r="3.8"/><circle cx="1649.6" cy="1798.2" r="3.8"/><circle cx="1653.1" cy="1808" r="3.8"/><circle cx="1656.5" cy="1798.3" r="3.8"/><circle cx="1639.3" cy="1807.3" r="3.8"/><circle cx="1660.2" cy="1805.1" r="3.8"/><circle cx="1656.3" cy="1797.9" r="3.8"/><circle cx="1657.6" cy="1798.4" r="3.8"/><circle cx="1640.3" cy="1801" r="3.8"/><circle cx="1636.2" cy="1806.3" r="3.8"/><circle cx="1640.4" cy="1805" r="3.8"/><circle cx="1651.6" cy="1805.4" r="3.8"/><circle cx="1652" cy="1807.7" r="3.8"/><circle cx="1646.2" cy="1802.1" r="3.8"/><circle cx="1645.1" cy="1805.1" r="3.8"/><circle cx="1644.1" cy="1805.7" r="3.8"/><circle cx="1638.5" cy="1799" r="3.8"/><circle cx="1647.8" cy="1797.7" r="3.8"/><circle cx="1641.5" cy="1806.2" r="3.8"/><circle cx="1646" cy="1798.8" r="3.8"/><circle cx="1658.5" cy="1803" r="3.8"/><circle cx="1652.9" cy="1806.8" r="3.8"/><circle cx="1655" cy="1799.3" r="3.8"/><circle cx="1636.4" cy="1802.7" r="3.8"/><circle cx="1654.9" cy="1805.8" r="3.8"/><circle cx="1641.2" cy="1803.8" r="3.8"/><circle cx="1661" cy="1799.2" r="3.8"/><circle cx="1643.9" cy="1801.2" r="3.8"/><circle cx="1651.3" cy="1808" r="3.8"/><circle cx="1651.7" cy="1806.8" r="3.8"/><circle cx="1653.5" cy="1801.8" r="3.8"/><circle cx="1644.3" cy="1800.3" r="3.8"/><circle cx="1656.7" cy="1798.3" r="3.8"/><circle cx="1639.8" cy="1798.7" r="3.8"/></g>
<g fill="#ffa500"><circle cx="1564.5" cy="2000.6" r="3.8"/><circle cx="1552.3" cy="2000.2" r="3.8"/><circle cx="1549" cy="2001.3" r="3.8"/><circle cx="1568.2" cy="2001.4" r="3.8"/><circle cx="1558.6" cy="1997.2" r="3.8"/><circle cx="1554.2" cy="1997.7" r="3.8"/><circle cx="1548.1" cy="2005.5" r="3.8"/><circle cx="1565.7" cy="2005.2" r="3.8"/><circle cx="1550.3" cy="2000.6" r="3.8"/><circle cx="1570.9" cy="2001.2" r="3.8"/><circle cx="1571.3" cy="2006.5" r="3.8"/><circle cx="1547" cy="2001.2" r="3.8"/><circle cx="1562.2" cy="2000.4" r="3.8"/><circle cx="1556.8" cy="2000.5" r="3.8"/><circle cx="1552.9" cy="1997.2" r="3.8"/><circle cx="1566.1" cy="2006.9" r="3.8"/><circle cx="1547.8" cy="2005.5" r="3.8"/><circle cx="1561.2" cy="1997.1" r="3.8"/><circle cx="1548.6" cy="2002.2" r="3.8"/><circle cx="1549.6" cy="1999.9" r="3.8"/><circle cx="1554.1" cy="2006.6" r="3.8"/><circle cx="1559.2" cy="1999.8" r="3.8"/><circle cx="1571.6" cy="2006.6" r="3.8"/><circle cx="1565.8" cy="1998.3" r="3.8"/><circle cx="1570.3" cy="2001.3" r="3.8"/><circle cx="1567.6" cy="2004.1" r="3.8"/><circle cx="1564.1" cy="2004.6" r="3.8"/><circle cx="1568.3" cy="2001.5" r="3.8"/><circle cx="1559.6" cy="1997.9" r="3.8"/><circle cx="1556.6" cy="2005.8" r="3.8"/><circle cx="1552.6" cy="2004.4" r="3.8"/><circle cx="1568.1" cy="1998.9" r="3.8"/><circle cx="1567" cy="2003.5" r="3.8"/><circle cx="1572.6" cy="2000.8" r="3.8"/><circle cx="1566.8" cy="2005.4" r="3.8"/><circle cx="1556.8" cy="1999.2" r="3.8"/><circle cx="1556.5" cy="2003.4" r="3.8"/><circle cx="1553.6" cy="2005.5" r="3.8"/><circle cx="1554.6" cy="2004.6" r="3.8"/><circle cx="1555.3" cy="2002" r="3.8"/><circle cx="1569.9" cy="2001.8" r="3.8"/><circle cx="1563.3" cy="2000.3" r="3.8"/><circle cx="1559.2" cy="1997.5" r="3.8"/><circle cx="1560.5" cy="2001.4" r="3.8"/><circle cx="1554.7" cy="1998.6" r="3.8"/><circle cx="1555.8" cy="1999.9" r="3.8"/><circle cx="1556.4" cy="2005" r="3.8"/><circle cx="1570.5" cy="2006.1" r="3.8"/><circle cx="1558" cy="2005.9" r="3.8"/><circle cx="1562.3" cy="2006.9" r="3.8"/><circle cx="1550.1" cy="2004.5" r="3.8"/><circle cx="1562.4" cy="2002.1" r="3.8"/><circle cx="1566.8" cy="2005.2" r="3.8"/><circle cx="1568.8" cy="2000.4" r="3.8"/><circle cx="1556.9" cy="2002.9" r="3.8"/><circle cx="1548" cy="2005.1" r="3.8"/><circle cx="1562.3" cy="2001.3" r="3.8"/><circle cx="1563.7" cy="2006.5" r="3.8"/><circle cx="1568.1" cy="2003.5" r="3.8"/><circle cx="1552.3" cy="2006.6" r="3.8"/><circle cx="1557" cy="2006" r="3.8"/><circle cx="1560.1" cy="2003.6" r="3.8"/><circle cx="1570.3" cy="1997.5" r="3.8"/><circle cx="1554.6" cy="1998.7" r="3.8"/><circle cx="1548.1" cy="2000.3" r="3.8"/><circle cx="1571" cy="1999.4" r="3.8"/><circle cx="1549.8" cy="2006.3" r="3.8"/><circle cx="1559.8" cy="2001.6" r="3.8"/><circle cx="1565" cy="2005.1" r="3.8"/><circle cx="1552.8" cy="1998.9" r="3.8"/><circle cx="1558" cy="2005.4" r="3.8"/><circle cx="1571.3" cy="1998.8" r="3.8"/><circle cx="1565" cy="2001.4" r="3.8"/><circle cx="1570" cy="1999.9" r="3.8"/><circle cx="1554" cy="1997.1" r="3.8"/><circle cx="1569.8" cy="1998.6" r="3.8"/><circle cx="1554.2" cy="1999.4" r="3.8"/><circle cx="1571.2" cy="1997.7" r="3.8"/><circle cx="1555.7" cy="2003.7" r="3.8"/><circle cx="1551.2" cy="2002.7" r="3.8"/><circle cx="1558" cy="1997" r="3.8"/><circle cx="1562.8" cy="2000.4" r="3.8"/><circle cx="1552.4" cy="2006.7" r="3.8"/><circle cx="1569" cy="2001.4" r="3.8"/><circle cx="1555.3" cy="1997.1" r="3.8"/><circle cx="1566" cy="1999.6" r="3.8"/><circle cx="1560.3" cy="2003.2" r="3.8"/><circle cx="1566.7" cy="1998.5" r="3.8"/><circle cx="1549.2" cy="2004.7" r="3.8"/><circle cx="1548.2" cy="2001" r="3.8"/><circle cx="1547.8" cy="1999" r="3.8"/><circle cx="1551.8" cy="2005.3" r="3.8"/><circle cx="1566.4" cy="1999.4" r="3.8"/><circle cx="1562.3" cy="2001.9" r="3.8"/><circle cx="1549.2" cy="2000.5" r="3.8"/><circle cx="1566.6" cy="1998.2" r="3.8"/><circle cx="1553.2" cy="2000.5" r="3.8"/><circle cx="1546.9" cy="2004.6" r="3.8"/><circle cx="1557.3" cy="2003.3" r="3.8"/><circle cx="1560.7" cy="2004.7" r="3.8"/><circle cx="1564.2" cy="2000.9" r="3.8"/><circle cx="1550.1" cy="2001.2" r="3.8"/><circle cx="1547" cy="1997.7" r="3.8"/><circle cx="1568.7" cy="2002.1" r="3.8"/><circle cx="1567.7" cy="2004.3" r="3.8"/><circle cx="1560.8" cy="2004.2" r="3.8"/><circle cx="1571.7" cy="2006.4" r="3.8"/><circle cx="1553.5" cy="2006" r="3.8"/><circle cx="1559.3" cy="1999" r="3.8"/><circle cx="1557.7" cy="2002.8" r="3.8"/></g>
<rect x="1176.4" y="1641" width="935.7" height="382.9" fill="none" stroke="#000" stroke-width="2.45"/>
<text x="1218.9" y="2062.9" font-size="22.9" text-anchor="middle" fill="#000">0</text>
<text x="1289.8" y="2062.9" font-size="22.9" text-anchor="middle" fill="#000">2</text>
<text x="1360.7" y="2062.9" font-size="22.9" text-anchor="middle" fill="#000">4</text>
<text x="1431.7" y="2062.9" font-size="22.9" text-anchor="middle" fill="#000">6</text>
<text x="1502.6" y="2062.9" font-size="22.9" text-anchor="middle" fill="#000">8</text>
<text x="1573.5" y="2062.9" font-size="22.9" text-anchor="middle" fill="#000">10</text>
<text x="1644.4" y="2062.9" font-size="22.9" text-anchor="middle" fill="#000">12</text>
<text x="1715.3" y="2062.9" font-size="22.9" text-anchor="middle" fill="#000">14</text>
<text x="1786.3" y="2062.9" font-size="22.9" text-anchor="middle" fill="#000">16</text>
<text x="1857.2" y="2062.9" font-size="22.9" text-anchor="middle" fill="#000">18</text>
<text x="1928.1" y="2062.9" font-size="22.9" text-anchor="middle" fill="#000">20</text>
<text x="1999" y="2062.9" font-size="22.9" text-anchor="middle" fill="#000">22</text>
<text x="2069.9" y="2062.9" font-size="22.9" text-anchor="middle" fill="#000">24</text>
<text x="1155.8" y="1974.6" font-size="22.9" text-anchor="end" fill="#000">700</text>
<text x="1155.8" y="1881.3" font-size="22.9" text-anchor="end" fill="#000">750</text>
<text x="1155.8" y="1788.1" font-size="22.9" text-anchor="end" fill="#000">800</text>
<text x="1155.8" y="1694.8" font-size="22.9" text-anchor="end" fill="#000">850</text>
<path d="M1218.9 2024.9v9.6M1289.8 2024.9v9.6M1360.7 2024.9v9.6M1431.7 2024.9v9.6M1502.6 2024.9v9.6M1573.5 2024.9v9.6M1644.4 2024.9v9.6M1715.3 2024.9v9.6M1786.3 2024.9v9.6M1857.2 2024.9v9.6M1928.1 2024.9v9.6M1999 2024.9v9.6M2069.9 2024.9v9.6M1175.4 1966.1h-9.6M1175.4 1872.8h-9.6M1175.4 1779.6h-9.6M1175.4 1686.3h-9.6" stroke="#000" stroke-width="2.45" fill="none"/>
<text x="1644.2" y="2095.2" font-size="22.3" text-anchor="middle" fill="#000">Local True Solar Time (hour)</text>
<text x="1100.5" y="1832.5" font-size="22.3" text-anchor="middle" transform="rotate(-90 1100.5 1832.5)" fill="#000">Pressure (Pa)</text>
<text x="1080.5" y="1649.2" font-size="40" text-anchor="start" font-weight="bold" fill="#000">i</text>
<rect x="1187.6" y="1817.4" width="259.9" height="195.6" rx="5" ry="5" fill="#fff" fill-opacity="0.8" stroke="#ccc" stroke-opacity="0.8" stroke-width="1.7"/>
<path d="M1196 1836.4H1241.6" stroke="#0000ff" stroke-width="2.85" stroke-dasharray="11.4 5.2" fill="none"/>
<text x="1258.9" y="1844" font-size="22.15" text-anchor="start" fill="#000">Simulated Sol 14</text>
<circle cx="1218.7" cy="1867.6" r="3.8" fill="#0000ff"/>
<text x="1258.9" y="1875.2" font-size="22.15" text-anchor="start" fill="#000">Measured Sol 14</text>
<path d="M1196 1898.8H1241.6" stroke="#008000" stroke-width="2.85" stroke-dasharray="11.4 5.2" fill="none"/>
<text x="1258.9" y="1906.4" font-size="22.15" text-anchor="start" fill="#000">Simulated Sol 92</text>
<circle cx="1218.7" cy="1930" r="3.8" fill="#008000"/>
<text x="1258.9" y="1937.6" font-size="22.15" text-anchor="start" fill="#000">Measured Sol 92</text>
<path d="M1196 1961.2H1241.6" stroke="#ffa500" stroke-width="2.85" stroke-dasharray="11.4 5.2" fill="none"/>
<text x="1258.9" y="1968.8" font-size="22.15" text-anchor="start" fill="#000">Simulated Sol 223</text>
<circle cx="1218.7" cy="1992.4" r="3.8" fill="#ffa500"/>
<text x="1258.9" y="2000" font-size="22.15" text-anchor="start" fill="#000">Measured Sol 223</text>
</svg>
</body></html>
